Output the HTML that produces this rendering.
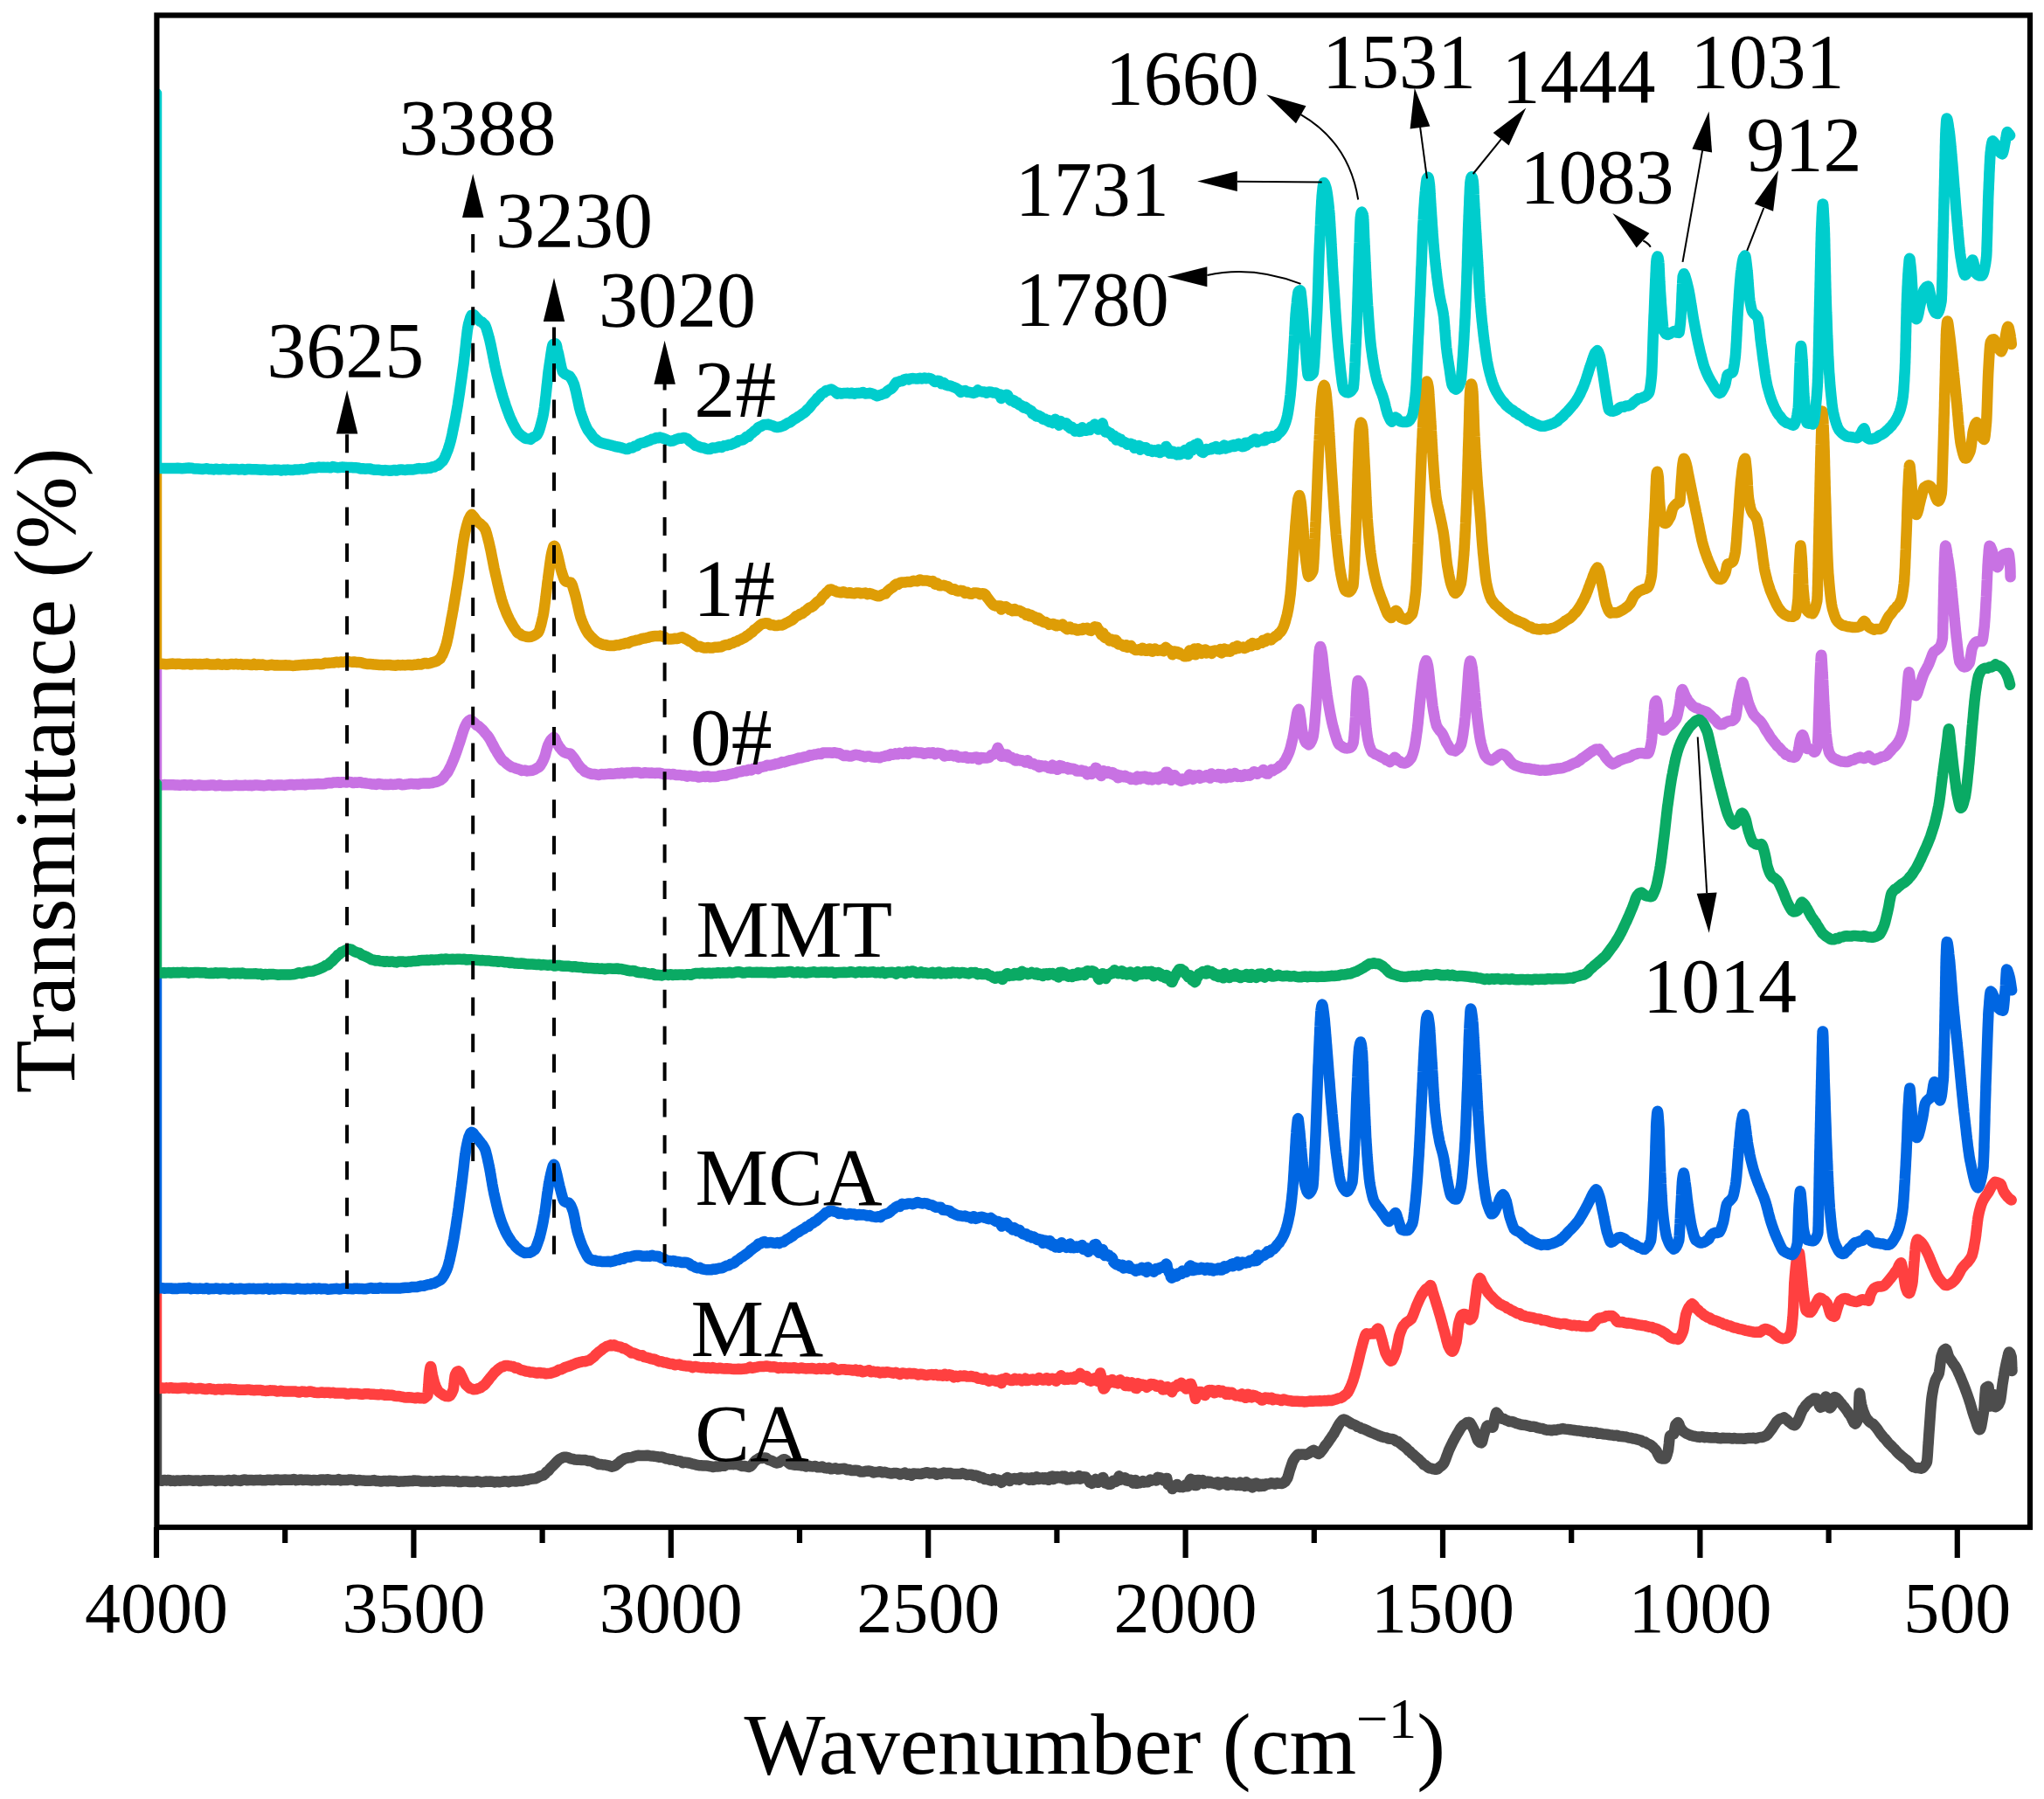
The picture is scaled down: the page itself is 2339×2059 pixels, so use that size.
<!DOCTYPE html><html><head><meta charset="utf-8"><title>FTIR spectra</title>
<style>html,body{margin:0;padding:0;background:#fff}svg{display:block}text{font-family:"Liberation Serif","Times New Roman",serif;fill:#000}</style></head><body>
<svg width="2339" height="2059" viewBox="0 0 2339 2059">
<rect width="2339" height="2059" fill="#fff"/>
<defs><clipPath id="plotclip"><rect x="179.4" y="17.5" width="2143.6" height="1730.5"/></clipPath></defs>
<g fill="none" stroke-linejoin="round" stroke-linecap="round" clip-path="url(#plotclip)">
<path d="M179.0,1589L179.0,1694.2L182.1,1694.2L185.2,1694.8L187.8,1693.9L190.4,1694.5L192.9,1693.9L195.5,1694.9L198.1,1694.6L200.6,1695.0L203.2,1694.4L205.8,1694.7L208.3,1694.5L210.9,1694.3L213.5,1694.6L216.0,1694.1L218.6,1694.4L221.2,1694.7L223.8,1694.5L226.3,1694.4L228.9,1695.1L231.5,1694.5L234.0,1694.3L236.6,1694.5L239.2,1694.3L241.7,1694.3L244.3,1694.3L246.9,1695.0L249.4,1694.4L252.0,1694.4L254.6,1694.6L257.1,1694.9L259.7,1694.3L262.3,1694.1L264.8,1695.0L267.4,1693.8L270.0,1694.2L272.5,1694.5L275.1,1694.9L277.6,1693.9L280.2,1693.4L282.7,1694.3L285.3,1694.0L287.8,1694.0L290.4,1694.2L292.9,1694.1L295.5,1694.1L298.0,1693.8L300.6,1694.3L303.2,1694.3L305.7,1693.8L308.3,1693.7L310.8,1694.0L313.4,1693.9L315.9,1693.4L318.5,1693.6L321.0,1694.0L323.6,1693.7L326.1,1693.6L328.7,1693.8L331.2,1693.7L333.8,1693.7L336.3,1693.1L338.9,1694.2L341.4,1693.8L344.0,1693.4L346.5,1694.0L349.1,1693.8L351.7,1693.7L354.2,1694.0L356.8,1694.4L359.3,1693.9L361.9,1694.2L364.4,1694.3L367.0,1693.4L369.5,1693.5L372.1,1693.9L374.6,1693.2L377.2,1693.6L379.7,1694.1L382.3,1694.0L384.8,1693.9L387.4,1693.1L389.9,1694.4L392.5,1693.9L395.0,1694.0L397.6,1694.0L400.1,1693.4L402.7,1693.6L405.3,1693.7L407.8,1694.8L410.4,1694.0L412.9,1694.3L415.5,1694.4L418.0,1694.7L420.6,1694.8L423.1,1694.8L425.7,1694.5L428.2,1694.1L430.8,1695.0L433.3,1695.1L435.9,1695.5L438.4,1695.1L441.0,1695.0L443.5,1695.3L446.1,1694.7L448.6,1694.9L451.2,1694.9L453.8,1695.3L456.3,1695.8L458.9,1695.4L461.4,1695.5L464.0,1695.2L466.5,1695.3L469.1,1695.0L471.6,1695.1L474.2,1694.4L476.7,1694.8L479.3,1694.8L481.8,1695.4L484.4,1695.4L486.9,1695.5L489.5,1695.6L492.0,1695.1L494.6,1695.5L497.1,1695.8L499.7,1695.2L502.3,1695.5L504.8,1695.1L507.4,1694.7L509.9,1695.2L512.5,1695.0L515.0,1695.3L517.6,1695.2L520.1,1695.5L522.7,1694.8L525.2,1696.1L527.8,1695.9L530.3,1695.5L532.9,1695.4L535.4,1695.7L538.0,1696.0L540.5,1695.9L543.1,1696.0L545.6,1695.3L548.2,1695.6L550.7,1696.4L553.3,1696.1L555.9,1695.6L558.4,1695.8L561.0,1695.6L563.6,1695.7L566.3,1696.4L569.0,1695.9L571.6,1696.2L574.3,1695.9L577.0,1695.3L579.6,1695.5L582.3,1696.2L585.0,1695.2L587.6,1695.0L590.3,1695.5L592.8,1695.0L595.3,1694.8L597.9,1695.0L600.4,1693.7L602.9,1694.0L605.4,1693.2L607.9,1692.7L610.3,1692.4L612.6,1692.3L615.0,1691.2L617.3,1689.8L619.7,1689.0L621.6,1688.5L623.6,1686.9L625.5,1684.6L627.5,1683.4L629.5,1680.8L631.4,1678.8L633.2,1677.2L634.9,1675.3L636.7,1673.5L638.5,1671.6L640.2,1670.1L642.7,1668.9L645.1,1667.8L647.6,1667.8L650.1,1668.1L652.7,1669.3L655.3,1669.8L657.8,1670.6L660.3,1670.7L662.7,1670.8L665.2,1670.9L667.6,1671.0L670.1,1671.1L672.5,1671.9L675.0,1672.1L677.4,1672.5L679.8,1673.9L682.3,1674.7L684.7,1675.9L687.2,1676.0L689.8,1676.4L692.3,1676.5L694.9,1677.1L697.5,1677.7L700.0,1678.7L702.1,1678.2L704.2,1677.4L706.3,1675.7L708.4,1674.1L710.5,1672.0L712.6,1670.9L714.7,1669.5L717.2,1668.7L719.8,1668.3L722.4,1668.3L725.0,1667.2L727.5,1666.3L730.1,1665.8L732.7,1666.0L735.2,1666.0L737.9,1666.0L740.7,1665.7L743.4,1666.2L746.1,1666.4L748.8,1666.8L751.6,1667.1L754.3,1667.8L757.0,1667.5L759.5,1668.3L761.9,1669.4L764.3,1669.4L766.8,1670.5L769.2,1670.2L771.7,1671.1L774.1,1672.0L776.6,1671.9L779.0,1672.6L781.5,1674.3L783.9,1673.6L786.4,1674.0L789.0,1674.5L791.7,1675.3L794.4,1675.8L797.0,1676.7L799.7,1677.2L802.4,1677.2L805.0,1677.6L807.7,1677.6L810.4,1677.8L813.0,1678.3L815.7,1679.0L818.3,1678.6L820.9,1678.6L823.5,1678.3L826.2,1677.4L828.8,1677.8L831.4,1676.3L834.0,1675.9L836.6,1675.7L839.2,1676.2L841.7,1675.8L844.2,1676.0L846.7,1677.1L849.3,1678.0L851.8,1678.0L854.3,1678.4L856.8,1679.1L858.9,1678.2L860.9,1676.1L863.0,1673.2L865.0,1671.3L867.1,1670.0L869.5,1668.4L872.0,1669.1L874.4,1668.4L876.9,1668.7L879.3,1670.7L881.8,1671.4L884.2,1672.5L886.7,1673.8L889.1,1674.5L891.3,1674.0L893.5,1672.3L895.7,1670.7L897.9,1670.2L899.9,1671.5L901.8,1673.9L903.8,1675.7L906.4,1676.1L909.1,1676.7L911.8,1676.7L914.5,1676.9L917.1,1677.5L919.8,1677.6L922.5,1678.4L925.1,1677.7L927.8,1678.3L930.5,1678.4L933.1,1678.0L935.7,1679.3L938.2,1679.2L940.8,1678.4L943.3,1680.0L945.9,1680.4L948.4,1679.8L951.0,1681.3L953.6,1680.8L956.1,1680.3L958.7,1681.5L961.2,1681.2L963.8,1680.9L966.3,1680.7L968.9,1682.3L971.4,1682.0L974.0,1682.9L976.5,1683.0L979.1,1682.7L981.6,1682.9L984.2,1684.4L986.7,1684.6L989.3,1684.2L991.8,1683.7L994.4,1683.5L996.9,1684.1L999.5,1685.5L1002.1,1684.9L1004.6,1684.6L1007.2,1684.2L1009.7,1685.3L1012.3,1684.8L1014.8,1685.5L1017.4,1686.1L1019.9,1686.5L1022.5,1686.1L1025.0,1685.9L1027.6,1686.4L1030.1,1687.6L1032.7,1686.7L1035.2,1685.6L1037.8,1687.7L1040.3,1686.9L1042.9,1688.6L1045.4,1686.5L1048.0,1686.8L1050.6,1686.7L1053.2,1687.1L1055.9,1686.4L1058.6,1685.7L1061.2,1685.2L1063.9,1686.4L1066.6,1686.0L1069.2,1685.8L1071.9,1687.8L1074.6,1686.7L1077.2,1686.9L1079.9,1685.6L1082.6,1686.3L1085.2,1685.9L1087.9,1686.1L1090.6,1687.0L1093.2,1687.0L1095.9,1687.0L1098.6,1687.1L1101.3,1686.1L1103.9,1686.9L1106.6,1688.1L1109.3,1687.8L1111.8,1687.7L1114.3,1689.1L1116.8,1688.6L1119.3,1689.4L1121.8,1691.3L1124.4,1690.9L1126.9,1693.1L1129.4,1693.0L1131.9,1693.8L1134.4,1694.7L1136.9,1692.3L1139.5,1694.4L1142.0,1693.6L1144.5,1694.4L1145.9,1696.9L1147.2,1695.8L1148.6,1694.6L1150.0,1693.3L1151.4,1691.9L1152.8,1691.1L1154.2,1694.3L1155.5,1694.8L1156.9,1693.0L1158.3,1692.6L1159.7,1692.5L1161.1,1692.1L1162.4,1693.2L1163.8,1693.0L1165.2,1692.1L1166.6,1693.8L1168.0,1691.1L1169.4,1692.0L1170.8,1691.9L1172.2,1691.7L1173.6,1691.8L1175.0,1691.6L1176.4,1693.2L1177.8,1693.8L1179.1,1691.6L1180.5,1691.3L1181.9,1693.8L1183.3,1693.6L1184.7,1691.0L1186.1,1690.3L1187.5,1692.8L1188.9,1692.9L1190.3,1691.4L1191.7,1692.4L1193.1,1691.2L1194.5,1693.1L1195.9,1691.3L1197.3,1692.7L1198.7,1693.1L1200.1,1693.8L1201.5,1690.4L1202.9,1689.9L1204.3,1689.5L1205.7,1693.0L1207.1,1690.1L1208.5,1691.7L1209.9,1689.9L1211.3,1690.9L1212.7,1691.4L1214.1,1690.7L1215.5,1689.4L1216.9,1692.2L1218.3,1689.6L1219.7,1692.2L1221.1,1693.4L1222.5,1691.9L1223.9,1693.3L1225.3,1690.7L1226.7,1690.5L1228.0,1692.5L1229.3,1692.4L1230.7,1692.1L1232.0,1692.1L1233.3,1692.3L1234.7,1689.0L1236.0,1692.7L1237.3,1691.3L1238.7,1691.4L1240.0,1690.3L1241.4,1691.2L1242.5,1690.6L1243.7,1692.6L1244.8,1693.1L1246.0,1694.7L1247.1,1696.7L1248.3,1695.6L1249.6,1697.9L1251.0,1694.8L1252.3,1694.3L1253.7,1693.0L1255.0,1694.0L1256.4,1696.8L1257.7,1696.1L1259.1,1694.1L1260.2,1692.9L1261.4,1691.4L1262.5,1691.1L1263.7,1695.8L1264.8,1697.4L1266.0,1697.0L1267.1,1696.9L1268.5,1698.8L1269.8,1696.7L1271.2,1698.7L1272.5,1696.0L1273.9,1694.8L1275.2,1694.9L1276.6,1696.0L1277.9,1695.2L1279.2,1692.3L1280.6,1689.3L1281.9,1693.8L1283.3,1692.6L1284.6,1692.2L1286.0,1692.6L1287.3,1691.2L1288.7,1694.4L1290.0,1693.5L1291.4,1695.0L1292.7,1693.7L1294.0,1693.8L1295.4,1695.0L1296.7,1697.4L1298.1,1696.4L1299.4,1694.0L1300.8,1697.8L1302.1,1697.3L1303.5,1696.5L1304.8,1697.1L1306.2,1696.5L1307.7,1695.1L1309.1,1696.6L1310.5,1696.1L1311.9,1695.7L1313.4,1696.2L1314.8,1695.0L1316.2,1693.6L1317.6,1694.6L1319.1,1693.9L1320.5,1694.1L1321.9,1693.8L1323.3,1694.4L1324.8,1690.8L1326.2,1692.8L1327.6,1691.3L1329.0,1691.9L1330.3,1693.7L1331.5,1694.4L1332.8,1693.7L1334.0,1692.1L1335.3,1692.1L1336.6,1699.1L1337.8,1699.9L1339.1,1699.6L1340.3,1700.8L1341.6,1704.1L1342.8,1701.3L1344.2,1702.1L1345.6,1701.9L1347.0,1699.0L1348.3,1701.1L1349.7,1701.9L1351.1,1702.0L1352.5,1701.5L1353.9,1702.1L1355.2,1701.4L1356.6,1699.6L1358.0,1699.8L1359.1,1701.3L1360.2,1699.2L1361.4,1694.6L1362.5,1692.8L1363.6,1696.2L1364.7,1695.6L1366.1,1694.0L1367.6,1700.1L1369.0,1700.0L1370.5,1693.9L1371.9,1694.0L1373.3,1694.8L1374.8,1696.4L1376.2,1694.1L1377.6,1698.1L1379.1,1695.6L1380.5,1696.1L1381.9,1695.6L1383.4,1697.2L1384.8,1695.7L1386.2,1697.3L1387.7,1697.4L1389.1,1697.6L1390.5,1698.1L1391.9,1696.8L1393.3,1696.3L1394.7,1699.5L1396.2,1698.3L1397.6,1697.2L1399.0,1697.4L1400.4,1698.2L1401.8,1697.8L1403.2,1696.0L1404.7,1699.8L1406.1,1699.5L1407.5,1697.2L1408.9,1698.0L1410.3,1699.3L1411.7,1697.2L1413.1,1699.0L1414.6,1699.9L1416.0,1698.4L1417.5,1699.4L1418.9,1696.6L1420.3,1700.0L1421.8,1699.7L1423.2,1699.9L1424.6,1700.9L1426.1,1696.2L1427.5,1700.4L1428.9,1699.6L1430.4,1698.9L1431.8,1698.4L1433.2,1702.4L1434.7,1698.3L1436.1,1700.0L1437.5,1697.5L1439.0,1700.4L1440.4,1701.0L1441.9,1698.7L1443.3,1700.9L1444.7,1698.8L1446.2,1700.7L1447.6,1700.1L1449.0,1698.3L1450.5,1698.7L1451.9,1698.6L1453.3,1698.2L1454.8,1697.2L1456.2,1697.6L1458.9,1698.5L1461.6,1697.3L1464.3,1697.8L1467.0,1698.0L1468.8,1697.1L1470.6,1695.9L1472.3,1693.2L1473.2,1691.9L1474.0,1689.6L1474.8,1686.8L1475.6,1683.9L1476.4,1681.4L1477.4,1678.4L1478.4,1675.3L1479.4,1672.6L1480.4,1670.8L1482.1,1668.1L1483.8,1666.2L1485.5,1664.5L1487.1,1664.7L1489.4,1664.5L1491.6,1664.4L1493.9,1665.0L1496.2,1664.2L1498.6,1662.8L1500.9,1661.1L1503.3,1659.8L1505.1,1660.9L1506.9,1662.9L1508.7,1664.0L1510.3,1663.1L1511.9,1661.2L1513.5,1659.4L1515.1,1657.0L1516.7,1654.3L1518.3,1652.6L1519.9,1650.4L1521.5,1647.9L1523.0,1645.8L1524.6,1643.3L1526.2,1641.2L1527.5,1638.8L1528.9,1636.3L1530.2,1633.8L1531.5,1631.5L1532.9,1629.2L1534.2,1627.5L1536.1,1625.3L1537.9,1624.5L1540.0,1625.3L1542.2,1626.7L1544.3,1627.9L1546.6,1629.5L1548.9,1630.3L1551.2,1631.2L1553.5,1633.0L1555.8,1633.5L1558.1,1635.0L1560.4,1635.4L1562.8,1636.5L1565.1,1637.5L1567.5,1638.9L1569.9,1639.7L1572.2,1640.6L1574.6,1641.7L1576.9,1642.6L1579.3,1643.7L1581.6,1644.5L1584.0,1645.1L1586.3,1645.4L1588.7,1646.5L1591.0,1646.8L1593.4,1646.9L1595.7,1647.9L1598.1,1649.7L1600.0,1650.0L1601.9,1651.8L1603.9,1653.3L1605.8,1654.8L1607.7,1656.1L1609.6,1657.7L1611.6,1660.1L1613.5,1661.3L1615.4,1663.5L1617.3,1664.7L1619.2,1666.7L1621.2,1668.5L1623.1,1669.8L1625.0,1671.9L1627.2,1673.9L1629.3,1676.3L1631.5,1677.3L1633.6,1679.0L1635.8,1680.3L1638.1,1680.7L1640.5,1681.4L1642.9,1681.8L1645.0,1681.4L1647.1,1679.4L1649.2,1677.9L1651.3,1675.9L1652.2,1674.6L1653.2,1672.6L1654.2,1670.2L1655.1,1667.5L1656.1,1664.8L1657.1,1662.2L1658.0,1659.8L1659.2,1657.3L1660.3,1654.9L1661.5,1652.5L1662.6,1650.1L1663.8,1647.9L1664.9,1645.7L1666.1,1643.7L1667.4,1641.4L1668.8,1639.2L1670.1,1636.9L1671.5,1634.5L1672.8,1632.9L1674.2,1631.3L1676.4,1630.1L1678.6,1628.2L1680.9,1627.8L1682.2,1628.3L1683.6,1630.5L1684.9,1632.9L1686.3,1635.6L1687.2,1637.6L1688.1,1640.2L1689.0,1642.9L1689.9,1645.4L1690.7,1647.6L1691.6,1649.2L1693.4,1650.8L1695.1,1651.4L1696.0,1650.5L1696.8,1647.5L1697.6,1643.9L1698.4,1641.0L1699.4,1638.0L1700.4,1634.9L1701.4,1632.3L1702.4,1631.6L1705.1,1633.0L1707.8,1633.8L1708.4,1633.4L1709.0,1631.1L1709.6,1628.1L1710.2,1624.9L1710.8,1622.2L1711.5,1618.8L1712.3,1616.6L1713.7,1618.2L1715.1,1620.2L1716.5,1622.0L1718.7,1623.7L1721.0,1624.0L1723.2,1625.4L1725.5,1626.2L1727.7,1627.1L1730.0,1627.0L1732.4,1627.8L1734.8,1628.9L1737.2,1629.5L1739.6,1630.3L1742.1,1630.8L1744.5,1630.9L1746.9,1631.4L1749.3,1632.1L1751.7,1632.8L1754.2,1632.7L1756.9,1633.2L1759.6,1634.2L1762.2,1634.7L1764.9,1634.9L1767.6,1636.1L1770.3,1636.8L1773.0,1636.8L1775.7,1637.2L1778.2,1636.5L1780.7,1636.7L1783.3,1636.0L1785.8,1635.6L1788.3,1635.1L1791.0,1635.6L1793.7,1635.9L1796.4,1636.2L1799.0,1636.6L1801.7,1637.0L1804.4,1637.4L1807.1,1637.6L1809.8,1638.0L1812.5,1638.6L1815.2,1638.4L1817.8,1639.4L1820.5,1639.0L1823.2,1639.7L1825.9,1639.5L1828.6,1640.8L1831.3,1640.6L1834.0,1641.2L1836.6,1641.4L1839.3,1641.8L1842.0,1642.2L1844.7,1642.5L1847.4,1643.1L1850.1,1642.8L1852.8,1643.7L1855.4,1644.0L1858.1,1644.3L1860.8,1644.5L1863.5,1645.5L1866.2,1645.7L1868.9,1646.5L1871.2,1646.7L1873.5,1647.4L1875.8,1648.1L1878.1,1648.6L1880.4,1650.4L1882.7,1650.6L1885.0,1652.2L1886.9,1653.0L1888.8,1653.9L1890.6,1655.2L1892.5,1657.3L1894.4,1659.2L1895.8,1661.2L1897.1,1664.2L1898.5,1666.7L1899.9,1668.8L1902.4,1669.6L1905.0,1669.6L1905.9,1668.9L1906.9,1666.9L1907.9,1663.9L1908.9,1660.4L1909.2,1658.5L1909.5,1655.7L1909.9,1652.4L1910.2,1649.1L1910.5,1646.1L1910.9,1643.9L1911.2,1643.2L1913.2,1642.1L1915.3,1641.2L1915.8,1639.9L1916.3,1636.5L1916.9,1632.9L1917.4,1630.7L1920.1,1628.0L1921.2,1629.6L1922.2,1632.5L1923.3,1634.7L1925.3,1637.5L1927.3,1639.0L1929.4,1640.5L1931.4,1641.4L1934.1,1642.6L1936.7,1643.3L1939.4,1643.9L1942.1,1644.5L1944.8,1644.9L1947.5,1644.2L1950.2,1645.2L1952.9,1644.9L1955.5,1645.2L1958.2,1645.5L1960.9,1645.4L1963.6,1645.2L1966.3,1646.0L1969.0,1646.2L1971.7,1645.8L1974.3,1645.9L1977.0,1646.0L1979.7,1646.1L1982.4,1646.5L1985.1,1646.0L1987.8,1646.6L1990.5,1646.6L1993.1,1646.5L1995.8,1646.7L1998.5,1646.3L2001.2,1646.1L2003.9,1646.1L2006.6,1645.8L2009.3,1646.5L2011.9,1645.5L2014.3,1645.0L2016.6,1645.0L2019.0,1644.0L2021.3,1643.0L2023.0,1641.4L2024.7,1639.2L2026.4,1637.0L2028.1,1634.7L2029.7,1632.2L2031.4,1629.6L2033.1,1627.1L2034.8,1625.5L2037.0,1623.9L2039.3,1623.5L2041.5,1622.4L2043.3,1623.7L2045.1,1625.1L2046.9,1627.2L2049.1,1628.7L2051.3,1630.6L2053.6,1631.3L2054.9,1630.4L2056.3,1628.0L2057.6,1625.5L2058.7,1623.3L2059.8,1620.6L2060.8,1617.9L2061.9,1615.4L2063.0,1613.2L2064.6,1611.4L2066.2,1608.7L2067.8,1607.0L2069.4,1605.5L2071.0,1603.9L2073.5,1602.4L2076.0,1600.5L2078.6,1600.4L2079.7,1601.6L2080.8,1605.3L2082.0,1609.0L2083.1,1610.8L2086.6,1609.4L2087.3,1607.4L2088.0,1603.7L2088.6,1600.2L2089.3,1598.5L2090.2,1599.9L2091.1,1603.1L2092.0,1606.9L2093.0,1610.1L2093.9,1611.5L2095.8,1609.8L2097.6,1606.6L2098.2,1604.0L2098.8,1600.4L2099.4,1599.0L2101.7,1600.1L2103.9,1602.5L2105.6,1604.8L2107.3,1606.5L2108.9,1608.8L2110.6,1610.6L2112.3,1613.0L2114.0,1615.3L2115.6,1617.9L2117.3,1619.9L2118.8,1622.8L2120.2,1625.9L2121.6,1628.5L2123.1,1629.5L2124.0,1628.8L2124.9,1627.2L2125.8,1624.3L2126.7,1620.1L2126.8,1618.9L2126.9,1616.6L2127.1,1613.6L2127.2,1610.2L2127.3,1606.5L2127.4,1602.9L2127.5,1599.7L2127.7,1597.0L2127.8,1595.2L2127.9,1594.6L2128.3,1595.7L2128.6,1598.3L2129.0,1601.5L2129.4,1604.0L2130.0,1607.2L2130.7,1610.1L2131.4,1612.6L2132.1,1614.7L2133.2,1617.5L2134.2,1620.0L2135.3,1622.2L2136.4,1624.0L2137.5,1625.3L2139.5,1627.5L2141.5,1628.9L2143.5,1629.8L2145.5,1632.1L2147.1,1634.0L2148.7,1636.1L2150.4,1638.7L2152.0,1641.0L2153.6,1642.8L2155.4,1645.2L2157.2,1646.9L2159.0,1649.2L2160.7,1651.3L2162.5,1653.1L2164.3,1654.8L2166.1,1656.8L2167.9,1658.4L2169.7,1660.5L2171.5,1662.5L2173.3,1664.3L2175.1,1665.7L2177.1,1667.4L2179.1,1669.1L2181.1,1670.5L2183.1,1672.2L2184.8,1674.3L2186.5,1676.4L2188.2,1678.1L2189.8,1679.1L2192.6,1679.9L2195.5,1680.1L2198.3,1680.7L2199.9,1680.3L2201.5,1678.9L2203.2,1676.6L2204.8,1673.8L2205.0,1673.0L2205.2,1671.6L2205.4,1669.7L2205.6,1667.3L2205.8,1664.5L2206.0,1661.5L2206.2,1658.2L2206.4,1654.9L2206.7,1651.4L2206.9,1648.0L2207.1,1644.8L2207.3,1641.7L2207.5,1638.9L2207.7,1636.3L2207.9,1633.5L2208.1,1630.7L2208.3,1627.8L2208.5,1625.0L2208.7,1622.1L2208.9,1619.2L2209.1,1616.4L2209.3,1613.6L2209.5,1611.0L2209.7,1608.5L2209.9,1606.1L2210.1,1603.9L2210.3,1601.9L2210.5,1600.1L2210.7,1598.6L2211.3,1594.8L2211.9,1591.5L2212.4,1588.5L2213.0,1585.8L2213.6,1583.5L2214.2,1581.5L2214.7,1579.8L2216.1,1577.0L2217.4,1574.9L2218.8,1571.7L2219.1,1570.0L2219.5,1567.3L2219.9,1564.2L2220.3,1560.9L2220.7,1557.7L2221.1,1554.9L2221.4,1552.9L2222.5,1549.3L2223.5,1546.6L2224.5,1545.0L2226.5,1543.8L2227.4,1544.7L2228.3,1547.3L2229.2,1550.5L2230.1,1552.9L2231.5,1555.2L2232.8,1557.1L2234.2,1559.1L2235.5,1561.3L2236.8,1562.7L2238.2,1565.0L2239.3,1567.1L2240.4,1569.4L2241.5,1571.9L2242.7,1574.5L2243.8,1577.1L2244.9,1579.8L2245.8,1582.0L2246.7,1584.2L2247.6,1586.5L2248.5,1588.8L2249.4,1591.2L2250.3,1593.7L2251.2,1596.1L2252.1,1598.7L2253.0,1601.3L2253.7,1603.5L2254.5,1605.9L2255.2,1608.4L2255.9,1610.9L2256.7,1613.5L2257.4,1616.0L2258.2,1618.4L2258.9,1620.7L2259.7,1622.8L2260.6,1625.5L2261.6,1628.5L2262.5,1631.4L2263.5,1633.9L2264.5,1635.7L2265.4,1636.2L2266.0,1635.9L2266.6,1634.3L2267.2,1632.2L2267.7,1629.4L2268.3,1626.2L2268.9,1622.5L2269.5,1618.7L2270.1,1614.7L2270.3,1612.6L2270.6,1609.9L2270.8,1606.6L2271.0,1603.1L2271.3,1599.5L2271.5,1596.1L2271.8,1593.0L2272.0,1590.4L2272.2,1588.6L2272.5,1588.3L2275.2,1586.8L2275.5,1587.3L2275.8,1589.4L2276.1,1592.4L2276.4,1596.0L2276.7,1599.8L2277.0,1603.4L2277.3,1606.5L2277.6,1608.6L2277.8,1609.5L2278.5,1607.9L2279.1,1604.6L2279.8,1600.6L2280.4,1597.3L2281.1,1595.9L2281.4,1597.0L2281.8,1599.7L2282.1,1603.3L2282.5,1606.8L2282.9,1609.6L2283.2,1610.3L2285.0,1609.4L2286.8,1607.7L2288.6,1604.0L2289.0,1602.6L2289.4,1600.5L2289.8,1597.9L2290.2,1594.9L2290.6,1591.6L2291.0,1588.4L2291.4,1585.2L2291.8,1582.5L2292.3,1579.6L2292.7,1576.8L2293.2,1574.0L2293.6,1571.3L2294.1,1568.8L2294.5,1566.4L2295.1,1563.4L2295.7,1560.6L2296.3,1557.9L2296.9,1555.4L2297.5,1552.9L2298.2,1549.5L2299.0,1547.4L2300.3,1548.8L2301.7,1552.9L2301.8,1554.1L2301.9,1556.4L2302.1,1559.4L2302.2,1562.7L2302.3,1566.1L2302.5,1569.0" stroke="#4D4D4D" stroke-width="12.5"/>
<path d="M179.0,1474L179.0,1588.8L182.1,1589.0L185.2,1588.5L187.8,1588.8L190.4,1588.3L192.9,1588.7L195.5,1588.3L198.1,1588.7L200.6,1588.7L203.2,1589.0L205.8,1588.7L208.3,1588.6L210.9,1588.6L213.5,1588.5L216.0,1589.5L218.6,1588.5L221.2,1589.1L223.8,1589.4L226.3,1589.2L228.9,1588.9L231.5,1589.5L234.0,1589.9L236.6,1589.9L239.2,1589.2L241.7,1589.7L244.3,1590.0L246.9,1590.6L249.4,1589.9L252.0,1590.0L254.6,1590.5L257.1,1589.7L259.7,1590.1L262.3,1589.7L264.8,1590.2L267.4,1590.2L270.0,1590.3L272.6,1590.8L275.2,1590.8L277.8,1590.8L280.4,1590.7L283.0,1590.6L285.5,1590.5L288.1,1591.1L290.7,1591.2L293.3,1591.0L295.9,1590.9L298.5,1591.0L301.1,1591.6L303.7,1591.9L306.3,1591.8L308.9,1591.3L311.4,1591.6L314.0,1591.5L316.6,1592.4L319.2,1592.2L321.8,1591.8L324.4,1592.4L327.0,1592.4L329.6,1592.5L332.2,1592.6L334.8,1592.4L337.3,1592.4L339.9,1593.0L342.5,1593.5L345.1,1592.6L347.7,1592.7L350.3,1593.3L352.9,1592.8L355.5,1592.5L358.0,1593.2L360.6,1593.8L363.1,1593.9L365.7,1593.9L368.2,1593.5L370.8,1593.9L373.3,1593.7L375.9,1593.8L378.5,1594.2L381.0,1593.8L383.6,1594.5L386.1,1594.5L388.7,1594.6L391.2,1594.6L393.8,1594.4L396.3,1595.4L398.9,1595.5L401.4,1594.8L404.0,1594.9L406.5,1594.9L409.1,1595.1L411.6,1595.5L414.2,1595.8L416.9,1595.3L419.5,1595.3L422.2,1595.3L424.9,1595.8L427.5,1595.8L430.2,1596.1L432.9,1596.3L435.5,1595.8L438.2,1596.2L440.9,1596.8L443.5,1596.6L446.2,1596.8L448.9,1596.7L451.5,1597.8L454.2,1598.0L456.9,1598.0L459.6,1598.7L462.2,1599.2L464.9,1599.5L467.6,1599.2L470.2,1599.5L472.9,1599.9L475.5,1600.3L478.0,1599.5L480.6,1600.3L483.2,1599.9L485.2,1600.4L487.2,1598.9L489.3,1597.0L489.5,1596.0L489.7,1594.1L489.9,1591.5L490.1,1588.4L490.4,1584.9L490.6,1581.5L490.8,1578.3L491.0,1575.5L491.2,1573.3L491.6,1570.1L492.0,1567.1L492.5,1564.8L492.9,1563.9L493.3,1565.0L493.8,1567.7L494.3,1570.8L494.8,1573.3L495.5,1576.3L496.2,1579.2L496.9,1581.9L497.7,1584.3L498.4,1586.4L499.1,1588.0L500.6,1590.8L502.0,1592.8L503.5,1594.1L505.0,1594.9L507.8,1597.0L510.6,1598.1L513.4,1598.2L515.1,1597.3L516.8,1594.8L518.5,1591.0L518.9,1589.4L519.2,1586.9L519.6,1583.7L519.9,1580.4L520.3,1577.3L520.6,1574.8L521.0,1573.3L522.7,1570.0L524.5,1569.3L526.0,1570.5L527.4,1573.2L528.9,1576.3L530.0,1578.6L531.1,1581.1L532.2,1583.5L533.3,1585.0L535.5,1586.9L537.7,1589.0L539.9,1589.5L542.1,1590.3L544.7,1590.1L547.2,1589.2L549.8,1588.4L552.4,1586.3L554.1,1585.4L555.8,1583.5L557.5,1581.3L559.2,1579.2L560.9,1576.9L562.7,1574.9L564.4,1572.7L566.2,1570.6L567.9,1569.2L569.7,1567.5L571.5,1566.1L573.7,1564.7L575.9,1564.2L578.1,1562.9L580.3,1562.9L582.6,1563.3L585.0,1563.7L587.3,1564.0L589.7,1565.8L592.0,1565.5L594.5,1567.2L597.0,1568.2L599.6,1568.7L602.1,1569.5L604.6,1569.7L607.1,1570.5L609.6,1570.4L612.1,1571.1L614.7,1571.5L617.2,1571.0L619.7,1571.5L622.2,1571.5L624.7,1572.3L627.2,1571.9L629.8,1571.8L632.3,1571.0L634.8,1570.3L637.3,1569.2L639.8,1567.7L642.3,1567.3L644.9,1565.9L647.3,1564.7L649.7,1564.0L652.2,1563.2L654.6,1562.2L657.1,1561.3L659.5,1560.3L662.0,1559.5L664.4,1558.9L666.9,1558.2L669.3,1558.3L671.8,1557.5L674.2,1556.9L676.2,1555.4L678.1,1554.1L680.1,1552.4L682.0,1550.2L684.0,1548.5L685.9,1546.9L688.1,1545.4L690.3,1543.4L692.6,1542.0L694.8,1540.7L696.7,1540.2L698.6,1539.4L700.0,1540.3L702.5,1539.2L705.0,1540.7L707.5,1541.2L710.1,1541.6L712.6,1543.0L715.1,1543.5L717.6,1545.1L720.1,1546.5L722.6,1548.4L725.1,1548.5L727.7,1549.5L730.1,1550.7L732.5,1551.5L735.0,1551.2L737.4,1553.2L739.9,1553.6L742.3,1554.2L744.8,1555.1L747.2,1555.5L749.7,1556.0L752.1,1557.2L754.6,1558.3L757.0,1558.2L759.5,1559.2L762.0,1559.5L764.6,1560.4L767.1,1561.0L769.6,1561.0L772.1,1562.3L774.6,1561.9L777.2,1561.6L779.8,1562.6L782.3,1563.0L784.9,1563.4L787.5,1563.5L790.0,1563.8L792.6,1565.1L795.2,1563.9L797.7,1564.4L800.3,1564.9L802.9,1565.2L805.4,1565.0L808.0,1565.7L810.6,1565.3L813.1,1566.1L815.7,1565.1L818.4,1566.0L821.1,1566.2L823.7,1565.8L826.4,1566.2L829.1,1566.5L831.7,1566.2L834.4,1566.4L837.1,1566.7L839.7,1566.9L842.4,1567.1L845.1,1566.7L847.7,1567.0L850.4,1566.8L853.1,1566.6L855.7,1566.0L858.4,1564.6L861.1,1565.8L863.8,1565.1L866.4,1564.6L869.1,1564.0L871.8,1564.1L874.4,1563.9L877.1,1563.5L879.8,1563.9L882.4,1564.6L885.1,1564.2L887.8,1564.7L890.4,1565.9L893.1,1565.1L895.8,1565.7L898.4,1565.1L901.1,1565.7L903.8,1565.5L906.4,1565.7L909.0,1565.2L911.5,1566.0L914.1,1566.2L916.7,1565.5L919.3,1566.0L921.9,1566.4L924.5,1566.2L927.1,1566.3L929.7,1566.0L932.3,1566.6L934.9,1567.0L937.5,1566.0L940.0,1566.8L942.6,1566.1L945.2,1566.7L947.8,1567.1L950.4,1566.1L953.0,1565.4L955.6,1567.0L958.2,1567.9L960.8,1567.7L963.4,1567.2L965.9,1567.3L968.5,1567.7L971.1,1567.8L973.7,1568.0L976.3,1568.5L978.9,1567.6L981.5,1569.3L984.1,1568.0L986.7,1570.2L989.3,1569.8L991.8,1569.1L994.4,1568.3L996.9,1570.3L999.5,1569.6L1002.1,1570.4L1004.6,1570.0L1007.2,1571.4L1009.7,1570.4L1012.3,1571.1L1014.8,1570.2L1017.4,1570.7L1019.9,1571.1L1022.5,1571.7L1025.0,1570.8L1027.6,1571.9L1030.1,1573.0L1032.7,1571.4L1035.2,1571.8L1037.8,1572.6L1040.3,1571.8L1042.9,1572.2L1045.4,1572.0L1048.0,1572.4L1050.6,1573.5L1053.1,1572.7L1055.7,1573.0L1058.2,1573.6L1060.8,1574.0L1063.3,1573.4L1065.9,1573.1L1068.4,1573.8L1071.0,1573.1L1073.5,1574.2L1076.1,1573.8L1078.6,1574.8L1081.2,1572.9L1083.7,1574.7L1086.3,1573.3L1088.8,1573.8L1091.4,1576.3L1093.9,1574.8L1096.5,1575.9L1099.0,1574.5L1101.6,1575.1L1104.2,1574.4L1106.7,1575.5L1109.3,1575.5L1111.8,1575.0L1114.3,1576.0L1116.8,1576.1L1119.3,1577.7L1121.8,1577.7L1124.4,1578.7L1126.9,1577.6L1129.4,1579.6L1131.9,1580.7L1134.4,1579.4L1136.9,1579.7L1139.5,1580.7L1142.0,1580.9L1144.5,1579.2L1145.9,1583.2L1147.2,1578.6L1148.6,1578.7L1150.0,1579.4L1151.4,1577.2L1152.8,1578.5L1154.2,1579.2L1155.5,1579.2L1156.9,1580.0L1158.3,1580.1L1159.7,1578.8L1161.1,1577.9L1162.4,1579.4L1163.8,1579.4L1165.2,1579.1L1166.6,1578.2L1168.0,1578.8L1169.4,1580.3L1170.8,1579.4L1172.2,1578.7L1173.6,1577.6L1175.0,1580.1L1176.4,1580.1L1177.8,1579.3L1179.1,1578.9L1180.5,1578.7L1181.9,1578.6L1183.3,1579.5L1184.7,1579.4L1186.1,1579.9L1187.5,1578.6L1188.9,1576.9L1190.3,1578.4L1191.7,1578.2L1193.1,1579.4L1194.5,1579.5L1195.9,1579.2L1197.3,1577.3L1198.7,1577.5L1200.1,1579.9L1201.5,1578.8L1202.9,1578.2L1204.3,1577.7L1205.7,1578.5L1207.1,1578.6L1208.5,1580.7L1209.9,1577.5L1211.3,1578.6L1212.7,1576.5L1214.1,1574.3L1215.5,1577.7L1216.9,1578.0L1218.3,1578.9L1219.7,1577.7L1221.1,1576.7L1222.5,1578.8L1223.9,1577.9L1225.3,1576.7L1226.7,1577.8L1228.0,1578.6L1229.3,1578.6L1230.7,1575.2L1232.0,1576.7L1233.3,1575.9L1234.7,1575.2L1236.0,1571.8L1237.3,1574.5L1238.7,1574.3L1240.0,1576.6L1241.4,1575.0L1242.3,1575.8L1243.3,1575.0L1244.3,1577.0L1245.3,1578.2L1246.3,1580.1L1247.3,1579.0L1248.3,1580.7L1249.6,1579.3L1251.0,1579.9L1252.3,1577.3L1253.7,1577.9L1255.0,1576.5L1256.4,1581.1L1257.3,1575.1L1258.2,1576.1L1259.1,1571.4L1259.4,1572.7L1259.7,1573.5L1260.0,1574.8L1260.3,1576.3L1260.6,1578.2L1260.9,1580.1L1261.2,1582.1L1261.5,1584.1L1261.9,1585.9L1262.2,1587.5L1262.5,1588.8L1262.8,1589.6L1263.1,1586.3L1263.8,1589.4L1264.4,1588.4L1265.1,1586.9L1265.8,1585.2L1266.5,1583.4L1267.1,1581.9L1267.8,1580.2L1268.5,1583.2L1269.8,1582.5L1271.2,1581.2L1272.5,1579.0L1273.9,1581.3L1275.2,1582.4L1276.6,1582.3L1277.9,1580.8L1279.2,1583.4L1280.6,1581.7L1282.0,1579.3L1283.5,1582.6L1284.9,1583.3L1286.3,1584.4L1287.8,1586.1L1289.2,1581.7L1290.6,1583.1L1292.1,1586.3L1293.5,1584.1L1294.9,1582.3L1296.4,1583.2L1297.8,1585.8L1299.2,1588.6L1300.7,1589.0L1302.1,1583.3L1303.5,1585.0L1305.0,1585.9L1306.4,1584.4L1307.8,1585.5L1309.2,1585.0L1310.7,1586.1L1312.1,1587.7L1313.5,1586.9L1314.9,1586.1L1316.4,1584.1L1317.8,1584.1L1319.2,1584.3L1320.6,1584.5L1322.1,1585.1L1323.5,1586.8L1324.9,1586.7L1326.3,1586.1L1327.7,1585.5L1329.0,1587.1L1330.4,1590.4L1331.7,1587.6L1333.1,1590.3L1334.4,1587.7L1335.8,1587.3L1337.1,1590.1L1338.4,1589.2L1339.8,1589.2L1341.1,1593.2L1342.5,1589.8L1343.8,1587.3L1345.2,1588.0L1346.5,1586.6L1347.9,1584.6L1349.2,1585.5L1350.6,1585.4L1351.9,1582.8L1353.2,1586.6L1354.6,1586.2L1355.9,1586.7L1357.3,1589.6L1358.6,1587.5L1360.0,1586.4L1361.3,1583.9L1362.7,1583.8L1364.0,1586.7L1364.7,1589.4L1365.3,1590.9L1366.0,1592.8L1366.7,1594.7L1367.4,1598.2L1368.0,1601.0L1369.4,1596.6L1370.7,1596.4L1372.1,1593.2L1373.4,1592.9L1374.8,1593.2L1376.1,1595.5L1377.5,1593.9L1378.8,1597.0L1380.1,1594.2L1381.5,1594.3L1382.8,1591.3L1384.2,1590.9L1385.5,1591.7L1386.9,1591.1L1388.2,1591.5L1389.6,1594.1L1390.9,1593.8L1392.3,1592.7L1393.6,1591.5L1394.9,1591.3L1396.3,1593.4L1397.6,1593.1L1399.0,1592.0L1400.3,1593.2L1401.7,1593.2L1403.0,1595.8L1404.4,1593.4L1405.7,1593.4L1407.1,1595.9L1408.4,1594.4L1409.7,1593.7L1411.2,1596.0L1412.6,1596.3L1414.0,1597.4L1415.4,1597.3L1416.8,1597.0L1418.2,1596.6L1419.7,1598.3L1421.1,1595.3L1422.5,1597.2L1423.9,1599.0L1425.3,1599.8L1426.7,1599.1L1428.2,1595.7L1429.6,1598.9L1431.0,1597.3L1432.4,1599.4L1433.8,1596.7L1435.2,1598.5L1436.7,1597.6L1438.1,1598.6L1439.5,1598.9L1440.9,1600.3L1442.3,1600.1L1443.7,1602.4L1445.2,1602.4L1446.6,1600.6L1448.0,1599.6L1449.4,1600.5L1450.8,1599.8L1452.2,1601.3L1453.7,1600.9L1455.1,1599.8L1456.5,1602.3L1457.9,1601.1L1459.3,1601.3L1460.7,1601.4L1462.1,1601.8L1463.6,1601.9L1466.2,1603.0L1468.8,1601.5L1471.4,1602.4L1474.0,1603.0L1476.6,1603.3L1479.2,1603.7L1481.8,1603.8L1484.4,1603.7L1487.0,1603.9L1489.6,1603.9L1492.2,1604.4L1494.8,1604.3L1497.3,1603.9L1499.9,1603.5L1502.5,1603.7L1505.1,1603.6L1507.7,1603.6L1510.2,1603.3L1512.8,1603.4L1515.4,1603.1L1518.1,1603.2L1520.8,1602.8L1523.5,1603.0L1526.2,1602.2L1528.9,1601.5L1531.5,1600.4L1533.9,1600.1L1536.3,1598.9L1538.6,1597.0L1541.0,1595.3L1542.1,1594.0L1543.2,1592.1L1544.3,1589.9L1545.4,1587.4L1546.6,1584.7L1547.7,1581.8L1548.4,1580.0L1549.0,1577.9L1549.7,1575.6L1550.4,1573.2L1551.1,1570.7L1551.7,1568.1L1552.4,1565.5L1553.1,1563.0L1553.7,1560.7L1554.3,1558.2L1554.9,1555.7L1555.5,1553.2L1556.1,1550.6L1556.7,1548.1L1557.3,1545.8L1557.9,1543.5L1558.5,1541.4L1559.3,1538.3L1560.2,1535.0L1561.1,1531.9L1562.0,1529.2L1562.9,1527.3L1563.8,1526.3L1566.5,1526.9L1569.2,1526.3L1571.9,1526.6L1573.6,1525.0L1575.3,1522.0L1576.9,1520.4L1577.9,1521.5L1578.8,1524.2L1579.7,1527.5L1580.6,1530.7L1581.3,1532.9L1582.0,1535.4L1582.6,1538.1L1583.3,1540.8L1584.0,1543.4L1584.7,1545.8L1585.3,1547.9L1586.0,1549.5L1587.4,1552.4L1588.9,1555.0L1590.3,1556.9L1591.7,1557.7L1592.9,1557.0L1594.0,1555.3L1595.2,1552.9L1596.3,1550.0L1597.5,1546.8L1598.0,1544.8L1598.6,1542.2L1599.2,1539.2L1599.8,1536.0L1600.4,1532.9L1600.9,1530.2L1601.5,1528.0L1602.6,1524.8L1603.7,1522.0L1604.7,1519.5L1605.8,1517.5L1606.9,1516.4L1608.9,1513.9L1610.9,1512.7L1612.9,1511.2L1615.0,1509.6L1615.9,1507.6L1616.9,1505.6L1617.8,1503.2L1618.8,1500.5L1619.8,1497.9L1620.7,1495.3L1621.7,1493.0L1622.8,1490.5L1623.9,1488.0L1625.0,1485.6L1626.2,1483.3L1627.3,1481.1L1628.4,1480.0L1630.1,1477.3L1631.7,1475.3L1633.4,1474.3L1635.0,1473.0L1636.9,1470.9L1637.9,1472.5L1638.9,1476.0L1639.8,1479.6L1640.6,1481.9L1641.3,1484.2L1642.1,1486.5L1642.8,1488.9L1643.5,1491.3L1644.3,1493.7L1645.0,1496.1L1645.8,1498.6L1646.5,1501.1L1647.2,1503.4L1647.9,1505.8L1648.6,1508.1L1649.2,1510.6L1649.9,1513.0L1650.6,1515.5L1651.2,1518.0L1651.9,1520.4L1652.6,1522.9L1653.3,1525.3L1654.0,1528.2L1654.8,1531.2L1655.5,1534.3L1656.3,1537.1L1657.0,1539.6L1657.8,1541.4L1659.1,1544.0L1660.4,1545.8L1661.7,1546.8L1662.6,1546.5L1663.6,1544.7L1664.5,1542.3L1665.4,1539.4L1666.4,1536.1L1666.7,1534.3L1667.1,1531.7L1667.5,1528.7L1667.8,1525.4L1668.2,1522.1L1668.6,1519.1L1668.9,1516.4L1669.3,1514.5L1670.2,1511.2L1671.1,1508.4L1671.9,1506.2L1672.8,1505.0L1674.8,1503.9L1676.8,1504.2L1678.5,1505.4L1680.1,1508.9L1681.7,1510.4L1683.6,1509.6L1685.5,1506.5L1685.8,1505.3L1686.2,1503.4L1686.6,1500.9L1687.0,1498.0L1687.4,1494.8L1687.8,1491.5L1688.2,1488.1L1688.6,1485.0L1689.0,1482.3L1689.4,1479.3L1689.8,1476.1L1690.2,1472.9L1690.7,1470.0L1691.1,1467.7L1691.5,1466.1L1693.4,1462.8L1694.4,1464.0L1695.4,1466.5L1696.3,1468.8L1697.7,1471.2L1699.0,1473.5L1700.4,1475.6L1701.7,1477.5L1703.0,1479.7L1704.8,1481.8L1706.6,1483.6L1708.4,1485.5L1710.2,1487.5L1712.0,1488.9L1713.8,1490.5L1716.1,1492.5L1718.3,1493.4L1720.5,1494.7L1722.8,1495.5L1725.0,1497.4L1727.3,1498.2L1729.6,1499.7L1732.0,1500.8L1734.3,1502.1L1736.7,1503.3L1739.0,1503.2L1741.4,1505.5L1743.7,1505.7L1746.1,1506.9L1748.8,1507.3L1751.5,1507.7L1754.2,1508.2L1756.9,1509.2L1759.6,1509.4L1762.2,1509.7L1764.9,1511.1L1767.6,1511.1L1770.3,1511.7L1773.0,1512.7L1775.7,1513.4L1778.4,1513.8L1781.1,1514.5L1783.5,1514.8L1785.9,1515.5L1788.3,1515.0L1791.0,1515.0L1793.7,1515.8L1796.4,1516.3L1799.0,1517.2L1801.7,1516.7L1804.4,1517.4L1806.9,1517.1L1809.3,1518.1L1811.8,1517.8L1814.3,1518.2L1816.7,1518.2L1819.2,1518.1L1821.1,1517.6L1822.9,1515.0L1824.8,1513.2L1826.7,1511.0L1828.6,1509.3L1830.9,1508.4L1833.3,1508.2L1835.6,1507.7L1838.0,1506.3L1840.2,1506.1L1842.5,1506.0L1844.7,1506.0L1846.4,1507.3L1848.1,1508.9L1849.7,1511.7L1851.4,1513.0L1853.9,1513.2L1856.4,1513.0L1858.9,1513.9L1861.4,1514.4L1863.9,1514.3L1866.4,1514.7L1868.9,1515.1L1871.6,1515.7L1874.2,1516.3L1876.9,1516.6L1879.6,1517.0L1882.3,1517.3L1885.0,1518.2L1887.7,1518.8L1890.4,1518.9L1892.6,1520.3L1894.8,1520.5L1897.1,1521.4L1899.3,1522.5L1901.6,1523.5L1903.8,1525.0L1906.1,1526.1L1908.5,1528.3L1910.8,1530.3L1913.2,1531.6L1915.6,1532.3L1917.9,1532.3L1920.3,1532.9L1921.7,1532.2L1923.1,1530.0L1924.6,1527.0L1926.0,1523.4L1926.5,1521.6L1926.9,1519.0L1927.4,1515.9L1927.8,1512.5L1928.3,1509.3L1928.8,1506.6L1929.2,1504.6L1930.3,1501.4L1931.4,1498.8L1932.4,1496.7L1933.5,1495.3L1934.9,1493.3L1936.4,1492.2L1938.2,1493.7L1940.1,1496.7L1941.9,1498.2L1943.8,1499.8L1945.7,1502.0L1947.6,1503.0L1949.5,1505.0L1951.8,1506.3L1954.1,1507.8L1956.4,1508.4L1958.7,1510.1L1961.0,1510.9L1963.3,1511.6L1965.6,1512.4L1968.0,1513.5L1970.3,1514.2L1972.7,1515.7L1975.1,1516.0L1977.5,1517.2L1979.9,1517.5L1982.3,1518.7L1984.7,1519.5L1987.1,1519.9L1989.7,1520.8L1992.4,1521.3L1995.1,1522.0L1997.8,1522.9L2000.5,1523.3L2003.2,1523.9L2005.9,1524.5L2008.5,1524.7L2011.2,1524.6L2013.6,1524.8L2015.9,1523.4L2018.3,1521.5L2020.6,1520.9L2022.9,1521.7L2025.1,1522.7L2027.3,1523.7L2029.4,1525.3L2031.4,1527.2L2033.4,1528.8L2035.4,1530.4L2037.8,1531.3L2040.1,1532.2L2042.5,1531.8L2044.7,1531.3L2046.8,1529.6L2049.0,1526.0L2049.3,1525.1L2049.7,1523.5L2050.0,1521.4L2050.4,1518.7L2050.7,1515.7L2051.0,1512.2L2051.4,1508.5L2051.7,1504.6L2051.8,1503.0L2051.9,1501.0L2052.0,1498.8L2052.2,1496.3L2052.3,1493.6L2052.4,1490.7L2052.5,1487.7L2052.6,1484.7L2052.8,1481.6L2052.9,1478.6L2053.0,1475.7L2053.1,1473.0L2053.2,1470.4L2053.3,1468.1L2053.5,1466.0L2053.6,1464.3L2053.9,1460.5L2054.2,1457.0L2054.5,1453.7L2054.8,1450.7L2055.1,1448.0L2055.4,1445.5L2055.7,1443.4L2056.0,1441.6L2056.3,1440.1L2057.0,1436.9L2057.8,1434.4L2058.6,1433.7L2058.9,1434.0L2059.3,1435.7L2059.6,1438.2L2059.9,1441.2L2060.3,1444.5L2060.6,1447.8L2060.9,1450.9L2061.2,1453.3L2061.5,1455.9L2061.7,1458.7L2062.0,1461.6L2062.3,1464.5L2062.5,1467.4L2062.8,1470.2L2063.1,1472.9L2063.3,1475.4L2063.6,1477.7L2064.0,1480.9L2064.4,1484.3L2064.8,1487.6L2065.2,1490.8L2065.5,1493.8L2065.9,1496.4L2066.3,1498.5L2066.7,1499.9L2067.1,1500.2L2069.4,1501.8L2071.7,1502.1L2073.0,1500.8L2074.3,1498.9L2075.7,1496.2L2077.0,1493.8L2078.4,1491.4L2079.7,1488.8L2081.1,1486.3L2082.4,1485.5L2084.4,1486.0L2086.4,1487.7L2088.5,1488.8L2090.5,1491.3L2091.4,1493.2L2092.3,1496.4L2093.2,1499.8L2094.1,1502.8L2095.0,1504.6L2096.9,1506.2L2098.9,1506.9L2099.9,1506.1L2100.8,1503.2L2101.8,1499.7L2102.8,1496.5L2103.8,1493.4L2104.9,1490.4L2106.0,1488.6L2108.6,1486.7L2111.3,1486.1L2113.6,1486.5L2115.8,1488.0L2118.0,1488.6L2120.3,1489.2L2122.5,1489.8L2124.8,1489.9L2127.0,1489.2L2129.2,1488.0L2131.5,1487.2L2133.7,1487.9L2135.9,1488.0L2138.2,1488.6L2139.1,1486.7L2140.0,1483.2L2140.9,1480.4L2142.7,1477.1L2144.4,1474.8L2146.2,1473.6L2148.9,1472.6L2151.6,1472.6L2154.3,1472.1L2156.3,1471.1L2158.3,1469.1L2160.3,1466.8L2162.4,1464.3L2164.0,1462.4L2165.6,1460.2L2167.2,1458.3L2168.8,1455.6L2170.4,1453.8L2171.7,1451.3L2172.9,1448.6L2174.2,1446.3L2175.4,1445.2L2176.0,1446.6L2176.6,1449.4L2177.2,1452.9L2177.8,1456.2L2178.2,1458.9L2178.7,1461.9L2179.2,1465.1L2179.7,1468.2L2180.2,1471.0L2180.7,1473.4L2181.2,1475.0L2182.7,1478.8L2184.3,1480.3L2185.3,1479.9L2186.2,1477.3L2187.2,1473.9L2188.2,1469.7L2188.4,1468.3L2188.7,1466.3L2188.9,1463.9L2189.1,1461.1L2189.4,1458.1L2189.6,1455.0L2189.8,1451.7L2190.1,1448.6L2190.3,1445.6L2190.6,1442.8L2190.8,1439.9L2191.1,1436.7L2191.3,1433.5L2191.6,1430.5L2191.8,1427.8L2192.1,1425.5L2192.3,1424.0L2193.3,1420.2L2194.2,1418.4L2196.7,1420.2L2199.2,1422.5L2200.6,1424.5L2201.9,1426.6L2203.3,1429.2L2204.6,1432.0L2206.0,1434.8L2206.9,1436.8L2207.9,1439.1L2208.8,1441.5L2209.8,1443.9L2210.8,1446.3L2211.7,1448.7L2212.7,1450.9L2213.8,1453.4L2214.9,1455.9L2216.0,1458.4L2217.2,1460.7L2218.3,1462.5L2219.4,1464.0L2221.5,1466.5L2223.6,1468.7L2225.7,1470.9L2227.8,1471.1L2229.8,1470.3L2231.7,1469.5L2233.7,1468.1L2235.6,1466.5L2237.6,1464.4L2238.9,1462.6L2240.2,1460.6L2241.6,1458.0L2242.9,1455.5L2244.3,1452.9L2245.6,1451.0L2247.2,1449.1L2248.7,1447.4L2250.2,1445.9L2251.8,1444.5L2253.3,1442.3L2254.8,1440.4L2256.4,1437.4L2256.9,1435.9L2257.5,1433.8L2258.1,1431.3L2258.7,1428.4L2259.2,1425.3L2259.8,1422.0L2260.4,1418.6L2260.7,1416.4L2261.1,1413.8L2261.4,1410.9L2261.8,1407.9L2262.1,1404.8L2262.5,1401.7L2262.8,1398.8L2263.2,1396.1L2263.5,1393.7L2263.9,1391.8L2264.6,1388.2L2265.4,1385.0L2266.2,1382.2L2266.9,1379.7L2267.7,1377.5L2268.4,1375.7L2269.8,1373.0L2271.1,1370.9L2272.5,1368.7L2273.8,1367.0L2275.2,1365.0L2276.5,1362.5L2277.8,1360.0L2279.2,1357.6L2280.5,1355.5L2282.9,1352.7L2286.0,1353.6L2289.0,1354.8L2290.0,1356.1L2290.9,1358.6L2291.9,1361.4L2292.8,1363.6L2294.4,1366.1L2296.0,1368.2L2297.6,1370.1L2299.7,1372.2L2301.7,1373.5" stroke="#FF4040" stroke-width="12.5"/>
<path d="M179.0,1114L179.0,1474.6L182.1,1474.4L185.2,1474.1L187.8,1474.7L190.4,1474.5L192.9,1474.5L195.5,1474.5L198.1,1475.0L200.6,1474.8L203.2,1474.9L205.8,1474.4L208.3,1474.4L210.9,1474.2L213.5,1474.5L216.0,1473.8L218.6,1475.2L221.2,1474.7L223.8,1474.7L226.3,1475.0L228.9,1474.6L231.5,1474.9L234.0,1475.1L236.6,1474.3L239.2,1475.4L241.7,1474.9L244.3,1475.1L246.9,1474.6L249.4,1474.7L252.0,1475.5L254.6,1474.8L257.1,1474.9L259.7,1475.2L262.3,1475.5L264.8,1474.2L267.4,1475.5L270.0,1475.1L272.5,1475.3L275.1,1474.7L277.7,1475.1L280.2,1475.5L282.8,1475.0L285.4,1474.8L287.9,1474.9L290.5,1474.8L293.1,1475.3L295.6,1475.1L298.2,1474.9L300.8,1475.3L303.3,1474.7L305.9,1474.6L308.5,1475.8L311.0,1474.8L313.6,1475.5L316.1,1475.0L318.7,1474.9L321.3,1475.2L323.8,1474.7L326.4,1474.7L329.0,1474.9L331.5,1474.9L334.1,1475.2L336.7,1475.6L339.2,1474.6L341.8,1474.7L344.4,1475.3L346.9,1475.2L349.5,1475.4L352.1,1474.8L354.6,1475.2L357.2,1475.0L359.7,1474.5L362.3,1475.2L364.9,1474.5L367.5,1475.2L370.0,1474.9L372.6,1475.0L375.2,1475.7L377.7,1475.5L380.3,1475.2L382.9,1475.1L385.4,1474.8L388.0,1475.4L390.6,1475.2L393.1,1474.7L395.7,1474.5L398.3,1475.0L400.9,1475.0L403.5,1475.3L406.1,1474.7L408.7,1474.7L411.3,1475.1L413.9,1475.0L416.5,1475.2L419.1,1475.2L421.8,1474.6L424.4,1474.0L427.0,1474.8L429.6,1474.5L432.2,1474.8L434.8,1473.8L437.4,1474.6L440.0,1474.6L442.6,1474.3L445.2,1474.6L447.9,1474.4L450.6,1474.4L453.2,1474.6L455.9,1474.5L458.6,1474.4L461.3,1474.0L463.9,1473.7L466.6,1473.7L469.3,1473.5L471.9,1472.9L474.6,1473.1L477.1,1473.0L479.6,1472.3L482.1,1471.7L484.7,1471.8L487.2,1470.9L489.7,1470.2L492.2,1470.0L494.6,1468.9L496.9,1468.7L499.3,1467.4L501.6,1466.3L504.0,1465.0L505.4,1463.6L506.9,1461.5L508.4,1459.1L509.8,1456.2L511.3,1453.0L511.9,1451.3L512.6,1449.3L513.2,1447.0L513.9,1444.4L514.6,1441.7L515.2,1438.8L515.9,1435.7L516.5,1432.6L517.2,1429.5L517.6,1427.4L518.0,1425.3L518.4,1423.0L518.8,1420.7L519.3,1418.3L519.7,1415.8L520.1,1413.3L520.5,1410.7L520.9,1408.0L521.4,1405.3L521.8,1402.6L522.2,1399.9L522.6,1397.1L523.0,1394.3L523.4,1392.0L523.7,1389.6L524.1,1387.1L524.4,1384.7L524.8,1382.1L525.1,1379.6L525.4,1377.0L525.8,1374.4L526.1,1371.7L526.5,1369.1L526.8,1366.4L527.2,1363.7L527.5,1361.0L527.9,1358.3L528.2,1355.6L528.6,1352.9L528.9,1350.3L529.2,1347.8L529.5,1345.1L529.8,1342.4L530.2,1339.7L530.5,1336.9L530.8,1334.1L531.1,1331.4L531.4,1328.6L531.7,1326.0L532.0,1323.5L532.4,1321.1L532.7,1318.9L533.0,1316.8L533.3,1315.0L533.9,1311.9L534.5,1309.0L535.1,1306.3L535.7,1303.9L536.2,1301.9L536.8,1300.4L538.3,1296.9L539.8,1295.8L541.5,1296.7L543.1,1299.1L544.6,1300.8L546.0,1302.4L547.5,1304.4L549.0,1306.3L550.5,1308.3L551.9,1309.9L553.4,1312.3L554.9,1315.0L555.5,1316.7L556.1,1318.8L556.7,1321.2L557.4,1323.9L558.0,1326.8L558.6,1329.7L559.3,1332.6L559.7,1334.8L560.2,1337.1L560.6,1339.6L561.1,1342.1L561.5,1344.7L562.0,1347.4L562.4,1350.1L562.9,1352.7L563.3,1355.4L563.8,1357.9L564.2,1360.4L564.7,1362.7L565.1,1364.9L565.7,1367.8L566.4,1370.6L567.0,1373.3L567.6,1376.0L568.2,1378.6L568.8,1381.2L569.4,1383.6L570.0,1386.0L570.6,1388.2L571.2,1390.4L571.9,1392.4L572.5,1394.3L573.4,1397.1L574.4,1399.8L575.4,1402.4L576.4,1404.8L577.4,1407.1L578.3,1409.2L579.3,1411.2L580.3,1413.1L581.3,1414.8L582.7,1417.0L584.2,1419.5L585.7,1421.8L587.1,1423.3L588.6,1424.7L590.1,1426.9L591.9,1428.5L593.8,1430.2L595.6,1431.4L597.4,1432.6L600.5,1434.0L603.5,1433.7L606.0,1433.8L608.6,1432.6L611.1,1430.8L612.1,1430.0L613.1,1428.3L614.0,1426.1L615.0,1423.5L616.0,1420.7L617.0,1417.8L617.6,1415.9L618.1,1413.8L618.7,1411.5L619.3,1409.0L619.9,1406.4L620.5,1403.6L621.1,1400.7L621.7,1397.7L622.2,1394.6L622.8,1391.4L623.2,1389.3L623.5,1387.0L623.9,1384.5L624.3,1382.0L624.6,1379.3L625.0,1376.5L625.3,1373.7L625.7,1371.0L626.0,1368.2L626.4,1365.5L626.8,1362.9L627.1,1360.5L627.5,1358.2L627.8,1356.1L628.4,1353.2L628.9,1350.3L629.5,1347.6L630.0,1345.0L630.6,1342.7L631.1,1340.5L631.6,1338.5L632.7,1334.7L633.8,1332.8L634.6,1333.9L635.4,1336.8L636.2,1340.0L636.8,1342.1L637.3,1344.5L637.9,1347.0L638.5,1349.7L639.1,1352.3L639.7,1354.9L640.3,1357.5L640.9,1359.8L641.5,1362.0L642.3,1365.2L643.2,1368.6L644.1,1371.7L645.0,1374.0L645.9,1375.0L648.3,1376.3L650.8,1376.4L652.0,1378.0L653.2,1379.8L654.4,1382.5L655.5,1385.5L656.1,1387.3L656.6,1389.6L657.2,1392.2L657.8,1395.1L658.3,1398.2L658.9,1401.2L659.4,1404.1L660.0,1406.7L660.5,1409.0L661.4,1412.1L662.4,1415.2L663.3,1418.0L664.2,1420.6L665.1,1423.1L666.0,1425.4L667.0,1427.6L667.9,1429.5L669.3,1432.5L670.8,1435.4L672.3,1438.1L673.7,1440.0L675.2,1441.0L678.1,1442.4L681.1,1442.6L683.5,1443.5L686.0,1443.5L688.5,1443.9L690.9,1444.1L693.4,1443.9L695.8,1443.7L698.3,1444.2L700.8,1443.6L703.3,1443.1L705.8,1441.9L708.4,1442.0L710.9,1440.5L713.4,1440.8L715.9,1439.1L718.4,1438.8L720.9,1438.7L723.5,1437.9L726.0,1437.3L728.5,1437.1L731.0,1437.1L733.5,1437.3L736.0,1437.8L738.6,1437.7L741.1,1437.6L743.6,1437.9L746.1,1436.8L748.6,1437.6L751.1,1437.7L753.6,1438.0L756.0,1439.5L758.5,1440.3L760.9,1441.3L763.4,1443.1L765.8,1443.0L768.3,1443.4L770.8,1443.0L773.4,1444.2L775.9,1443.9L778.4,1444.6L780.9,1445.1L783.4,1444.7L785.9,1444.9L788.3,1445.9L790.8,1448.2L793.2,1449.0L795.7,1450.6L798.1,1451.3L800.8,1450.8L803.5,1452.4L806.2,1452.9L808.9,1453.2L811.5,1453.2L814.0,1453.3L816.5,1452.5L819.0,1452.8L821.4,1451.8L823.9,1451.4L826.4,1451.3L828.8,1450.0L831.3,1448.7L833.8,1448.4L836.1,1446.8L838.4,1446.2L840.6,1445.3L842.9,1442.9L845.2,1441.6L847.5,1439.6L849.8,1438.3L852.1,1436.7L854.3,1435.1L856.6,1433.3L858.9,1431.0L861.2,1429.4L863.5,1427.6L865.8,1426.2L868.0,1423.6L870.3,1423.4L872.6,1421.8L874.9,1421.1L877.3,1422.5L879.8,1422.2L882.2,1421.9L884.7,1422.6L887.1,1422.9L889.6,1422.1L891.8,1423.1L894.0,1421.7L896.2,1421.6L898.4,1420.0L900.6,1418.4L902.8,1417.4L905.0,1415.9L907.2,1414.6L909.4,1412.4L911.6,1411.1L913.8,1410.1L916.0,1408.5L918.3,1407.1L920.6,1406.0L922.8,1403.9L925.1,1403.8L927.4,1401.2L929.7,1400.1L932.0,1398.4L934.3,1397.3L936.5,1395.2L938.6,1393.5L940.7,1392.0L942.8,1390.2L944.9,1388.1L947.0,1387.5L949.1,1385.9L951.2,1385.9L953.4,1386.2L955.6,1386.9L957.8,1387.3L960.0,1388.9L962.5,1388.3L965.0,1388.9L967.6,1389.9L970.1,1389.9L972.6,1388.9L975.1,1389.6L977.6,1389.4L980.1,1390.8L982.7,1390.0L985.2,1390.5L987.7,1390.3L990.2,1390.6L992.7,1391.6L995.2,1391.0L997.7,1392.3L1000.1,1392.7L1002.6,1393.1L1005.0,1392.3L1007.5,1393.2L1009.9,1390.6L1012.4,1389.8L1014.8,1389.0L1017.3,1388.1L1019.3,1386.4L1021.4,1384.3L1023.4,1383.1L1025.5,1381.3L1027.5,1380.3L1029.9,1380.9L1032.2,1377.8L1034.6,1378.5L1036.9,1378.3L1039.3,1377.5L1041.9,1377.4L1044.6,1378.2L1047.2,1377.2L1049.9,1376.0L1052.5,1376.9L1055.2,1377.5L1057.9,1377.1L1060.6,1377.5L1063.3,1378.7L1066.0,1379.1L1068.6,1380.5L1071.3,1381.8L1074.0,1381.7L1076.5,1381.8L1079.1,1384.8L1081.6,1385.1L1084.1,1385.3L1086.6,1385.9L1089.1,1388.0L1091.6,1389.2L1094.2,1390.4L1096.7,1391.2L1099.2,1391.4L1101.7,1392.1L1104.2,1391.6L1106.7,1392.6L1109.3,1392.9L1111.7,1394.3L1114.2,1392.2L1116.6,1394.9L1119.0,1394.1L1121.5,1392.9L1123.9,1392.8L1126.4,1393.7L1128.8,1394.3L1131.3,1395.2L1133.7,1393.8L1136.2,1395.8L1138.6,1397.3L1139.9,1398.0L1141.2,1398.1L1142.4,1398.1L1143.7,1398.9L1145.0,1400.6L1146.3,1403.6L1147.5,1399.8L1148.8,1400.8L1150.1,1401.8L1151.4,1399.8L1152.7,1401.0L1153.9,1403.1L1155.2,1404.6L1156.5,1404.2L1157.8,1405.3L1159.0,1407.6L1160.3,1405.1L1161.6,1406.0L1162.9,1407.2L1164.1,1409.0L1165.4,1408.6L1166.7,1407.8L1168.0,1410.4L1169.2,1411.2L1170.5,1412.3L1171.8,1411.8L1173.1,1413.2L1174.3,1412.3L1175.6,1414.1L1176.9,1415.0L1178.2,1414.2L1179.5,1414.6L1180.7,1416.6L1182.0,1415.3L1183.3,1415.7L1184.6,1417.1L1185.8,1418.1L1187.1,1418.9L1188.4,1418.1L1189.7,1419.6L1190.9,1418.7L1192.2,1418.9L1193.5,1422.8L1194.8,1420.2L1196.0,1419.9L1197.3,1422.1L1198.7,1421.6L1200.0,1423.5L1201.3,1420.0L1202.7,1422.3L1204.0,1425.6L1205.3,1425.0L1206.7,1423.9L1208.0,1427.5L1209.3,1427.2L1210.7,1425.6L1212.0,1427.8L1213.4,1427.2L1214.8,1422.3L1216.1,1423.5L1217.5,1424.5L1218.9,1426.1L1220.3,1427.8L1221.7,1427.1L1223.0,1425.5L1224.4,1423.6L1225.8,1428.1L1227.2,1426.8L1228.6,1428.3L1230.0,1427.1L1231.3,1426.6L1232.7,1427.7L1234.1,1426.5L1235.5,1426.9L1236.9,1426.5L1238.3,1425.1L1239.8,1429.8L1241.2,1430.1L1242.6,1428.2L1244.0,1428.7L1245.5,1432.7L1246.9,1430.4L1248.3,1429.2L1249.3,1428.0L1250.3,1429.5L1251.2,1427.7L1252.2,1424.5L1253.2,1425.8L1254.1,1424.0L1255.0,1425.7L1255.9,1432.2L1256.9,1432.7L1257.8,1433.9L1258.7,1431.2L1259.6,1433.8L1260.5,1433.0L1261.8,1429.9L1263.0,1433.8L1264.2,1437.1L1265.4,1436.7L1266.6,1435.4L1267.9,1437.0L1269.1,1436.8L1270.3,1438.7L1271.2,1438.8L1272.2,1438.9L1273.1,1440.4L1274.0,1443.9L1274.9,1445.2L1275.8,1445.7L1276.7,1446.6L1277.7,1447.4L1279.1,1447.0L1280.4,1447.9L1281.8,1449.2L1283.2,1449.3L1284.6,1447.7L1286.0,1451.5L1287.4,1450.0L1288.8,1451.1L1290.2,1451.0L1291.6,1448.5L1293.0,1451.6L1294.4,1451.4L1295.8,1452.3L1297.2,1453.0L1298.6,1453.7L1299.9,1454.7L1301.3,1452.7L1302.7,1454.1L1304.0,1452.4L1305.4,1452.1L1306.7,1450.7L1308.1,1453.0L1309.5,1454.3L1310.8,1451.7L1312.2,1455.9L1313.5,1450.4L1314.9,1453.2L1316.2,1453.5L1317.6,1454.2L1319.0,1454.7L1320.3,1455.8L1321.7,1453.4L1322.9,1452.0L1324.1,1452.1L1325.4,1452.6L1326.6,1451.2L1327.8,1451.0L1329.0,1450.4L1330.2,1450.0L1331.5,1450.7L1332.7,1449.9L1333.6,1448.0L1334.5,1446.5L1335.4,1447.7L1336.2,1453.3L1337.1,1454.3L1338.0,1456.7L1338.9,1456.3L1339.8,1461.3L1340.7,1462.7L1341.6,1461.2L1342.5,1461.8L1343.8,1460.5L1345.1,1459.8L1346.5,1460.7L1347.8,1457.5L1349.1,1457.3L1350.4,1457.9L1351.8,1457.9L1353.1,1454.5L1354.4,1455.8L1355.8,1456.1L1357.1,1456.1L1358.4,1455.2L1359.8,1452.7L1361.1,1449.5L1362.4,1448.4L1363.8,1453.3L1365.1,1454.1L1366.4,1450.4L1367.8,1453.5L1369.1,1453.2L1370.5,1451.5L1371.9,1453.1L1373.3,1451.8L1374.7,1450.9L1376.1,1452.3L1377.5,1451.3L1378.9,1453.8L1380.3,1452.1L1381.7,1451.1L1383.1,1451.8L1384.5,1453.7L1385.9,1451.4L1387.3,1453.4L1388.7,1454.5L1390.1,1452.5L1391.4,1452.7L1392.8,1453.3L1394.2,1451.5L1395.6,1453.4L1396.9,1451.4L1398.3,1453.6L1399.7,1450.6L1401.1,1449.3L1402.4,1451.7L1403.8,1450.6L1405.2,1449.7L1406.6,1448.3L1407.9,1448.3L1409.3,1446.8L1410.7,1449.3L1412.1,1446.0L1413.5,1447.8L1414.8,1447.0L1416.2,1444.3L1417.6,1448.4L1419.0,1447.6L1420.3,1445.7L1421.7,1444.4L1423.1,1445.7L1424.5,1445.0L1425.8,1445.6L1427.2,1444.7L1428.6,1444.9L1430.0,1442.9L1431.3,1442.4L1432.7,1442.8L1434.1,1443.2L1435.4,1440.8L1436.7,1440.8L1438.1,1442.9L1439.4,1436.4L1440.7,1440.8L1442.1,1437.6L1443.4,1437.8L1444.7,1437.3L1446.1,1436.8L1447.4,1436.3L1448.5,1434.5L1449.6,1434.5L1450.7,1432.4L1451.8,1432.6L1453.0,1433.2L1454.1,1431.7L1455.2,1430.1L1456.3,1430.0L1457.4,1429.7L1458.5,1428.4L1459.6,1427.5L1461.0,1425.4L1462.4,1423.8L1463.8,1422.6L1465.2,1420.1L1466.6,1418.2L1468.0,1415.6L1469.4,1412.7L1470.1,1411.1L1470.8,1409.3L1471.4,1407.3L1472.1,1405.1L1472.8,1402.7L1473.5,1400.0L1474.2,1397.1L1474.8,1394.0L1475.5,1390.7L1475.9,1388.9L1476.2,1386.9L1476.5,1384.7L1476.9,1382.4L1477.2,1379.8L1477.5,1377.2L1477.9,1374.3L1478.2,1371.3L1478.5,1368.1L1478.9,1364.8L1479.2,1361.3L1479.4,1359.3L1479.5,1357.2L1479.7,1354.9L1479.9,1352.4L1480.1,1349.8L1480.2,1347.1L1480.4,1344.4L1480.6,1341.5L1480.8,1338.7L1480.9,1335.8L1481.1,1332.9L1481.3,1330.1L1481.5,1327.3L1481.6,1324.6L1481.8,1321.9L1482.0,1319.1L1482.2,1316.2L1482.3,1313.3L1482.5,1310.4L1482.7,1307.4L1482.8,1304.6L1483.0,1301.9L1483.2,1299.3L1483.4,1296.9L1483.5,1294.7L1483.7,1292.8L1484.0,1289.4L1484.4,1285.9L1484.7,1283.0L1485.0,1280.9L1485.3,1280.1L1485.7,1280.9L1486.0,1283.1L1486.4,1286.2L1486.7,1289.6L1487.1,1292.8L1487.3,1295.0L1487.6,1297.4L1487.8,1299.9L1488.0,1302.6L1488.3,1305.3L1488.5,1308.1L1488.8,1311.0L1489.0,1313.8L1489.3,1316.6L1489.5,1319.4L1489.7,1322.1L1490.0,1324.6L1490.3,1327.5L1490.5,1330.6L1490.8,1333.8L1491.1,1337.0L1491.4,1340.1L1491.6,1343.2L1491.9,1346.1L1492.2,1348.8L1492.5,1351.3L1492.7,1353.4L1493.0,1355.1L1493.3,1356.4L1494.4,1360.2L1495.4,1363.3L1496.5,1365.2L1497.6,1366.4L1499.1,1365.2L1500.6,1362.9L1502.2,1358.9L1502.3,1358.2L1502.5,1357.1L1502.6,1355.7L1502.8,1354.0L1502.9,1351.9L1503.1,1349.7L1503.2,1347.1L1503.4,1344.4L1503.5,1341.5L1503.7,1338.4L1503.8,1335.3L1504.0,1332.0L1504.1,1328.7L1504.3,1325.4L1504.4,1322.0L1504.6,1318.7L1504.7,1315.5L1504.9,1312.4L1505.0,1310.3L1505.1,1308.1L1505.2,1305.8L1505.3,1303.5L1505.4,1301.1L1505.5,1298.7L1505.6,1296.2L1505.7,1293.7L1505.8,1291.1L1505.9,1288.5L1506.0,1285.9L1506.1,1283.2L1506.2,1280.5L1506.3,1277.9L1506.4,1275.2L1506.5,1272.5L1506.6,1269.7L1506.7,1267.1L1506.8,1264.4L1506.9,1261.7L1507.0,1259.0L1507.1,1256.4L1507.2,1253.8L1507.3,1251.2L1507.4,1248.7L1507.5,1246.1L1507.6,1243.5L1507.7,1240.8L1507.8,1238.2L1507.9,1235.5L1508.0,1232.8L1508.1,1230.1L1508.2,1227.5L1508.3,1224.8L1508.4,1222.1L1508.5,1219.5L1508.7,1216.8L1508.8,1214.2L1508.9,1211.6L1509.0,1209.1L1509.1,1206.5L1509.2,1204.0L1509.3,1201.6L1509.4,1199.2L1509.5,1196.8L1509.6,1194.5L1509.7,1192.3L1509.8,1190.1L1509.9,1187.0L1510.1,1183.9L1510.2,1180.7L1510.3,1177.4L1510.5,1174.3L1510.6,1171.2L1510.8,1168.3L1510.9,1165.5L1511.1,1162.9L1511.2,1160.6L1511.3,1158.7L1511.5,1157.1L1511.6,1155.8L1512.3,1151.6L1513.0,1149.6L1513.5,1150.8L1514.0,1153.4L1514.5,1157.0L1515.0,1160.7L1515.2,1162.5L1515.4,1164.4L1515.7,1166.5L1515.9,1168.8L1516.1,1171.3L1516.3,1173.9L1516.6,1176.6L1516.8,1179.3L1517.0,1182.2L1517.2,1185.1L1517.5,1188.0L1517.7,1190.9L1517.9,1193.9L1518.2,1196.7L1518.4,1199.6L1518.6,1202.3L1518.8,1204.8L1519.0,1207.3L1519.2,1209.8L1519.4,1212.3L1519.6,1214.9L1519.8,1217.5L1520.0,1220.1L1520.2,1222.8L1520.4,1225.4L1520.6,1228.1L1520.8,1230.7L1521.0,1233.4L1521.3,1236.0L1521.5,1238.6L1521.7,1241.3L1521.9,1243.9L1522.1,1246.4L1522.3,1249.0L1522.5,1251.5L1522.7,1254.0L1522.9,1256.4L1523.1,1258.8L1523.3,1261.2L1523.5,1263.5L1523.8,1266.3L1524.0,1269.2L1524.3,1272.0L1524.5,1274.8L1524.8,1277.7L1525.0,1280.5L1525.3,1283.3L1525.5,1286.1L1525.8,1288.8L1526.0,1291.5L1526.3,1294.2L1526.6,1296.9L1526.8,1299.5L1527.1,1302.1L1527.3,1304.6L1527.6,1307.1L1527.8,1309.5L1528.1,1311.9L1528.3,1314.2L1528.6,1316.4L1528.8,1318.6L1529.1,1320.7L1529.4,1322.7L1529.6,1324.6L1530.1,1327.9L1530.5,1331.3L1530.9,1334.6L1531.4,1337.8L1531.8,1340.9L1532.3,1343.8L1532.7,1346.4L1533.2,1348.8L1533.6,1350.9L1534.1,1352.7L1534.5,1354.0L1535.8,1357.1L1537.1,1359.7L1538.5,1361.6L1539.8,1363.3L1541.1,1363.9L1542.6,1363.3L1544.1,1361.1L1545.7,1358.2L1547.2,1354.0L1547.4,1353.2L1547.6,1352.0L1547.7,1350.5L1547.9,1348.7L1548.1,1346.5L1548.3,1344.1L1548.5,1341.5L1548.7,1338.7L1548.9,1335.6L1549.0,1332.5L1549.2,1329.2L1549.4,1325.9L1549.6,1322.5L1549.8,1319.1L1550.0,1315.7L1550.1,1312.4L1550.2,1310.4L1550.3,1308.3L1550.4,1306.1L1550.6,1303.8L1550.7,1301.4L1550.8,1298.9L1550.9,1296.3L1551.0,1293.7L1551.1,1290.9L1551.2,1288.2L1551.3,1285.3L1551.4,1282.5L1551.5,1279.6L1551.6,1276.7L1551.7,1273.8L1551.8,1270.8L1551.9,1267.9L1552.0,1265.0L1552.1,1262.2L1552.2,1259.3L1552.3,1256.5L1552.4,1253.8L1552.5,1251.1L1552.7,1248.5L1552.8,1246.0L1552.9,1243.6L1553.0,1241.2L1553.1,1239.0L1553.2,1235.9L1553.4,1232.8L1553.5,1229.6L1553.7,1226.4L1553.8,1223.2L1553.9,1220.0L1554.1,1217.0L1554.2,1214.0L1554.4,1211.3L1554.5,1208.7L1554.7,1206.3L1554.8,1204.2L1555.0,1202.4L1555.1,1201.0L1555.2,1199.9L1555.8,1196.5L1556.4,1194.0L1557.0,1192.4L1557.4,1193.8L1557.9,1195.8L1558.3,1198.8L1558.7,1202.3L1558.9,1203.4L1559.0,1204.9L1559.1,1206.6L1559.2,1208.7L1559.3,1210.9L1559.4,1213.4L1559.5,1216.0L1559.7,1218.8L1559.8,1221.7L1559.9,1224.7L1560.0,1227.7L1560.1,1230.8L1560.2,1234.0L1560.3,1237.0L1560.5,1240.1L1560.6,1243.1L1560.7,1245.9L1560.8,1248.7L1560.9,1251.2L1561.0,1253.9L1561.2,1256.6L1561.3,1259.4L1561.4,1262.1L1561.5,1264.9L1561.7,1267.7L1561.8,1270.5L1561.9,1273.3L1562.0,1276.1L1562.1,1278.8L1562.3,1281.6L1562.4,1284.3L1562.5,1287.0L1562.6,1289.6L1562.8,1292.2L1562.9,1294.8L1563.0,1297.3L1563.1,1299.7L1563.2,1302.0L1563.4,1304.3L1563.5,1306.5L1563.6,1308.5L1563.7,1310.5L1563.9,1312.4L1564.1,1315.8L1564.3,1319.1L1564.5,1322.3L1564.8,1325.5L1565.0,1328.5L1565.2,1331.5L1565.5,1334.3L1565.7,1337.1L1565.9,1339.7L1566.2,1342.2L1566.4,1344.6L1566.6,1346.8L1566.8,1348.8L1567.1,1350.7L1567.3,1352.4L1567.5,1354.0L1568.1,1357.7L1568.8,1361.1L1569.4,1364.2L1570.0,1366.9L1570.6,1369.4L1571.2,1371.5L1571.8,1373.3L1572.4,1374.8L1573.9,1377.5L1575.5,1379.7L1577.0,1381.7L1578.5,1383.2L1580.1,1385.5L1581.6,1387.7L1583.1,1389.8L1584.7,1392.0L1586.3,1394.7L1587.9,1396.8L1589.5,1398.0L1590.9,1396.3L1592.3,1394.3L1593.7,1391.9L1595.3,1389.6L1596.9,1388.0L1597.8,1389.3L1598.7,1391.9L1599.6,1395.1L1600.6,1398.0L1601.5,1400.9L1602.4,1404.0L1603.3,1406.6L1604.3,1407.5L1606.9,1408.2L1609.6,1408.3L1611.2,1408.1L1612.9,1406.4L1614.5,1403.7L1616.2,1400.5L1616.5,1399.4L1616.9,1397.7L1617.3,1395.6L1617.6,1393.2L1618.0,1390.3L1618.4,1387.2L1618.7,1384.0L1619.1,1380.5L1619.5,1377.0L1619.9,1373.5L1620.0,1371.7L1620.2,1369.7L1620.4,1367.6L1620.6,1365.4L1620.8,1363.2L1621.0,1360.9L1621.2,1358.4L1621.4,1356.0L1621.6,1353.4L1621.8,1350.8L1622.0,1348.1L1622.2,1345.3L1622.4,1342.5L1622.6,1339.6L1622.7,1336.7L1622.9,1333.7L1623.1,1330.7L1623.3,1327.7L1623.5,1324.6L1623.7,1322.5L1623.8,1320.3L1623.9,1318.0L1624.0,1315.6L1624.2,1313.2L1624.3,1310.8L1624.4,1308.3L1624.6,1305.7L1624.7,1303.1L1624.8,1300.5L1625.0,1297.8L1625.1,1295.1L1625.2,1292.3L1625.4,1289.6L1625.5,1286.8L1625.6,1284.0L1625.7,1281.2L1625.9,1278.4L1626.0,1275.6L1626.1,1272.8L1626.3,1270.1L1626.4,1267.3L1626.5,1264.5L1626.7,1261.8L1626.8,1259.1L1626.9,1256.5L1627.1,1253.8L1627.2,1251.2L1627.3,1248.6L1627.5,1246.0L1627.6,1243.3L1627.7,1240.6L1627.9,1237.9L1628.0,1235.2L1628.1,1232.5L1628.2,1229.8L1628.4,1227.1L1628.5,1224.4L1628.6,1221.7L1628.8,1219.0L1628.9,1216.4L1629.0,1213.7L1629.2,1211.1L1629.3,1208.6L1629.4,1206.1L1629.6,1203.6L1629.7,1201.2L1629.8,1198.8L1630.0,1196.6L1630.1,1194.3L1630.2,1192.2L1630.4,1190.1L1630.6,1186.8L1630.8,1183.5L1631.0,1180.1L1631.2,1176.9L1631.4,1173.8L1631.6,1171.0L1631.8,1168.7L1632.0,1166.9L1632.2,1165.6L1632.9,1163.0L1633.6,1162.0L1634.2,1163.2L1634.8,1166.4L1635.4,1170.5L1635.6,1171.8L1635.8,1173.5L1636.0,1175.4L1636.2,1177.5L1636.3,1179.9L1636.5,1182.4L1636.7,1185.1L1636.9,1187.9L1637.0,1190.9L1637.2,1193.9L1637.4,1196.9L1637.6,1200.0L1637.8,1203.0L1637.9,1206.0L1638.1,1209.0L1638.3,1211.8L1638.5,1214.5L1638.6,1217.1L1638.8,1219.7L1639.0,1222.4L1639.1,1225.1L1639.3,1227.9L1639.5,1230.8L1639.6,1233.6L1639.8,1236.5L1640.0,1239.4L1640.1,1242.2L1640.3,1245.0L1640.5,1247.8L1640.6,1250.5L1640.8,1253.2L1641.0,1255.8L1641.1,1258.3L1641.3,1260.7L1641.5,1263.0L1641.6,1265.2L1641.8,1267.2L1642.0,1269.1L1642.1,1270.8L1642.5,1274.4L1642.9,1277.8L1643.3,1280.9L1643.6,1284.0L1644.0,1286.8L1644.4,1289.5L1644.8,1292.1L1645.1,1294.5L1645.5,1296.8L1645.9,1299.0L1646.3,1301.1L1646.7,1303.1L1647.0,1305.0L1647.6,1307.9L1648.3,1310.5L1648.9,1312.8L1649.5,1315.0L1650.1,1317.1L1650.7,1319.4L1651.3,1321.8L1651.9,1324.6L1652.4,1326.9L1652.8,1329.5L1653.2,1332.2L1653.7,1335.1L1654.1,1338.1L1654.6,1341.0L1655.0,1343.9L1655.4,1346.7L1655.9,1349.2L1656.3,1351.5L1656.9,1354.5L1657.5,1357.6L1658.1,1360.5L1658.7,1363.2L1659.3,1365.6L1659.9,1367.4L1660.5,1368.9L1662.3,1370.8L1664.1,1372.2L1665.9,1372.6L1666.9,1372.6L1668.0,1370.8L1669.0,1368.2L1670.1,1365.0L1671.2,1361.3L1671.4,1360.3L1671.7,1359.0L1672.0,1357.5L1672.2,1355.8L1672.5,1354.0L1672.7,1351.9L1673.0,1349.7L1673.3,1347.3L1673.5,1344.7L1673.8,1342.0L1674.0,1339.2L1674.3,1336.2L1674.6,1333.1L1674.8,1329.9L1675.1,1326.6L1675.3,1323.2L1675.6,1319.7L1675.9,1316.1L1676.1,1312.4L1676.2,1310.7L1676.3,1308.9L1676.5,1307.0L1676.6,1305.0L1676.7,1302.9L1676.8,1300.7L1676.9,1298.4L1677.0,1296.1L1677.1,1293.6L1677.2,1291.1L1677.4,1288.5L1677.5,1285.9L1677.6,1283.2L1677.7,1280.4L1677.8,1277.6L1677.9,1274.8L1678.0,1271.9L1678.2,1269.0L1678.3,1266.0L1678.4,1263.0L1678.5,1260.0L1678.6,1257.0L1678.7,1254.0L1678.8,1251.0L1679.0,1248.0L1679.1,1245.0L1679.2,1242.0L1679.3,1239.0L1679.4,1236.7L1679.5,1234.3L1679.6,1231.7L1679.6,1229.1L1679.7,1226.4L1679.8,1223.7L1679.9,1220.9L1680.0,1218.1L1680.1,1215.2L1680.2,1212.3L1680.2,1209.5L1680.3,1206.6L1680.4,1203.8L1680.5,1201.0L1680.6,1198.2L1680.7,1195.5L1680.8,1192.9L1680.8,1190.4L1680.9,1188.0L1681.0,1185.7L1681.1,1183.5L1681.2,1181.5L1681.3,1179.6L1681.4,1177.8L1681.5,1174.3L1681.7,1170.8L1681.9,1167.3L1682.1,1163.9L1682.3,1160.9L1682.4,1158.3L1682.6,1156.4L1682.8,1155.1L1683.0,1154.6L1683.5,1155.6L1684.0,1158.1L1684.5,1161.7L1685.0,1165.6L1685.2,1167.0L1685.3,1168.7L1685.5,1170.5L1685.7,1172.6L1685.8,1174.9L1686.0,1177.3L1686.1,1179.8L1686.3,1182.5L1686.5,1185.2L1686.6,1188.1L1686.8,1191.0L1687.0,1194.0L1687.1,1197.0L1687.3,1200.0L1687.5,1203.0L1687.6,1206.0L1687.8,1208.9L1688.0,1211.8L1688.1,1214.5L1688.3,1217.0L1688.4,1219.6L1688.6,1222.1L1688.7,1224.7L1688.9,1227.4L1689.0,1230.1L1689.2,1232.8L1689.3,1235.5L1689.5,1238.3L1689.6,1241.1L1689.8,1243.8L1689.9,1246.6L1690.1,1249.4L1690.2,1252.2L1690.4,1254.9L1690.5,1257.7L1690.6,1260.4L1690.8,1263.1L1690.9,1265.8L1691.1,1268.5L1691.2,1271.1L1691.4,1273.7L1691.5,1276.2L1691.7,1278.6L1691.8,1281.1L1692.0,1283.4L1692.1,1285.7L1692.3,1287.9L1692.5,1290.9L1692.7,1293.9L1692.9,1296.9L1693.1,1299.9L1693.3,1302.8L1693.5,1305.7L1693.7,1308.6L1693.9,1311.5L1694.1,1314.3L1694.3,1317.1L1694.5,1319.8L1694.7,1322.5L1694.9,1325.2L1695.1,1327.7L1695.3,1330.2L1695.5,1332.7L1695.7,1335.0L1696.0,1337.3L1696.2,1339.5L1696.4,1341.6L1696.6,1343.6L1696.8,1345.6L1697.0,1347.4L1697.2,1349.1L1697.6,1352.6L1698.1,1356.1L1698.5,1359.4L1699.0,1362.5L1699.4,1365.5L1699.8,1368.2L1700.3,1370.8L1700.7,1373.1L1701.2,1375.2L1701.6,1377.0L1702.1,1378.4L1703.2,1381.7L1704.3,1384.7L1705.4,1387.2L1706.6,1389.3L1707.7,1389.2L1709.0,1388.5L1710.4,1386.5L1711.7,1383.8L1713.1,1380.9L1714.0,1378.6L1714.9,1375.8L1715.8,1373.1L1716.7,1371.1L1718.3,1368.6L1719.9,1367.1L1721.1,1368.3L1722.2,1370.7L1723.3,1373.5L1723.9,1375.2L1724.4,1377.5L1725.0,1380.1L1725.6,1383.0L1726.1,1385.8L1726.7,1388.6L1727.2,1391.1L1727.8,1393.1L1728.8,1396.3L1729.8,1399.4L1730.8,1402.2L1731.8,1404.6L1732.8,1406.7L1733.9,1407.8L1736.1,1409.0L1738.3,1409.8L1740.3,1411.4L1742.2,1413.0L1744.2,1414.9L1746.1,1416.3L1748.1,1418.2L1750.0,1418.6L1752.4,1420.1L1754.7,1421.3L1757.0,1422.4L1759.4,1423.5L1761.7,1424.3L1764.0,1424.9L1766.4,1424.4L1768.7,1424.5L1771.0,1424.8L1773.4,1424.0L1775.7,1423.5L1778.1,1422.6L1780.4,1421.7L1782.7,1420.5L1784.7,1419.8L1786.6,1417.7L1788.6,1416.4L1790.5,1414.3L1792.5,1412.3L1794.4,1410.1L1796.1,1408.4L1797.8,1406.9L1799.5,1405.0L1801.1,1403.4L1802.8,1401.4L1804.5,1399.3L1806.2,1397.3L1807.5,1395.1L1808.7,1393.1L1810.0,1391.0L1811.3,1388.8L1812.6,1386.5L1813.9,1384.2L1815.1,1381.8L1816.4,1379.4L1817.6,1377.0L1818.9,1374.4L1820.1,1371.8L1821.3,1369.2L1822.5,1366.8L1823.8,1364.9L1825.1,1362.7L1826.5,1361.2L1827.5,1362.3L1828.6,1364.7L1829.7,1367.7L1830.3,1369.5L1830.9,1371.7L1831.5,1374.1L1832.1,1376.9L1832.7,1379.7L1833.2,1382.6L1833.8,1385.5L1834.4,1388.2L1835.0,1390.8L1835.5,1393.6L1836.1,1396.5L1836.6,1399.4L1837.2,1402.2L1837.7,1405.0L1838.3,1407.5L1838.8,1409.8L1839.4,1411.7L1840.5,1415.2L1841.6,1418.5L1842.7,1421.1L1843.8,1421.9L1845.6,1421.1L1847.3,1419.8L1849.1,1418.3L1851.6,1416.6L1854.1,1416.0L1856.5,1416.8L1858.9,1417.8L1861.4,1420.0L1863.7,1421.4L1866.1,1422.5L1868.4,1424.5L1870.8,1424.6L1873.1,1426.1L1875.4,1427.8L1877.6,1428.1L1879.9,1429.7L1882.1,1429.9L1883.8,1428.3L1885.5,1426.9L1887.1,1424.3L1888.8,1420.5L1889.0,1419.7L1889.2,1418.6L1889.4,1417.1L1889.6,1415.3L1889.8,1413.2L1890.0,1410.8L1890.2,1408.2L1890.4,1405.3L1890.6,1402.3L1890.8,1399.2L1891.0,1395.9L1891.2,1392.6L1891.4,1389.2L1891.5,1385.8L1891.7,1382.4L1891.8,1380.5L1891.9,1378.6L1892.0,1376.6L1892.2,1374.4L1892.3,1372.2L1892.4,1369.9L1892.5,1367.5L1892.6,1365.0L1892.7,1362.5L1892.8,1359.9L1892.9,1357.3L1893.0,1354.6L1893.1,1351.8L1893.2,1349.1L1893.3,1346.3L1893.4,1343.5L1893.5,1340.6L1893.6,1337.8L1893.7,1335.0L1893.8,1332.1L1893.9,1329.3L1894.0,1326.5L1894.1,1323.7L1894.2,1321.3L1894.3,1318.6L1894.4,1315.8L1894.4,1312.8L1894.5,1309.9L1894.6,1306.8L1894.7,1303.8L1894.8,1300.8L1894.9,1297.9L1895.0,1295.1L1895.1,1292.4L1895.1,1290.0L1895.2,1287.7L1895.3,1285.7L1895.4,1284.1L1895.5,1282.7L1895.8,1278.6L1896.1,1275.0L1896.5,1272.5L1896.8,1271.8L1897.0,1272.1L1897.2,1273.5L1897.5,1275.6L1897.7,1278.4L1897.9,1281.6L1898.2,1285.0L1898.4,1288.6L1898.5,1290.1L1898.6,1291.9L1898.7,1294.0L1898.7,1296.4L1898.8,1298.9L1898.9,1301.7L1899.0,1304.5L1899.1,1307.5L1899.2,1310.6L1899.3,1313.7L1899.4,1316.8L1899.4,1319.9L1899.5,1322.9L1899.6,1325.9L1899.7,1328.7L1899.8,1331.5L1899.9,1334.0L1900.0,1336.3L1900.1,1338.4L1900.2,1341.8L1900.4,1345.2L1900.5,1348.4L1900.7,1351.7L1900.8,1354.8L1901.0,1357.9L1901.1,1360.9L1901.3,1363.8L1901.5,1366.6L1901.6,1369.3L1901.8,1371.9L1901.9,1374.4L1902.1,1376.8L1902.2,1379.0L1902.4,1381.2L1902.5,1383.1L1902.7,1385.0L1902.8,1386.7L1903.0,1388.2L1903.4,1392.1L1903.8,1395.9L1904.3,1399.3L1904.7,1402.5L1905.1,1405.5L1905.6,1408.2L1906.0,1410.7L1906.4,1412.8L1906.8,1414.7L1907.3,1416.3L1907.7,1417.5L1909.2,1421.3L1910.7,1424.5L1912.2,1426.9L1913.7,1428.4L1915.2,1429.7L1916.7,1428.8L1918.1,1427.2L1919.6,1424.4L1921.0,1420.5L1921.2,1419.7L1921.4,1418.5L1921.5,1416.8L1921.7,1414.8L1921.8,1412.4L1922.0,1409.8L1922.1,1406.9L1922.3,1403.9L1922.5,1400.8L1922.6,1397.6L1922.8,1394.3L1922.9,1391.2L1923.1,1388.1L1923.2,1385.1L1923.4,1382.4L1923.5,1379.6L1923.7,1376.7L1923.9,1373.6L1924.0,1370.5L1924.2,1367.3L1924.3,1364.1L1924.5,1361.1L1924.6,1358.3L1924.8,1355.7L1924.9,1353.4L1925.1,1351.5L1925.2,1350.1L1925.7,1346.6L1926.2,1343.9L1926.7,1342.4L1927.1,1343.8L1927.6,1346.5L1928.0,1349.8L1928.4,1353.1L1928.8,1355.3L1929.1,1357.8L1929.4,1360.5L1929.8,1363.3L1930.1,1366.1L1930.4,1369.0L1930.7,1371.8L1931.1,1374.5L1931.4,1377.0L1931.7,1379.4L1932.2,1382.5L1932.6,1385.5L1933.0,1388.5L1933.5,1391.4L1933.9,1394.2L1934.4,1396.9L1934.8,1399.4L1935.2,1401.8L1935.7,1403.9L1936.1,1405.8L1937.0,1409.3L1937.9,1412.5L1938.7,1415.4L1939.6,1417.6L1940.5,1419.4L1942.5,1420.6L1944.6,1422.1L1946.6,1422.6L1949.1,1422.0L1951.6,1420.8L1954.2,1419.1L1955.6,1417.8L1957.1,1414.9L1958.6,1413.0L1960.0,1412.0L1962.5,1410.8L1964.9,1411.1L1967.4,1410.3L1968.4,1408.9L1969.5,1406.6L1970.6,1403.4L1971.7,1399.9L1972.2,1398.1L1972.7,1395.6L1973.2,1392.8L1973.7,1389.8L1974.2,1386.8L1974.7,1383.9L1975.2,1381.3L1975.7,1379.3L1976.1,1378.0L1977.8,1375.6L1979.4,1374.3L1981.0,1372.7L1982.6,1370.7L1983.1,1369.3L1983.7,1367.5L1984.2,1365.3L1984.8,1362.7L1985.3,1359.8L1985.9,1356.5L1986.4,1353.1L1986.6,1351.4L1986.8,1349.5L1987.1,1347.4L1987.3,1345.1L1987.5,1342.6L1987.7,1339.9L1988.0,1337.2L1988.2,1334.3L1988.4,1331.4L1988.6,1328.4L1988.9,1325.4L1989.1,1322.5L1989.3,1319.6L1989.5,1316.8L1989.8,1314.1L1990.0,1311.5L1990.2,1309.1L1990.5,1306.1L1990.8,1303.1L1991.1,1300.1L1991.3,1297.1L1991.6,1294.1L1991.9,1291.4L1992.2,1288.8L1992.5,1286.4L1992.7,1284.4L1993.0,1282.7L1993.7,1279.3L1994.3,1276.5L1995.0,1275.3L1995.4,1276.5L1995.9,1279.1L1996.4,1282.4L1996.9,1285.7L1997.3,1288.0L1997.6,1290.6L1998.0,1293.3L1998.4,1296.1L1998.7,1299.0L1999.1,1301.9L1999.5,1304.7L1999.8,1307.3L2000.2,1309.8L2000.6,1312.0L2001.2,1315.2L2001.8,1318.3L2002.3,1321.3L2002.9,1324.1L2003.5,1326.8L2004.1,1329.3L2004.7,1331.8L2005.3,1334.1L2005.9,1336.3L2006.4,1338.4L2007.4,1341.5L2008.3,1344.3L2009.2,1346.9L2010.1,1349.4L2011.0,1351.8L2011.9,1354.2L2012.9,1356.5L2013.8,1358.9L2014.7,1361.4L2015.7,1363.7L2016.7,1366.0L2017.7,1368.4L2018.7,1370.9L2019.6,1373.6L2020.3,1375.6L2021.0,1377.9L2021.6,1380.3L2022.3,1382.8L2023.0,1385.4L2023.6,1388.0L2024.3,1390.6L2025.0,1393.1L2025.6,1395.5L2026.3,1397.8L2027.0,1399.9L2027.9,1402.7L2028.8,1405.3L2029.7,1407.8L2030.6,1410.3L2031.5,1412.6L2032.5,1414.9L2033.4,1417.0L2034.3,1419.0L2035.5,1421.7L2036.7,1424.4L2037.9,1426.9L2039.2,1429.3L2040.4,1431.2L2041.6,1432.0L2043.9,1433.5L2046.1,1434.4L2048.4,1435.4L2050.6,1436.2L2051.9,1435.5L2053.1,1433.6L2054.3,1431.6L2055.5,1428.1L2056.7,1423.4L2056.8,1422.6L2056.9,1421.3L2057.0,1419.4L2057.1,1417.2L2057.3,1414.6L2057.4,1411.7L2057.5,1408.5L2057.6,1405.3L2057.7,1401.9L2057.8,1398.6L2057.9,1395.3L2058.0,1392.2L2058.1,1389.2L2058.2,1386.6L2058.3,1384.3L2058.4,1382.4L2058.6,1378.6L2058.9,1374.8L2059.1,1371.3L2059.3,1368.1L2059.6,1365.6L2059.8,1363.9L2060.0,1363.2L2060.3,1364.2L2060.7,1366.4L2061.0,1369.6L2061.3,1373.1L2061.6,1376.5L2061.8,1378.8L2062.1,1381.5L2062.3,1384.5L2062.5,1387.7L2062.7,1391.0L2062.9,1394.3L2063.1,1397.5L2063.3,1400.5L2063.5,1403.2L2063.7,1405.6L2064.0,1407.4L2064.2,1408.7L2065.1,1412.7L2066.1,1415.8L2067.0,1417.7L2068.0,1418.9L2071.0,1419.8L2074.1,1420.2L2075.6,1420.2L2077.1,1418.5L2078.7,1415.9L2080.2,1411.7L2080.2,1411.3L2080.3,1410.7L2080.4,1409.9L2080.4,1408.8L2080.5,1407.5L2080.5,1405.9L2080.6,1404.2L2080.7,1402.2L2080.7,1400.1L2080.8,1397.8L2080.8,1395.4L2080.9,1392.8L2081.0,1390.1L2081.0,1387.2L2081.1,1384.3L2081.1,1381.2L2081.2,1378.1L2081.3,1374.9L2081.3,1371.6L2081.4,1368.3L2081.4,1365.0L2081.5,1361.6L2081.6,1358.2L2081.6,1354.8L2081.7,1351.5L2081.7,1348.1L2081.8,1344.8L2081.9,1341.6L2081.9,1338.4L2082.0,1335.3L2082.0,1332.2L2082.1,1329.3L2082.2,1326.5L2082.2,1323.7L2082.3,1321.2L2082.3,1318.6L2082.4,1316.0L2082.5,1313.4L2082.5,1310.8L2082.6,1308.2L2082.6,1305.5L2082.7,1302.8L2082.7,1300.1L2082.8,1297.5L2082.9,1294.8L2082.9,1292.1L2083.0,1289.4L2083.0,1286.7L2083.1,1284.0L2083.2,1281.3L2083.2,1278.6L2083.3,1275.9L2083.3,1273.2L2083.4,1270.6L2083.4,1267.9L2083.5,1265.3L2083.6,1262.7L2083.6,1260.1L2083.7,1257.5L2083.7,1255.0L2083.8,1252.5L2083.8,1250.0L2083.9,1247.5L2084.0,1245.1L2084.0,1242.7L2084.1,1240.4L2084.1,1238.1L2084.2,1235.8L2084.3,1232.8L2084.3,1229.5L2084.4,1226.2L2084.5,1222.7L2084.6,1219.2L2084.7,1215.7L2084.7,1212.1L2084.8,1208.6L2084.9,1205.2L2085.0,1201.8L2085.0,1198.6L2085.1,1195.5L2085.2,1192.6L2085.3,1190.0L2085.3,1187.5L2085.4,1185.4L2085.5,1183.6L2085.6,1182.1L2085.6,1181.1L2085.7,1180.4L2085.8,1180.5L2085.9,1180.4L2086.0,1181.1L2086.1,1182.3L2086.2,1183.8L2086.3,1185.7L2086.4,1188.0L2086.4,1190.5L2086.5,1193.3L2086.6,1196.3L2086.7,1199.4L2086.8,1202.8L2086.9,1206.2L2087.0,1209.7L2087.1,1213.2L2087.2,1216.7L2087.3,1220.2L2087.4,1223.6L2087.5,1226.9L2087.6,1230.1L2087.6,1233.1L2087.7,1235.8L2087.8,1238.5L2087.9,1241.1L2088.0,1243.8L2088.1,1246.5L2088.2,1249.2L2088.3,1251.9L2088.4,1254.7L2088.5,1257.4L2088.6,1260.2L2088.7,1262.9L2088.7,1265.7L2088.8,1268.5L2088.9,1271.2L2089.0,1274.0L2089.1,1276.7L2089.2,1279.5L2089.3,1282.2L2089.4,1284.9L2089.5,1287.6L2089.6,1290.3L2089.7,1292.9L2089.7,1295.5L2089.8,1298.1L2089.9,1300.6L2090.0,1303.2L2090.1,1305.6L2090.2,1308.1L2090.3,1310.5L2090.4,1312.8L2090.5,1315.1L2090.6,1317.4L2090.7,1319.5L2090.8,1321.7L2090.8,1323.7L2091.0,1326.9L2091.1,1330.0L2091.3,1333.1L2091.4,1336.2L2091.5,1339.3L2091.7,1342.4L2091.8,1345.4L2092.0,1348.4L2092.1,1351.3L2092.2,1354.2L2092.4,1357.0L2092.5,1359.8L2092.7,1362.5L2092.8,1365.1L2093.0,1367.7L2093.1,1370.2L2093.2,1372.6L2093.4,1374.9L2093.5,1377.1L2093.7,1379.2L2093.8,1381.3L2093.9,1383.2L2094.1,1385.0L2094.2,1386.7L2094.4,1388.2L2094.7,1391.8L2095.0,1395.2L2095.4,1398.5L2095.7,1401.6L2096.0,1404.6L2096.4,1407.4L2096.7,1410.0L2097.1,1412.4L2097.4,1414.5L2097.7,1416.4L2098.1,1418.0L2098.4,1419.4L2098.8,1420.5L2100.2,1424.1L2101.6,1427.2L2103.0,1429.9L2104.4,1432.2L2105.8,1433.7L2107.2,1434.5L2108.7,1435.0L2110.6,1434.7L2112.5,1432.5L2114.4,1430.9L2116.4,1428.3L2118.3,1426.8L2120.5,1424.1L2122.7,1422.1L2125.6,1421.7L2128.5,1420.3L2131.5,1419.6L2133.2,1418.0L2135.0,1415.2L2136.7,1413.8L2138.4,1415.8L2140.1,1418.8L2141.7,1420.7L2144.3,1422.3L2146.8,1422.5L2149.4,1422.9L2152.0,1423.5L2154.9,1423.6L2157.8,1424.7L2160.8,1424.8L2162.5,1424.2L2164.3,1422.8L2166.0,1420.7L2167.8,1417.8L2169.6,1414.6L2170.2,1413.3L2170.9,1411.9L2171.6,1410.3L2172.2,1408.5L2172.9,1406.5L2173.6,1404.2L2174.2,1401.6L2174.9,1398.8L2175.6,1395.6L2176.2,1392.1L2176.9,1388.2L2177.1,1387.1L2177.2,1385.7L2177.4,1384.2L2177.6,1382.5L2177.8,1380.7L2177.9,1378.7L2178.1,1376.5L2178.3,1374.3L2178.5,1371.9L2178.6,1369.4L2178.8,1366.8L2179.0,1364.1L2179.2,1361.3L2179.3,1358.4L2179.5,1355.4L2179.7,1352.4L2179.9,1349.3L2180.0,1346.2L2180.2,1343.1L2180.4,1339.9L2180.6,1336.7L2180.8,1333.4L2180.9,1330.2L2181.1,1327.0L2181.3,1323.7L2181.4,1321.6L2181.5,1319.4L2181.6,1317.0L2181.7,1314.5L2181.8,1311.9L2181.9,1309.2L2182.1,1306.4L2182.2,1303.6L2182.3,1300.7L2182.4,1297.8L2182.5,1294.9L2182.6,1292.0L2182.7,1289.2L2182.8,1286.3L2182.9,1283.6L2183.1,1280.8L2183.2,1278.2L2183.3,1275.7L2183.4,1273.3L2183.5,1271.0L2183.6,1268.9L2183.7,1266.9L2183.8,1265.1L2184.1,1261.5L2184.3,1257.8L2184.5,1254.2L2184.7,1251.0L2185.0,1248.4L2185.2,1246.7L2185.4,1245.4L2185.7,1246.8L2185.9,1248.7L2186.1,1251.5L2186.4,1254.9L2186.6,1258.5L2186.8,1262.0L2187.1,1265.1L2187.3,1267.9L2187.5,1270.9L2187.7,1274.2L2187.9,1277.5L2188.1,1280.8L2188.3,1284.0L2188.5,1286.9L2188.8,1289.5L2189.0,1291.7L2189.2,1293.4L2189.4,1294.4L2190.8,1298.4L2192.2,1301.1L2193.6,1302.1L2194.4,1301.0L2195.1,1299.9L2195.8,1297.9L2196.5,1295.3L2197.3,1292.3L2198.0,1289.1L2198.7,1285.8L2199.4,1282.7L2199.9,1280.4L2200.4,1277.6L2200.9,1274.6L2201.4,1271.4L2201.8,1268.4L2202.3,1265.7L2202.8,1263.6L2203.3,1262.2L2204.9,1259.9L2206.6,1258.4L2208.3,1257.0L2210.0,1254.9L2210.6,1252.9L2211.2,1249.7L2211.8,1246.0L2212.3,1242.5L2212.9,1239.8L2213.5,1238.2L2214.1,1239.6L2214.7,1241.9L2215.3,1244.9L2215.9,1248.2L2216.4,1251.2L2217.0,1253.4L2218.0,1256.1L2219.0,1258.1L2220.0,1259.6L2220.4,1259.0L2220.8,1258.0L2221.2,1256.5L2221.7,1254.4L2222.1,1251.7L2222.5,1248.5L2222.9,1244.7L2223.3,1240.5L2223.8,1235.8L2223.8,1235.0L2223.9,1234.0L2224.0,1232.9L2224.0,1231.5L2224.1,1230.0L2224.1,1228.3L2224.2,1226.4L2224.3,1224.4L2224.3,1222.3L2224.4,1220.0L2224.4,1217.7L2224.5,1215.2L2224.6,1212.6L2224.6,1209.9L2224.7,1207.1L2224.7,1204.2L2224.8,1201.3L2224.9,1198.3L2224.9,1195.2L2225.0,1192.1L2225.0,1189.0L2225.1,1185.8L2225.2,1182.6L2225.2,1179.3L2225.3,1176.1L2225.3,1172.9L2225.4,1169.6L2225.5,1166.4L2225.5,1163.2L2225.6,1160.1L2225.6,1157.0L2225.7,1153.9L2225.8,1150.9L2225.8,1147.9L2225.9,1145.5L2225.9,1142.8L2226.0,1140.0L2226.0,1137.1L2226.1,1134.1L2226.1,1131.1L2226.2,1128.0L2226.2,1124.8L2226.3,1121.7L2226.3,1118.6L2226.4,1115.6L2226.4,1112.6L2226.5,1109.8L2226.5,1107.1L2226.6,1104.6L2226.6,1102.2L2226.7,1100.1L2226.7,1098.2L2226.8,1096.5L2226.8,1095.2L2227.0,1091.3L2227.1,1087.7L2227.3,1084.4L2227.4,1081.6L2227.6,1079.5L2227.8,1078.1L2227.9,1078.2L2228.3,1078.2L2228.7,1079.8L2229.1,1082.2L2229.5,1085.1L2229.9,1088.4L2230.2,1091.9L2230.6,1095.2L2230.8,1097.1L2231.1,1099.1L2231.3,1101.4L2231.5,1103.8L2231.7,1106.3L2231.9,1108.9L2232.2,1111.6L2232.4,1114.3L2232.6,1117.2L2232.8,1120.1L2233.0,1123.0L2233.3,1125.9L2233.5,1128.8L2233.7,1131.7L2233.9,1134.6L2234.1,1137.4L2234.4,1140.2L2234.6,1142.9L2234.8,1145.4L2235.0,1147.9L2235.3,1150.7L2235.5,1153.4L2235.8,1156.1L2236.0,1158.8L2236.3,1161.4L2236.6,1164.0L2236.8,1166.6L2237.1,1169.1L2237.3,1171.7L2237.6,1174.2L2237.8,1176.7L2238.1,1179.2L2238.3,1181.6L2238.6,1184.1L2238.8,1186.6L2239.1,1189.0L2239.4,1191.5L2239.6,1194.0L2239.9,1196.5L2240.1,1199.0L2240.4,1201.5L2240.6,1204.0L2240.9,1206.5L2241.1,1209.2L2241.4,1211.8L2241.7,1214.5L2241.9,1217.2L2242.2,1219.9L2242.5,1222.6L2242.7,1225.3L2243.0,1228.0L2243.2,1230.7L2243.5,1233.5L2243.8,1236.2L2244.0,1238.9L2244.3,1241.6L2244.5,1244.4L2244.8,1247.0L2245.1,1249.7L2245.3,1252.4L2245.6,1255.0L2245.9,1257.7L2246.1,1260.3L2246.4,1262.8L2246.6,1265.4L2246.9,1267.9L2247.2,1270.3L2247.4,1272.8L2247.7,1275.1L2248.0,1277.5L2248.2,1279.8L2248.6,1282.8L2248.9,1285.7L2249.2,1288.7L2249.6,1291.7L2249.9,1294.7L2250.2,1297.7L2250.6,1300.6L2250.9,1303.5L2251.3,1306.4L2251.6,1309.2L2251.9,1311.9L2252.3,1314.5L2252.6,1317.0L2253.0,1319.4L2253.3,1321.8L2253.6,1323.9L2254.0,1326.0L2254.3,1327.9L2254.7,1329.6L2255.4,1333.1L2256.1,1336.5L2256.8,1340.0L2257.5,1343.3L2258.2,1346.5L2258.9,1349.4L2259.6,1352.1L2260.3,1354.4L2261.0,1356.3L2261.7,1357.7L2262.4,1358.6L2263.1,1359.4L2263.9,1358.8L2264.6,1357.6L2265.4,1355.9L2266.1,1353.6L2266.9,1350.7L2267.7,1347.2L2268.4,1343.1L2269.2,1338.4L2269.3,1337.7L2269.4,1336.8L2269.5,1335.7L2269.6,1334.4L2269.6,1333.0L2269.7,1331.3L2269.8,1329.5L2269.9,1327.6L2270.0,1325.5L2270.1,1323.2L2270.2,1320.8L2270.3,1318.3L2270.4,1315.7L2270.5,1313.0L2270.5,1310.2L2270.6,1307.3L2270.7,1304.3L2270.8,1301.3L2270.9,1298.2L2271.0,1295.0L2271.1,1291.8L2271.2,1288.5L2271.3,1285.2L2271.4,1281.9L2271.4,1278.6L2271.5,1275.3L2271.6,1272.0L2271.7,1268.7L2271.8,1265.5L2271.9,1262.2L2272.0,1259.0L2272.1,1255.9L2272.2,1252.8L2272.3,1249.7L2272.4,1246.8L2272.4,1243.9L2272.5,1241.1L2272.6,1238.4L2272.7,1235.8L2272.8,1233.1L2272.9,1230.2L2273.0,1227.3L2273.1,1224.4L2273.2,1221.4L2273.3,1218.4L2273.4,1215.3L2273.5,1212.3L2273.6,1209.2L2273.7,1206.1L2273.8,1203.1L2273.9,1200.0L2274.0,1197.0L2274.1,1194.0L2274.2,1191.0L2274.3,1188.1L2274.4,1185.2L2274.5,1182.4L2274.6,1179.7L2274.7,1177.1L2274.8,1174.5L2274.9,1172.1L2275.0,1169.7L2275.1,1167.4L2275.2,1165.3L2275.3,1163.3L2275.3,1161.4L2275.4,1159.7L2275.5,1158.1L2275.6,1156.7L2275.9,1153.1L2276.2,1149.6L2276.4,1146.3L2276.7,1143.1L2276.9,1140.4L2277.2,1138.1L2277.5,1136.3L2277.7,1135.1L2278.0,1134.6L2279.5,1135.8L2280.9,1138.8L2282.4,1142.1L2283.3,1144.3L2284.1,1147.1L2285.0,1149.9L2285.9,1152.3L2286.8,1153.7L2289.4,1156.0L2292.1,1156.7L2292.3,1156.2L2292.6,1154.9L2292.9,1152.8L2293.2,1150.1L2293.5,1147.0L2293.8,1143.7L2294.0,1140.2L2294.3,1136.6L2294.6,1133.3L2294.8,1130.8L2295.0,1127.8L2295.1,1124.4L2295.3,1121.0L2295.5,1117.6L2295.7,1114.5L2295.9,1112.1L2296.0,1110.4L2296.2,1109.5L2297.1,1110.2L2298.0,1112.6L2298.9,1115.4L2299.7,1118.6L2300.1,1120.4L2300.5,1122.6L2300.9,1125.2L2301.3,1127.9L2301.7,1130.7L2302.1,1133.3" stroke="#0066E2" stroke-width="12.5"/>
<path d="M179.0,760L179.0,897.9L182.1,898.4L185.2,898.4L187.8,898.1L190.4,898.3L192.9,898.3L195.5,898.3L198.1,898.3L200.6,898.5L203.2,898.6L205.8,898.8L208.3,898.4L210.9,898.2L213.5,898.7L216.0,898.4L218.6,898.3L221.2,899.1L223.8,898.9L226.3,898.6L228.9,898.6L231.5,898.9L234.0,898.9L236.6,899.0L239.2,898.8L241.7,898.4L244.3,898.4L246.9,899.3L249.4,899.1L252.0,898.4L254.6,899.2L257.1,899.2L259.7,899.3L262.3,899.1L264.8,899.2L267.4,898.9L270.1,898.6L272.7,899.0L275.4,899.1L278.0,899.0L280.7,898.6L283.3,898.9L286.0,898.8L288.6,899.2L291.3,898.6L293.9,898.6L296.6,898.7L299.2,898.9L301.9,899.2L304.5,898.9L307.2,898.3L309.8,898.4L312.5,899.1L315.1,898.7L317.8,898.5L320.4,898.6L323.1,898.6L325.7,898.9L328.4,898.4L331.0,898.1L333.7,897.9L336.2,898.5L338.8,898.1L341.3,898.1L343.9,898.1L346.4,897.6L349.0,898.3L351.5,897.7L354.0,897.6L356.6,897.5L359.1,897.5L361.7,897.2L364.2,897.1L366.8,897.2L369.3,897.3L371.9,897.0L374.3,896.2L376.7,896.1L379.2,896.3L381.6,895.6L384.1,895.4L386.5,895.2L389.0,895.8L391.6,895.2L394.1,895.2L396.6,895.6L399.1,894.8L401.6,895.2L404.1,896.1L406.8,895.4L409.4,895.7L412.1,895.2L414.7,896.1L417.4,896.2L420.0,896.6L422.6,896.9L425.3,897.4L427.9,897.5L430.6,897.9L433.2,897.0L435.9,897.4L438.6,897.9L441.2,897.8L443.9,898.1L446.6,897.5L449.2,897.9L451.9,897.8L454.6,897.3L457.3,897.1L459.9,898.2L462.6,898.0L465.3,897.6L467.9,897.3L470.6,896.9L473.3,897.2L475.9,897.2L478.6,897.5L481.3,896.7L483.9,896.6L486.6,896.4L489.3,896.5L491.9,896.4L494.6,896.1L497.2,895.2L499.8,894.8L502.5,893.6L504.2,892.8L506.0,891.4L507.8,889.7L509.5,887.0L511.3,885.0L512.5,883.5L513.7,881.0L515.0,878.6L516.2,876.0L517.4,873.2L518.6,870.4L519.5,868.1L520.5,865.7L521.4,863.2L522.3,860.6L523.2,857.9L524.1,855.2L525.0,852.5L526.0,849.8L526.8,847.3L527.6,844.6L528.5,841.8L529.3,839.1L530.2,836.5L531.0,834.2L531.8,832.2L533.3,829.1L534.7,826.7L536.1,825.2L538.1,823.8L540.6,825.5L543.1,827.6L545.3,829.9L547.5,831.1L549.7,833.0L551.9,834.9L553.8,837.1L555.6,839.4L557.4,841.4L559.3,843.9L560.5,845.8L561.7,848.0L562.9,850.4L564.2,852.7L565.4,855.0L566.6,857.3L568.1,859.6L569.5,862.2L571.0,864.5L572.5,866.8L573.9,868.8L575.4,870.5L577.5,871.9L579.5,873.9L581.6,875.4L583.6,876.8L585.7,878.0L588.0,878.5L590.4,879.5L592.7,880.1L595.1,880.9L597.4,881.9L600.4,881.6L603.4,882.4L606.5,882.1L609.1,881.7L611.7,880.9L614.3,879.3L617.0,877.8L618.1,876.5L619.3,874.5L620.5,872.6L621.7,870.1L622.8,867.4L623.6,865.4L624.3,862.8L625.0,860.0L625.8,857.2L626.5,854.7L627.2,852.7L628.7,849.7L630.2,847.1L631.6,845.5L633.8,843.9L634.9,844.7L636.0,847.5L637.0,849.8L638.5,852.4L640.0,855.0L641.5,856.7L642.9,858.6L645.1,860.6L647.3,861.7L650.0,862.4L652.6,862.6L654.3,864.6L655.9,866.5L657.6,868.8L659.1,871.0L660.5,873.4L662.0,875.6L663.5,877.4L664.9,879.2L667.1,880.8L669.3,883.1L671.5,884.0L673.7,884.8L676.1,885.7L678.4,886.0L680.8,886.0L683.1,886.6L685.5,887.0L688.0,886.0L690.6,886.3L693.2,886.0L695.7,885.8L698.3,885.5L701.0,885.7L703.6,885.5L706.3,885.1L709.0,885.3L711.6,884.6L714.3,885.3L717.0,884.5L719.6,884.4L722.3,884.6L725.0,883.9L727.7,883.9L730.3,884.0L733.0,884.9L735.7,884.7L738.3,884.3L741.0,884.6L743.7,884.8L746.3,884.6L749.0,884.9L751.7,884.8L754.3,884.8L757.0,885.2L759.7,886.1L762.3,886.0L765.0,885.9L767.7,886.4L770.4,886.0L773.0,886.9L775.7,886.9L778.4,887.0L781.0,887.6L783.7,887.6L786.4,888.7L789.0,887.7L791.6,888.2L794.3,888.6L796.9,888.6L799.5,889.5L802.2,889.1L804.8,888.5L807.4,889.0L810.1,888.3L812.7,889.3L815.3,888.9L818.0,889.1L820.6,888.8L823.3,887.8L825.9,887.7L828.5,887.2L831.2,887.4L833.8,886.4L836.4,885.8L838.9,885.3L841.5,885.1L844.1,883.7L846.6,883.4L849.2,882.8L851.8,882.0L854.3,882.2L857.0,880.7L859.6,881.4L862.2,879.7L864.8,879.3L867.4,880.1L870.0,878.0L872.6,877.7L875.2,877.2L877.8,875.8L880.3,876.0L882.7,875.6L885.2,875.2L887.6,874.3L890.1,874.0L892.5,873.3L894.9,872.1L897.4,872.4L899.8,871.6L902.3,870.8L904.7,870.1L907.2,869.7L909.6,869.1L912.1,868.3L914.5,867.4L917.0,867.5L919.4,866.6L921.9,866.1L924.3,865.8L926.7,864.3L929.2,864.4L931.6,863.6L934.1,863.4L936.5,862.6L939.2,863.1L941.8,861.5L944.5,861.6L947.1,861.6L949.7,861.5L952.4,861.7L955.1,861.3L957.8,862.0L960.5,862.3L963.2,863.7L965.9,865.1L968.6,864.4L971.2,865.4L973.9,865.4L976.6,864.6L979.2,863.8L981.9,864.1L984.6,864.8L987.2,865.4L989.9,866.3L992.6,865.4L995.2,865.6L998.2,866.6L1001.1,866.8L1004.0,866.7L1006.6,867.3L1009.2,866.1L1011.8,865.8L1014.3,864.7L1016.9,865.0L1019.5,863.0L1022.0,863.8L1024.6,862.4L1027.0,863.3L1029.5,861.8L1031.9,862.8L1034.4,862.8L1036.8,861.0L1039.3,862.9L1041.8,860.8L1044.3,861.2L1046.8,860.7L1049.3,861.3L1051.9,861.6L1054.4,861.5L1056.9,862.7L1059.5,862.3L1062.2,861.5L1064.8,862.0L1067.5,861.3L1070.1,863.1L1072.7,861.8L1075.4,862.1L1078.0,862.6L1080.7,865.5L1083.3,864.8L1086.0,864.7L1088.6,863.9L1091.3,865.4L1094.0,864.5L1096.6,866.7L1099.3,866.4L1102.0,866.7L1104.7,866.0L1107.3,867.8L1110.0,867.2L1112.7,867.8L1115.1,866.7L1117.6,866.6L1120.0,869.3L1122.4,867.1L1124.9,867.2L1127.3,867.5L1129.7,867.4L1132.0,866.9L1134.4,864.2L1136.7,863.7L1139.1,861.8L1140.4,859.1L1141.8,855.8L1143.2,858.8L1144.6,861.5L1146.0,865.8L1147.2,863.8L1148.5,863.2L1149.8,865.4L1151.1,864.0L1152.4,863.5L1153.7,866.4L1155.0,866.2L1156.3,867.2L1157.6,866.8L1158.9,868.7L1160.2,868.4L1161.5,870.4L1162.8,868.6L1164.1,870.6L1165.4,869.9L1166.7,869.8L1168.0,870.6L1169.3,870.2L1170.6,870.6L1172.0,871.5L1173.3,872.5L1174.6,871.8L1176.0,870.2L1177.3,872.7L1178.6,873.5L1180.0,874.0L1181.3,874.0L1182.6,874.1L1184.0,875.3L1185.3,875.6L1186.6,876.3L1188.0,875.8L1189.3,878.1L1190.7,877.1L1192.0,876.4L1193.3,876.9L1194.7,877.1L1196.0,876.6L1197.3,877.7L1198.7,877.6L1200.1,878.9L1201.5,879.0L1202.9,879.6L1204.3,875.6L1205.7,879.4L1207.1,878.4L1208.5,876.9L1209.9,880.8L1211.3,880.2L1212.7,876.1L1214.1,877.5L1215.5,876.9L1216.9,878.9L1218.3,878.3L1219.7,879.1L1221.1,878.5L1222.5,880.5L1223.9,879.2L1225.3,880.3L1226.7,879.7L1228.0,879.7L1229.4,880.4L1230.7,880.8L1232.1,882.6L1233.4,882.6L1234.8,882.6L1236.1,882.0L1237.5,881.6L1238.8,883.0L1240.2,883.0L1241.5,882.5L1242.9,883.5L1244.2,886.4L1245.6,885.1L1246.9,885.3L1248.3,883.0L1249.4,885.9L1250.5,882.9L1251.5,882.9L1252.6,883.1L1253.7,878.7L1254.8,879.2L1255.5,880.4L1256.3,883.9L1257.1,883.0L1257.8,884.6L1258.6,886.3L1259.4,885.7L1260.1,888.0L1261.4,884.0L1262.7,882.3L1263.9,885.0L1265.2,883.5L1266.4,885.0L1267.7,883.1L1269.0,884.3L1270.3,884.8L1271.5,885.6L1272.8,884.2L1274.1,884.7L1275.4,887.4L1276.7,887.8L1278.0,886.6L1279.3,890.2L1280.6,889.9L1282.0,887.5L1283.4,888.5L1284.8,888.9L1286.2,889.3L1287.6,887.7L1288.9,889.8L1290.3,889.6L1291.7,889.4L1293.1,890.9L1294.5,892.1L1295.9,890.7L1297.3,891.4L1298.7,890.9L1300.1,892.4L1301.5,888.6L1302.9,890.8L1304.3,891.6L1305.7,889.0L1307.1,889.1L1308.6,890.6L1310.0,888.5L1311.4,888.8L1312.9,891.7L1314.3,892.2L1315.7,889.5L1317.2,892.0L1318.6,892.4L1320.1,890.5L1321.5,890.3L1322.9,889.8L1324.4,891.3L1325.8,892.2L1327.2,889.5L1328.7,888.2L1330.1,890.4L1331.5,887.1L1333.0,890.7L1334.4,883.8L1335.8,883.8L1337.3,885.5L1338.7,889.9L1340.1,892.8L1341.6,891.1L1343.0,888.6L1344.0,887.2L1345.0,888.3L1346.0,890.5L1347.0,891.0L1348.0,890.9L1349.0,892.6L1350.4,892.2L1351.7,893.9L1353.1,891.5L1354.4,893.1L1355.8,892.7L1357.1,892.3L1358.5,892.0L1359.8,889.0L1361.2,886.4L1362.5,889.9L1363.9,889.6L1365.2,891.9L1366.6,887.5L1367.9,890.2L1369.3,889.4L1370.7,889.6L1372.1,887.0L1373.5,890.7L1374.9,888.4L1376.3,889.7L1377.7,889.4L1379.1,888.6L1380.5,887.3L1381.9,889.5L1383.3,888.3L1384.7,890.6L1386.1,885.4L1387.4,888.2L1388.8,888.8L1390.2,888.5L1391.6,888.1L1393.1,889.2L1394.5,886.1L1395.9,886.3L1397.4,890.4L1398.8,886.5L1400.2,890.0L1401.7,887.6L1403.1,890.2L1404.5,889.0L1406.0,888.8L1407.4,885.7L1408.8,889.5L1410.3,888.0L1411.7,887.1L1413.1,885.0L1414.6,888.1L1416.0,888.8L1417.5,887.0L1418.9,888.4L1420.3,889.0L1421.8,887.5L1423.2,888.4L1424.6,886.3L1426.1,886.9L1427.5,887.6L1428.9,886.3L1430.4,887.7L1431.8,886.3L1433.2,885.5L1434.7,883.2L1436.0,883.4L1437.4,885.1L1438.8,885.7L1440.2,883.9L1441.5,883.9L1442.9,883.9L1444.3,882.5L1445.6,880.9L1447.0,882.9L1448.4,885.0L1449.7,885.6L1451.1,885.6L1452.4,883.4L1453.8,882.6L1455.1,880.7L1456.5,882.3L1457.8,880.8L1459.2,880.5L1460.5,879.9L1462.7,878.6L1464.8,876.5L1467.0,875.8L1469.1,872.5L1470.2,871.0L1471.3,869.3L1472.3,867.2L1473.4,864.9L1474.5,862.4L1475.6,859.6L1476.2,857.7L1476.8,855.7L1477.4,853.3L1478.0,850.8L1478.6,848.1L1479.3,845.3L1479.9,842.3L1480.3,840.2L1480.7,837.9L1481.1,835.4L1481.5,832.8L1481.9,830.2L1482.3,827.6L1482.7,825.2L1483.1,823.0L1483.6,820.1L1484.1,817.3L1484.7,814.8L1485.2,813.3L1486.4,811.8L1486.8,813.0L1487.3,815.7L1487.8,818.7L1488.1,820.8L1488.5,823.3L1488.8,826.0L1489.1,828.8L1489.5,831.5L1489.8,834.1L1490.1,836.3L1490.5,838.0L1491.3,841.3L1492.1,844.3L1492.8,846.7L1493.6,848.6L1494.4,850.1L1497.6,852.3L1499.1,851.4L1500.7,848.4L1502.2,844.5L1502.5,843.4L1502.8,841.9L1503.1,840.0L1503.4,837.8L1503.7,835.2L1504.0,832.4L1504.3,829.3L1504.6,826.1L1504.8,822.7L1505.1,819.2L1505.4,815.7L1505.7,812.2L1505.9,810.3L1506.0,808.2L1506.2,806.0L1506.3,803.7L1506.5,801.3L1506.6,798.8L1506.8,796.2L1506.9,793.5L1507.1,790.8L1507.2,788.1L1507.4,785.3L1507.5,782.5L1507.7,779.8L1507.8,777.1L1508.0,774.4L1508.1,771.7L1508.3,769.2L1508.5,766.4L1508.6,763.4L1508.8,760.2L1508.9,757.1L1509.1,754.1L1509.2,751.3L1509.4,748.9L1509.6,746.9L1509.7,745.5L1510.3,741.7L1510.9,740.0L1511.7,741.9L1512.4,745.5L1512.7,747.2L1513.1,749.4L1513.4,751.9L1513.7,754.7L1514.0,757.7L1514.3,760.7L1514.6,763.7L1514.9,766.5L1515.2,769.2L1515.6,771.8L1515.9,774.5L1516.2,777.2L1516.6,779.8L1516.9,782.4L1517.2,785.1L1517.5,787.6L1517.9,790.1L1518.2,792.6L1518.5,794.9L1518.9,797.2L1519.2,799.4L1519.5,801.4L1520.0,804.4L1520.5,807.4L1521.0,810.2L1521.5,813.0L1522.0,815.7L1522.5,818.3L1523.0,820.8L1523.5,823.3L1524.0,825.6L1524.5,827.8L1525.0,829.9L1525.5,831.9L1526.0,833.7L1526.9,837.1L1527.8,840.4L1528.8,843.5L1529.7,846.4L1530.6,848.8L1531.5,850.7L1532.4,852.3L1534.8,853.8L1537.2,855.6L1539.5,856.3L1541.9,856.4L1544.2,856.1L1545.6,855.5L1547.0,854.0L1548.3,851.0L1548.6,850.1L1548.8,848.7L1549.0,846.9L1549.3,844.7L1549.5,842.2L1549.7,839.4L1550.0,836.3L1550.2,833.1L1550.4,829.8L1550.7,826.4L1550.9,823.0L1551.1,820.8L1551.2,818.3L1551.3,815.5L1551.5,812.6L1551.6,809.4L1551.7,806.3L1551.9,803.1L1552.0,800.1L1552.1,797.3L1552.3,794.7L1552.4,792.5L1552.5,790.7L1552.8,787.3L1553.1,784.1L1553.4,781.4L1553.7,779.5L1554.0,778.9L1555.3,780.3L1556.6,782.1L1557.5,784.0L1558.4,786.8L1559.4,790.7L1559.6,792.3L1559.9,794.5L1560.2,797.1L1560.4,800.1L1560.7,803.2L1561.0,806.3L1561.2,809.4L1561.5,812.2L1561.8,814.8L1562.0,817.6L1562.3,820.4L1562.5,823.2L1562.8,826.0L1563.0,828.7L1563.3,831.4L1563.5,833.9L1563.8,836.3L1564.1,838.4L1564.3,840.2L1564.8,843.5L1565.3,846.5L1565.9,849.1L1566.4,851.3L1566.9,853.1L1568.0,856.1L1569.0,858.6L1570.1,860.9L1571.2,861.3L1573.3,862.9L1575.5,863.8L1577.7,864.7L1579.8,866.1L1582.0,867.1L1584.1,868.0L1586.3,869.8L1588.4,870.5L1590.6,872.0L1592.4,870.2L1594.2,868.6L1596.0,866.7L1597.7,868.0L1599.5,870.3L1601.3,870.9L1604.3,873.1L1607.3,873.5L1609.7,872.7L1612.1,870.9L1614.4,868.2L1615.3,866.7L1616.1,864.6L1617.0,861.9L1617.9,858.8L1618.7,855.3L1619.1,853.4L1619.5,851.2L1619.9,848.7L1620.3,846.0L1620.7,843.1L1621.1,840.1L1621.6,836.9L1622.0,833.7L1622.2,831.5L1622.5,829.1L1622.8,826.5L1623.0,823.8L1623.3,821.0L1623.6,818.1L1623.8,815.2L1624.1,812.3L1624.4,809.5L1624.6,806.7L1624.9,804.0L1625.2,801.4L1625.5,798.7L1625.8,796.0L1626.1,793.3L1626.4,790.6L1626.7,788.0L1626.9,785.4L1627.2,782.9L1627.5,780.4L1627.8,778.0L1628.1,775.7L1628.4,773.5L1628.8,770.2L1629.3,766.9L1629.7,763.8L1630.1,761.3L1630.6,759.5L1632.1,755.9L1633.0,758.0L1633.9,761.6L1634.2,763.1L1634.5,765.1L1634.8,767.3L1635.1,769.8L1635.4,772.6L1635.7,775.4L1636.0,778.3L1636.3,781.1L1636.6,783.8L1636.9,786.4L1637.2,789.1L1637.5,791.8L1637.8,794.6L1638.1,797.5L1638.5,800.2L1638.8,802.9L1639.1,805.5L1639.4,808.0L1639.8,810.2L1640.1,812.2L1640.6,815.3L1641.2,818.3L1641.7,821.2L1642.2,823.9L1642.8,826.3L1643.3,828.4L1643.8,830.2L1644.4,831.6L1646.0,834.1L1647.6,836.3L1649.2,837.9L1650.8,840.3L1651.9,842.4L1653.0,844.9L1654.1,847.6L1655.1,849.9L1656.8,852.5L1658.4,855.3L1659.5,857.4L1660.7,858.6L1663.0,858.8L1665.4,859.6L1667.4,857.9L1669.4,856.3L1671.4,853.0L1671.9,852.0L1672.3,850.4L1672.8,848.3L1673.3,845.8L1673.8,843.0L1674.3,839.9L1674.7,836.6L1675.2,833.1L1675.7,829.4L1675.9,827.7L1676.1,825.7L1676.3,823.5L1676.6,821.2L1676.8,818.7L1677.0,816.1L1677.2,813.4L1677.4,810.6L1677.6,807.8L1677.8,804.9L1678.1,802.0L1678.3,799.1L1678.5,796.2L1678.7,793.4L1678.9,790.7L1679.1,788.1L1679.3,785.3L1679.5,782.4L1679.7,779.4L1679.9,776.5L1680.1,773.6L1680.3,770.8L1680.5,768.3L1680.7,766.0L1680.9,764.1L1681.1,762.7L1681.6,759.6L1682.1,757.2L1682.6,756.4L1683.2,757.3L1683.8,759.7L1684.4,762.7L1684.6,764.3L1684.9,766.2L1685.2,768.4L1685.5,770.9L1685.7,773.6L1686.0,776.4L1686.3,779.3L1686.5,782.2L1686.8,785.1L1687.1,788.0L1687.4,790.7L1687.6,793.3L1687.9,796.1L1688.2,798.9L1688.4,801.8L1688.7,804.7L1689.0,807.5L1689.2,810.3L1689.5,813.1L1689.8,815.8L1690.1,818.3L1690.3,820.7L1690.6,823.0L1691.0,826.1L1691.4,829.1L1691.8,832.1L1692.2,835.0L1692.5,837.8L1692.9,840.4L1693.3,842.9L1693.7,845.2L1694.1,847.4L1694.5,849.3L1694.9,851.0L1695.8,854.4L1696.7,857.6L1697.6,860.4L1698.5,862.8L1699.4,864.7L1700.3,866.0L1702.4,868.2L1704.6,869.4L1706.7,870.3L1708.9,869.2L1711.0,867.9L1713.2,865.9L1715.9,863.9L1718.6,862.7L1721.3,863.8L1724.0,865.9L1725.8,867.8L1727.7,870.6L1729.6,872.6L1731.5,874.5L1734.1,875.9L1736.7,876.9L1739.2,877.7L1741.8,878.6L1744.4,879.0L1747.0,879.5L1749.7,879.6L1752.3,880.2L1754.9,880.4L1757.6,881.0L1760.2,881.3L1762.8,881.8L1765.5,881.4L1768.1,881.8L1770.7,881.5L1773.4,881.3L1776.0,880.5L1778.7,880.3L1781.3,879.8L1783.9,879.6L1786.6,879.2L1789.0,878.8L1791.5,877.8L1793.9,877.1L1796.4,875.9L1798.9,874.7L1801.3,873.5L1803.8,872.8L1805.9,871.3L1808.1,870.0L1810.2,868.1L1812.4,866.7L1814.5,865.3L1816.7,863.6L1818.6,862.2L1820.5,860.9L1822.3,859.6L1824.2,858.7L1826.4,857.4L1828.5,857.8L1830.3,857.4L1832.1,860.1L1833.9,861.9L1835.5,863.5L1837.1,866.4L1838.8,868.5L1840.4,870.2L1842.2,872.1L1844.0,873.5L1845.8,874.5L1848.3,873.2L1850.8,872.1L1853.3,870.3L1855.9,869.3L1858.5,868.3L1861.0,867.7L1863.6,867.0L1866.2,865.9L1868.9,864.1L1871.6,863.3L1874.3,862.3L1877.0,861.9L1879.8,862.1L1882.7,862.5L1885.6,862.5L1886.3,861.9L1887.1,860.5L1887.9,857.9L1888.7,854.6L1889.4,851.0L1889.7,849.5L1889.9,847.7L1890.2,845.5L1890.4,842.9L1890.6,840.2L1890.9,837.2L1891.1,834.2L1891.3,831.2L1891.6,828.3L1891.8,825.5L1892.0,823.0L1892.3,819.9L1892.6,816.4L1892.9,813.0L1893.1,809.7L1893.4,806.9L1893.7,804.8L1894.0,803.6L1895.3,802.0L1896.0,803.8L1896.7,807.9L1897.0,809.9L1897.2,812.7L1897.5,815.9L1897.7,819.4L1898.0,822.8L1898.2,825.8L1898.5,828.1L1898.8,829.4L1900.1,832.9L1901.5,835.1L1902.8,835.8L1905.0,835.5L1907.1,833.3L1909.3,831.6L1911.0,830.3L1912.7,829.1L1914.4,827.4L1916.1,825.4L1917.9,823.0L1918.5,821.6L1919.2,819.6L1919.8,817.2L1920.4,814.3L1921.1,811.2L1921.7,807.9L1922.1,805.7L1922.4,803.0L1922.8,800.0L1923.1,797.1L1923.4,794.6L1923.8,792.8L1924.5,790.2L1925.2,788.9L1926.3,790.9L1927.4,793.9L1928.7,796.7L1930.1,799.3L1931.4,801.5L1932.8,803.4L1934.6,805.3L1936.5,807.6L1938.4,809.0L1940.3,810.0L1942.9,810.8L1945.5,812.5L1948.0,813.0L1950.6,814.0L1953.2,815.1L1955.4,817.0L1957.5,818.8L1959.7,821.1L1961.8,823.0L1963.6,824.7L1965.4,827.3L1967.1,828.6L1968.9,829.3L1971.6,828.8L1974.3,826.9L1977.1,825.7L1979.8,825.1L1982.4,824.9L1984.1,823.7L1985.7,821.8L1986.1,820.7L1986.6,818.5L1987.1,815.8L1987.5,812.6L1988.0,809.4L1988.4,806.3L1988.9,803.6L1989.4,800.9L1990.0,798.2L1990.5,795.7L1991.0,793.2L1991.5,790.8L1992.1,788.5L1992.7,785.3L1993.4,782.3L1994.1,780.8L1994.8,782.0L1995.5,784.3L1996.2,787.2L1996.9,789.9L1997.6,792.3L1998.3,794.9L1999.0,797.6L1999.7,800.2L2000.4,802.8L2001.1,805.0L2001.8,807.0L2003.0,810.0L2004.2,812.8L2005.4,815.3L2006.6,817.7L2007.9,819.1L2009.7,821.2L2011.5,822.8L2013.4,824.5L2015.2,826.5L2016.7,828.5L2018.3,831.0L2019.8,834.0L2021.3,836.5L2022.8,838.5L2024.3,841.0L2025.7,843.4L2027.2,845.4L2028.7,847.3L2030.4,849.6L2032.1,851.5L2033.8,854.0L2035.5,855.2L2037.2,856.9L2039.4,859.7L2041.5,861.1L2043.6,863.7L2045.8,864.0L2048.2,866.0L2050.7,866.4L2053.1,866.9L2054.5,866.1L2055.9,863.9L2057.4,860.8L2057.8,859.2L2058.3,856.7L2058.8,853.8L2059.2,850.8L2059.7,848.1L2060.2,846.2L2061.4,842.5L2062.6,841.1L2063.4,842.0L2064.3,844.6L2065.1,847.4L2065.8,850.1L2066.5,853.4L2067.3,856.0L2068.0,857.0L2070.2,857.1L2072.4,857.4L2074.2,859.3L2076.1,860.8L2077.3,860.4L2078.5,857.9L2079.7,853.5L2079.9,852.8L2080.0,851.8L2080.1,850.4L2080.2,848.7L2080.3,846.6L2080.4,844.3L2080.5,841.8L2080.6,839.1L2080.7,836.1L2080.8,833.1L2080.9,829.9L2081.0,826.7L2081.1,823.4L2081.2,820.1L2081.3,816.9L2081.4,813.6L2081.5,810.5L2081.6,807.5L2081.7,804.6L2081.8,802.1L2081.9,799.4L2082.0,796.7L2082.1,793.8L2082.2,790.9L2082.2,788.0L2082.3,785.1L2082.4,782.3L2082.5,779.5L2082.6,776.8L2082.7,774.3L2082.8,771.9L2082.9,769.8L2083.0,767.9L2083.1,764.3L2083.3,760.7L2083.5,757.3L2083.6,754.2L2083.8,751.8L2084.0,750.1L2084.2,749.7L2084.4,750.2L2084.5,751.9L2084.7,754.5L2084.9,757.7L2085.1,761.1L2085.3,764.6L2085.5,767.9L2085.6,770.1L2085.8,772.5L2085.9,775.0L2086.0,777.6L2086.2,780.3L2086.3,783.1L2086.4,786.0L2086.6,788.8L2086.7,791.6L2086.8,794.4L2087.0,797.1L2087.1,799.7L2087.2,802.2L2087.4,804.6L2087.5,807.6L2087.7,810.7L2087.9,813.7L2088.1,816.8L2088.2,819.8L2088.4,822.7L2088.6,825.6L2088.8,828.3L2088.9,831.0L2089.1,833.4L2089.3,835.7L2089.5,837.8L2089.6,839.7L2089.8,841.3L2090.3,845.0L2090.7,848.6L2091.2,851.8L2091.6,854.7L2092.1,857.2L2092.6,859.3L2093.0,860.9L2093.5,862.1L2095.3,864.9L2097.1,867.1L2099.0,868.1L2100.8,869.1L2103.1,870.1L2105.4,871.0L2107.7,871.6L2110.0,871.7L2112.3,872.0L2114.5,871.9L2116.8,870.9L2119.1,870.0L2121.3,869.6L2123.8,868.1L2126.2,867.5L2128.7,866.6L2131.1,867.5L2133.6,868.1L2136.0,866.8L2138.4,865.2L2140.5,866.7L2142.5,868.4L2144.6,869.7L2146.6,869.1L2148.6,868.1L2150.7,867.5L2153.1,866.2L2155.6,865.8L2158.0,864.9L2159.8,863.6L2161.7,861.4L2163.5,859.5L2165.4,857.1L2167.1,855.5L2168.8,853.8L2170.5,851.7L2172.2,849.3L2173.9,846.2L2174.6,844.7L2175.3,842.9L2176.0,840.9L2176.7,838.5L2177.4,835.8L2178.1,832.6L2178.8,829.0L2179.1,827.3L2179.3,825.2L2179.6,822.8L2179.9,820.1L2180.2,817.2L2180.4,814.1L2180.7,810.9L2181.0,807.7L2181.2,804.6L2181.5,802.1L2181.7,799.4L2181.9,796.5L2182.1,793.5L2182.3,790.5L2182.5,787.6L2182.7,784.9L2182.9,782.3L2183.1,780.1L2183.4,776.5L2183.8,772.9L2184.1,770.2L2184.4,769.2L2184.9,770.4L2185.3,773.4L2185.8,777.0L2186.2,780.1L2186.7,783.0L2187.1,786.2L2187.6,789.2L2188.0,791.9L2188.5,793.9L2189.0,795.1L2192.5,796.1L2193.4,794.9L2194.2,793.3L2195.1,790.6L2195.9,787.7L2196.8,785.0L2197.6,782.6L2198.4,780.0L2199.2,777.4L2200.0,775.0L2200.8,772.8L2202.0,770.0L2203.3,767.6L2204.5,765.3L2205.7,763.1L2206.9,760.6L2207.9,758.1L2209.0,755.3L2210.0,752.5L2211.0,749.8L2212.0,747.5L2213.0,745.9L2215.1,744.7L2217.1,743.0L2219.2,741.1L2220.1,739.9L2221.0,738.2L2221.9,735.5L2222.8,731.2L2222.9,730.6L2223.0,729.6L2223.0,728.1L2223.1,726.3L2223.2,724.2L2223.2,721.8L2223.3,719.1L2223.3,716.3L2223.4,713.3L2223.5,710.1L2223.5,706.9L2223.6,703.6L2223.7,700.3L2223.7,697.0L2223.8,693.8L2223.9,690.6L2223.9,687.7L2224.0,684.9L2224.1,682.3L2224.1,679.5L2224.2,676.7L2224.3,673.8L2224.3,670.8L2224.4,667.9L2224.5,664.9L2224.5,662.0L2224.6,659.1L2224.7,656.4L2224.8,653.7L2224.8,651.1L2224.9,648.6L2225.0,646.4L2225.0,644.3L2225.1,642.4L2225.2,640.7L2225.4,636.8L2225.5,632.9L2225.7,629.5L2225.9,626.7L2226.1,624.8L2226.3,624.6L2226.7,625.0L2227.2,627.4L2227.7,630.4L2228.1,633.4L2228.5,635.4L2228.8,637.5L2229.2,639.8L2229.6,642.1L2229.9,644.5L2230.3,647.0L2230.6,649.6L2231.0,652.2L2231.3,655.0L2231.7,657.8L2231.9,660.0L2232.2,662.4L2232.4,664.8L2232.7,667.4L2233.0,670.0L2233.2,672.6L2233.5,675.4L2233.8,678.1L2234.0,680.9L2234.3,683.7L2234.5,686.4L2234.8,689.2L2235.1,691.9L2235.3,694.5L2235.6,697.2L2235.9,699.9L2236.1,702.6L2236.4,705.3L2236.6,708.1L2236.9,710.9L2237.2,713.6L2237.4,716.3L2237.7,719.0L2237.9,721.6L2238.2,724.1L2238.5,726.6L2238.7,728.9L2239.0,731.2L2239.4,734.4L2239.7,737.8L2240.1,741.2L2240.5,744.5L2240.9,747.7L2241.2,750.6L2241.6,753.3L2242.0,755.4L2242.3,757.1L2242.7,758.1L2244.5,760.8L2246.3,763.0L2248.0,763.4L2249.8,763.1L2251.6,761.7L2253.4,759.2L2253.9,757.9L2254.4,755.4L2254.9,752.3L2255.5,748.8L2256.0,745.5L2256.5,742.8L2257.1,741.0L2258.7,737.6L2260.3,735.5L2262.0,734.5L2265.0,734.0L2268.1,733.9L2268.5,733.0L2268.9,731.3L2269.3,728.9L2269.7,725.9L2270.1,722.5L2270.5,719.0L2270.7,717.4L2270.9,715.5L2271.0,713.4L2271.2,711.1L2271.4,708.6L2271.6,706.0L2271.7,703.3L2271.9,700.4L2272.1,697.5L2272.3,694.5L2272.4,691.4L2272.6,688.4L2272.8,685.3L2273.0,682.3L2273.1,680.0L2273.2,677.5L2273.4,674.8L2273.5,672.0L2273.6,669.2L2273.7,666.3L2273.9,663.3L2274.0,660.4L2274.1,657.5L2274.3,654.7L2274.4,651.9L2274.5,649.3L2274.6,646.9L2274.8,644.6L2274.9,642.5L2275.0,640.7L2275.3,637.1L2275.6,633.5L2275.8,630.1L2276.1,627.4L2276.4,625.5L2276.6,624.8L2277.7,625.6L2278.8,628.0L2279.8,630.9L2280.3,633.1L2280.8,636.2L2281.3,639.5L2281.8,642.5L2282.3,644.4L2284.1,647.8L2285.9,649.2L2286.9,647.8L2287.8,644.5L2288.7,640.8L2289.6,638.3L2291.4,635.6L2293.3,634.4L2295.7,633.5L2298.2,633.1L2298.6,633.9L2299.0,635.4L2299.3,637.9L2299.7,641.3L2300.1,645.6L2300.2,647.0L2300.3,649.2L2300.4,651.8L2300.5,654.7L2300.5,657.6L2300.6,660.3" stroke="#C872E3" stroke-width="12.5"/>
<path d="M179.0,897L179.0,1113.5L182.1,1113.2L185.2,1113.5L187.8,1113.2L190.4,1113.4L192.9,1113.1L195.5,1113.6L198.1,1113.1L200.6,1113.2L203.2,1113.1L205.8,1113.2L208.3,1112.8L210.9,1113.0L213.5,1113.1L216.0,1113.7L218.6,1113.2L221.2,1113.3L223.8,1112.9L226.3,1112.9L228.9,1113.3L231.5,1113.2L234.0,1113.2L236.6,1113.8L239.2,1113.9L241.7,1113.8L244.3,1114.0L246.9,1113.2L249.4,1113.9L252.0,1113.5L254.6,1113.6L257.1,1113.6L259.7,1113.8L262.3,1114.5L264.8,1113.9L267.4,1113.8L270.0,1114.2L272.5,1113.7L275.1,1114.3L277.6,1113.5L280.2,1114.5L282.7,1114.6L285.3,1114.5L287.8,1114.4L290.4,1114.6L292.9,1114.3L295.5,1114.9L298.0,1114.6L300.6,1115.7L303.2,1114.9L305.7,1115.4L308.3,1115.0L310.8,1115.1L313.4,1115.1L315.9,1115.4L318.5,1115.8L321.0,1115.6L323.6,1115.4L326.1,1115.6L328.9,1115.4L331.6,1115.5L334.3,1115.3L337.0,1115.0L339.8,1114.2L342.5,1113.2L345.1,1113.9L347.6,1113.3L350.2,1112.5L352.8,1111.8L355.3,1111.7L357.9,1111.6L360.5,1110.7L363.1,1109.7L365.5,1108.9L367.9,1107.8L370.4,1106.6L372.8,1105.0L375.3,1104.4L377.7,1101.9L379.5,1100.5L381.2,1099.0L383.0,1096.9L384.8,1095.2L386.5,1093.1L388.7,1091.9L390.9,1089.7L393.1,1089.0L395.3,1087.7L397.4,1086.7L399.5,1086.3L401.9,1086.6L404.2,1088.2L406.6,1089.5L409.0,1090.2L411.3,1090.8L413.7,1092.7L416.0,1093.7L418.4,1094.6L420.7,1095.8L423.1,1097.0L425.4,1098.4L427.8,1098.7L430.1,1099.5L432.7,1099.3L435.3,1100.1L437.9,1100.3L440.5,1100.7L443.1,1100.3L445.8,1100.8L448.4,1100.4L451.0,1101.0L453.6,1101.4L456.3,1100.6L459.0,1100.6L461.7,1100.6L464.3,1101.0L467.0,1100.6L469.7,1100.5L472.4,1100.1L475.1,1099.9L477.8,1099.8L480.5,1099.2L483.2,1099.0L485.9,1099.1L488.5,1098.8L491.2,1099.0L493.9,1098.4L496.5,1098.7L499.2,1098.5L501.9,1098.4L504.6,1097.7L507.2,1098.3L509.9,1097.5L512.6,1097.9L515.2,1097.9L517.9,1097.8L520.6,1097.9L523.2,1097.8L525.9,1097.8L528.6,1097.9L531.2,1097.7L533.9,1098.6L536.6,1098.3L539.2,1098.3L541.9,1098.6L544.6,1098.7L547.2,1098.9L549.8,1099.2L552.4,1099.1L554.9,1099.4L557.5,1099.5L560.1,1099.6L562.7,1100.0L565.3,1100.2L567.9,1100.3L570.5,1100.7L573.1,1100.4L575.7,1100.8L578.3,1101.3L580.8,1101.2L583.4,1102.0L586.0,1101.5L588.6,1102.5L591.2,1102.5L593.7,1102.7L596.3,1102.6L598.8,1102.8L601.4,1103.2L603.9,1103.6L606.5,1103.6L609.0,1103.5L611.6,1103.7L614.1,1104.1L616.7,1103.8L619.2,1104.5L621.8,1104.1L624.3,1104.4L626.9,1104.7L629.5,1104.6L632.0,1104.6L634.6,1105.6L637.1,1105.1L639.7,1104.9L642.2,1105.5L644.8,1105.8L647.3,1105.7L649.9,1105.7L652.5,1106.2L655.1,1106.7L657.8,1106.2L660.4,1106.8L663.0,1107.1L665.6,1107.0L668.2,1107.7L670.8,1107.5L673.4,1108.1L676.0,1108.0L678.6,1108.2L681.2,1108.5L683.9,1108.3L686.5,1108.8L689.1,1108.6L691.7,1109.2L694.3,1108.8L696.3,1108.5L698.3,1108.6L700.9,1108.7L703.4,1108.8L706.0,1108.5L708.5,1109.0L711.1,1109.0L713.6,1109.7L716.2,1110.2L718.7,1110.8L721.3,1111.2L723.8,1111.1L726.4,1111.3L728.9,1112.5L731.5,1113.0L734.0,1113.2L736.6,1113.0L739.1,1113.9L741.7,1114.3L744.2,1114.8L746.8,1114.2L749.4,1115.9L751.9,1115.7L754.5,1116.0L757.0,1116.4L759.6,1115.7L762.2,1115.2L764.8,1115.9L767.4,1115.2L770.0,1116.1L772.5,1115.4L775.1,1115.8L777.7,1115.5L780.3,1115.4L782.9,1115.8L785.5,1115.3L788.1,1115.2L790.7,1115.8L793.3,1114.7L795.9,1114.1L798.4,1113.9L801.0,1114.2L803.6,1113.6L806.2,1114.3L808.8,1114.0L811.4,1113.7L814.0,1114.3L816.6,1113.7L819.2,1113.7L821.8,1113.3L824.4,1113.7L826.9,1113.3L829.5,1113.4L832.1,1113.6L834.7,1112.7L837.3,1113.5L839.9,1113.2L842.5,1112.5L845.1,1112.2L847.7,1112.6L850.3,1113.6L852.9,1113.2L855.6,1112.7L858.2,1112.5L860.8,1113.1L863.4,1113.1L866.0,1112.7L868.7,1113.0L871.3,1112.8L873.9,1112.9L876.5,1112.9L879.1,1113.2L881.8,1113.1L884.4,1113.2L887.0,1113.6L889.6,1112.5L892.2,1112.7L894.9,1112.5L897.5,1112.8L900.1,1112.5L902.7,1112.1L905.4,1112.1L908.0,1113.2L910.6,1113.1L913.2,1112.2L915.8,1113.3L918.5,1112.4L921.1,1113.5L923.7,1113.4L926.3,1113.0L928.9,1112.6L931.6,1112.3L934.2,1113.0L936.8,1113.0L939.4,1112.6L942.0,1112.7L944.7,1112.4L947.3,1113.1L949.9,1112.7L952.5,1112.6L955.1,1113.8L957.8,1113.2L960.4,1113.1L963.0,1113.1L965.6,1112.7L968.3,1113.0L970.9,1112.8L973.5,1112.2L976.1,1112.6L978.7,1113.4L981.4,1112.7L984.0,1112.1L986.6,1113.1L989.2,1112.3L991.8,1112.9L994.4,1112.8L997.0,1112.5L999.6,1112.3L1002.2,1113.3L1004.8,1112.8L1007.4,1113.4L1010.0,1112.4L1012.6,1114.1L1015.2,1113.2L1017.7,1112.9L1020.3,1112.8L1022.9,1113.2L1025.5,1114.6L1028.1,1112.2L1030.7,1113.1L1033.3,1112.8L1035.9,1114.1L1038.5,1111.8L1041.1,1113.0L1043.6,1111.4L1046.2,1112.1L1048.8,1113.7L1051.4,1113.6L1054.0,1112.3L1056.6,1113.6L1059.2,1113.3L1061.8,1113.9L1064.4,1113.8L1067.0,1112.8L1069.5,1114.3L1072.1,1113.3L1074.7,1112.5L1077.3,1114.5L1079.9,1113.5L1082.5,1114.3L1085.1,1113.3L1087.7,1114.0L1090.3,1112.5L1092.9,1113.6L1095.4,1112.9L1098.0,1114.2L1100.6,1113.0L1103.2,1113.3L1105.8,1113.9L1108.4,1114.4L1111.0,1113.1L1113.6,1113.2L1116.2,1113.1L1118.8,1115.1L1121.3,1114.3L1123.9,1115.1L1126.5,1115.0L1129.0,1114.2L1131.5,1116.3L1134.0,1116.9L1136.5,1118.7L1139.0,1119.8L1141.5,1117.9L1142.9,1118.7L1144.3,1117.4L1145.7,1119.7L1147.1,1121.1L1148.5,1118.7L1149.9,1116.3L1151.3,1115.2L1152.7,1114.2L1154.1,1117.1L1155.5,1115.8L1156.8,1115.9L1158.2,1116.5L1159.6,1116.5L1161.0,1113.9L1162.4,1114.9L1163.8,1116.0L1165.2,1113.7L1166.6,1116.3L1168.0,1116.0L1169.4,1111.8L1170.8,1114.4L1172.2,1114.3L1173.6,1113.9L1175.0,1113.7L1176.4,1115.1L1177.8,1114.7L1179.1,1114.3L1180.5,1113.0L1181.9,1113.9L1183.3,1113.7L1184.7,1115.2L1186.1,1113.5L1187.5,1115.7L1188.9,1114.5L1190.3,1115.7L1191.7,1115.4L1193.1,1117.0L1194.5,1114.5L1195.9,1115.3L1197.3,1114.5L1198.7,1116.0L1200.1,1115.8L1201.5,1114.1L1202.9,1114.8L1204.3,1114.1L1205.7,1115.2L1207.1,1116.2L1208.5,1115.9L1209.9,1115.6L1211.3,1118.4L1212.7,1113.1L1214.1,1113.2L1215.5,1112.7L1216.9,1116.2L1218.3,1113.8L1219.7,1116.2L1221.1,1116.1L1222.5,1117.7L1223.9,1115.9L1225.3,1116.2L1226.7,1118.0L1228.1,1114.9L1229.6,1116.4L1231.1,1116.7L1232.5,1116.6L1234.0,1113.2L1235.5,1116.0L1236.9,1114.7L1238.4,1114.2L1239.8,1113.3L1241.2,1116.0L1242.7,1112.4L1244.1,1111.2L1245.5,1111.4L1246.9,1112.2L1248.3,1113.0L1249.5,1111.3L1250.7,1111.6L1252.0,1112.2L1253.2,1113.5L1254.4,1115.2L1255.6,1115.8L1256.9,1119.7L1258.1,1121.0L1259.3,1116.1L1260.5,1116.8L1261.8,1114.2L1263.0,1116.0L1264.2,1117.9L1265.4,1120.0L1266.6,1117.0L1267.9,1115.3L1269.1,1114.7L1270.3,1114.9L1271.5,1114.0L1272.8,1112.6L1274.1,1113.9L1275.5,1110.3L1276.9,1113.2L1278.3,1112.9L1279.7,1114.3L1281.1,1112.8L1282.4,1112.8L1283.8,1111.2L1285.2,1114.7L1286.6,1113.0L1288.0,1113.5L1289.4,1115.5L1290.7,1114.8L1292.1,1115.0L1293.5,1112.6L1294.9,1114.5L1296.3,1114.4L1297.6,1113.7L1299.0,1117.3L1300.4,1115.8L1301.8,1112.1L1303.2,1113.8L1304.6,1115.2L1306.0,1113.9L1307.4,1114.9L1308.8,1113.0L1310.3,1111.9L1311.7,1114.8L1313.1,1114.6L1314.6,1112.2L1316.0,1114.9L1317.4,1111.8L1318.8,1115.7L1320.3,1117.3L1321.7,1113.2L1323.0,1113.9L1324.3,1114.4L1325.6,1112.9L1326.9,1115.6L1328.2,1114.5L1329.5,1117.4L1330.8,1117.1L1332.1,1117.8L1333.4,1119.4L1334.7,1116.1L1336.0,1116.9L1337.3,1119.3L1338.6,1119.8L1340.0,1123.6L1341.3,1124.1L1342.1,1122.4L1343.0,1119.7L1343.9,1118.6L1344.8,1116.8L1345.7,1115.2L1346.6,1113.6L1347.5,1111.9L1348.4,1111.2L1349.3,1109.3L1350.2,1110.6L1351.0,1110.3L1352.0,1109.3L1353.0,1110.8L1354.0,1111.6L1354.9,1111.4L1355.9,1113.4L1356.9,1114.8L1357.9,1115.9L1358.9,1116.7L1359.8,1118.2L1360.8,1118.1L1361.8,1116.2L1362.8,1119.0L1363.7,1121.4L1364.9,1122.5L1366.1,1122.3L1367.2,1124.2L1368.4,1123.0L1369.6,1118.0L1370.7,1118.0L1371.9,1114.8L1373.1,1114.4L1374.2,1113.5L1375.4,1114.1L1376.6,1111.9L1377.7,1113.4L1378.9,1113.3L1380.3,1114.6L1381.7,1110.7L1383.1,1112.9L1384.5,1113.6L1385.9,1111.9L1387.3,1113.7L1388.7,1113.7L1390.1,1116.5L1391.5,1116.4L1392.9,1115.4L1394.3,1118.0L1395.7,1115.7L1397.1,1117.8L1398.5,1115.5L1399.9,1119.3L1401.3,1114.0L1402.7,1117.3L1404.1,1118.1L1405.5,1118.5L1406.9,1118.9L1408.3,1117.3L1409.7,1115.8L1411.1,1115.8L1412.4,1117.5L1413.8,1114.4L1415.2,1117.7L1416.6,1115.9L1418.0,1116.3L1419.4,1119.1L1420.8,1117.3L1422.2,1116.4L1423.6,1116.7L1425.0,1117.7L1426.4,1115.1L1427.8,1116.5L1429.2,1118.8L1430.6,1118.8L1432.0,1114.9L1433.4,1117.1L1434.8,1118.0L1436.2,1117.3L1437.6,1118.9L1439.0,1117.6L1440.4,1114.7L1441.8,1117.2L1443.2,1114.4L1444.6,1116.9L1446.0,1117.7L1447.4,1118.5L1450.0,1115.8L1452.5,1114.3L1455.1,1117.4L1457.7,1117.5L1460.3,1116.9L1462.8,1115.7L1465.4,1116.9L1468.0,1117.3L1470.6,1117.0L1473.1,1116.7L1475.7,1117.4L1478.3,1117.4L1480.9,1117.1L1483.4,1117.9L1486.0,1118.2L1488.6,1118.3L1491.2,1117.7L1493.7,1117.5L1496.3,1118.2L1499.0,1117.6L1501.8,1117.8L1504.5,1117.8L1507.2,1118.0L1509.9,1117.7L1512.6,1117.5L1515.3,1117.7L1518.1,1117.5L1520.8,1117.3L1523.5,1116.8L1526.2,1117.0L1528.9,1116.7L1531.7,1116.5L1534.4,1115.6L1537.1,1115.6L1539.8,1115.3L1542.5,1114.6L1545.2,1114.5L1547.7,1113.4L1550.1,1112.5L1552.6,1111.8L1555.0,1110.3L1557.5,1109.1L1559.9,1107.8L1562.4,1106.1L1564.8,1104.6L1567.3,1102.9L1569.7,1103.0L1572.2,1102.2L1574.6,1102.9L1577.0,1103.0L1579.5,1104.2L1581.9,1105.5L1583.9,1107.3L1585.8,1108.8L1587.8,1111.2L1589.8,1113.0L1591.7,1114.1L1594.2,1115.0L1596.6,1115.7L1599.1,1116.6L1601.5,1117.2L1604.0,1117.8L1606.4,1117.9L1609.0,1118.1L1611.6,1117.5L1614.3,1117.4L1616.9,1117.0L1619.5,1117.2L1622.1,1116.8L1624.7,1117.3L1627.4,1116.1L1630.0,1115.9L1632.6,1115.5L1635.2,1115.9L1637.8,1116.0L1640.5,1115.7L1643.1,1115.1L1645.8,1115.2L1648.5,1116.2L1651.2,1116.0L1654.0,1116.2L1656.7,1115.6L1659.4,1116.6L1662.1,1115.8L1664.8,1116.9L1667.6,1117.2L1670.2,1117.1L1672.8,1117.0L1675.4,1117.2L1678.0,1117.5L1680.7,1117.8L1683.3,1118.2L1685.9,1118.6L1688.5,1118.4L1691.1,1119.3L1693.8,1119.5L1696.4,1120.2L1699.0,1120.9L1701.6,1120.2L1704.2,1120.9L1706.8,1120.2L1709.4,1120.7L1712.0,1120.3L1714.6,1120.1L1717.2,1120.9L1719.8,1120.7L1722.4,1120.6L1725.0,1120.6L1727.6,1121.0L1730.2,1120.3L1732.8,1121.0L1735.4,1121.2L1738.0,1121.2L1740.6,1120.9L1743.2,1121.1L1745.8,1121.2L1748.3,1120.9L1750.7,1121.3L1753.2,1121.5L1755.6,1120.8L1758.1,1120.8L1760.5,1120.9L1763.0,1120.7L1765.4,1120.7L1768.1,1120.9L1770.7,1120.3L1773.4,1120.3L1776.1,1120.6L1778.7,1120.3L1781.4,1120.1L1784.1,1120.2L1786.7,1120.2L1789.4,1120.2L1792.1,1120.0L1794.8,1119.5L1797.3,1119.2L1799.8,1119.7L1802.3,1118.1L1804.8,1117.6L1807.3,1116.9L1809.8,1116.0L1812.4,1115.6L1814.3,1114.4L1816.3,1113.3L1818.2,1111.0L1820.2,1108.9L1822.2,1107.3L1824.1,1105.4L1826.1,1103.8L1828.0,1102.4L1830.0,1100.4L1831.9,1098.9L1833.9,1097.0L1835.8,1095.3L1837.4,1093.9L1839.0,1091.8L1840.5,1089.8L1842.1,1087.6L1843.7,1085.4L1845.2,1083.4L1846.8,1081.3L1848.4,1078.8L1849.9,1076.4L1851.5,1073.9L1852.7,1071.8L1853.9,1069.6L1855.2,1067.2L1856.4,1064.8L1857.6,1062.2L1858.8,1059.6L1860.0,1057.0L1861.3,1054.4L1862.3,1052.1L1863.4,1049.7L1864.4,1047.3L1865.5,1044.8L1866.5,1042.3L1867.6,1039.8L1868.6,1037.2L1869.6,1034.6L1870.6,1031.8L1871.5,1029.0L1872.5,1026.6L1873.5,1024.9L1875.9,1022.3L1878.4,1021.6L1880.4,1022.9L1882.5,1024.7L1884.5,1025.6L1886.9,1025.8L1889.4,1026.3L1890.6,1025.8L1891.8,1023.5L1893.1,1020.7L1894.3,1017.7L1894.8,1016.1L1895.4,1014.3L1895.9,1012.2L1896.5,1009.8L1897.0,1007.3L1897.5,1004.5L1898.1,1001.7L1898.6,998.7L1899.2,995.7L1899.5,993.6L1899.9,991.4L1900.2,989.1L1900.6,986.7L1900.9,984.1L1901.3,981.5L1901.6,978.8L1902.0,976.0L1902.3,973.2L1902.7,970.3L1903.0,967.5L1903.4,964.6L1903.7,961.8L1904.1,959.0L1904.4,956.5L1904.7,954.0L1905.0,951.3L1905.3,948.7L1905.6,946.0L1905.9,943.3L1906.2,940.5L1906.5,937.8L1906.8,935.1L1907.1,932.4L1907.4,929.7L1907.7,927.1L1908.0,924.6L1908.3,922.1L1908.7,919.7L1909.0,917.4L1909.4,914.4L1909.8,911.5L1910.2,908.6L1910.6,905.7L1911.0,902.9L1911.4,900.2L1911.8,897.6L1912.2,895.0L1912.6,892.5L1913.0,890.1L1913.4,887.8L1913.9,885.6L1914.4,882.7L1915.0,879.8L1915.5,877.0L1916.1,874.3L1916.6,871.7L1917.2,869.2L1917.7,866.8L1918.3,864.6L1918.9,862.5L1919.4,860.5L1920.0,858.7L1921.0,855.6L1922.1,852.8L1923.1,850.2L1924.2,847.8L1925.2,845.6L1926.3,843.5L1927.3,841.6L1928.7,839.4L1930.2,836.8L1931.6,834.7L1933.0,832.6L1934.4,831.1L1935.9,829.4L1937.9,827.5L1939.9,825.6L1941.9,824.3L1943.9,823.6L1945.5,824.2L1947.1,825.7L1948.4,827.1L1949.6,828.9L1950.8,831.2L1952.0,833.8L1953.3,836.7L1953.9,838.4L1954.5,840.5L1955.1,842.9L1955.7,845.5L1956.3,848.1L1956.9,850.9L1957.5,853.6L1958.1,856.3L1958.7,858.6L1959.3,861.0L1959.8,863.5L1960.4,865.9L1960.9,868.4L1961.5,870.9L1962.0,873.4L1962.6,875.9L1963.1,878.4L1963.7,880.8L1964.3,883.2L1964.9,885.7L1965.5,888.3L1966.1,890.8L1966.7,893.3L1967.3,895.8L1967.9,898.3L1968.5,900.8L1969.2,903.2L1969.8,905.6L1970.4,907.9L1971.0,910.2L1971.6,912.5L1972.4,915.4L1973.1,918.3L1973.9,921.2L1974.7,924.0L1975.4,926.7L1976.2,929.2L1976.9,931.4L1977.7,933.3L1979.2,936.7L1980.8,939.9L1982.3,941.9L1983.8,943.4L1986.3,942.1L1988.7,939.5L1989.9,937.4L1991.2,934.5L1992.4,931.6L1993.6,930.6L1994.8,931.6L1996.1,934.1L1997.3,937.0L1997.9,938.8L1998.5,941.2L1999.1,944.0L1999.7,946.8L2000.3,949.4L2000.9,951.6L2001.9,954.7L2002.9,957.7L2003.9,960.4L2004.9,962.6L2005.8,964.0L2008.3,965.7L2010.7,966.5L2013.2,966.7L2015.6,966.1L2016.5,967.3L2017.5,969.6L2018.4,972.8L2019.3,976.1L2019.8,978.2L2020.3,980.6L2020.9,983.4L2021.4,986.2L2021.9,988.9L2022.4,991.3L2023.0,993.2L2023.9,995.9L2024.8,998.3L2025.7,1000.3L2026.6,1001.6L2028.5,1004.0L2030.3,1004.9L2032.1,1006.4L2034.0,1008.0L2035.2,1009.7L2036.4,1012.0L2037.6,1014.6L2038.9,1017.4L2040.1,1020.1L2041.1,1022.5L2042.1,1025.1L2043.1,1027.8L2044.2,1030.4L2045.2,1032.8L2046.2,1034.8L2047.7,1037.7L2049.3,1040.5L2050.8,1042.5L2052.3,1043.4L2054.8,1043.2L2057.2,1042.1L2058.4,1040.3L2059.6,1037.0L2060.9,1033.8L2062.1,1032.5L2063.7,1033.8L2065.4,1035.8L2067.0,1038.5L2068.2,1040.4L2069.4,1042.7L2070.7,1045.1L2071.9,1047.4L2073.1,1049.6L2074.6,1051.4L2076.2,1054.0L2077.7,1055.7L2079.2,1058.3L2080.7,1060.6L2082.3,1063.3L2083.8,1065.6L2085.3,1067.9L2087.6,1070.0L2089.9,1071.9L2092.2,1073.2L2094.5,1074.8L2096.8,1075.3L2099.0,1075.2L2101.2,1074.1L2103.4,1074.3L2105.8,1072.7L2108.3,1072.4L2110.7,1071.4L2113.2,1071.2L2115.6,1071.6L2118.1,1071.6L2120.5,1071.0L2123.0,1071.1L2125.4,1071.2L2127.9,1071.4L2130.3,1071.8L2132.8,1071.0L2135.2,1071.6L2137.6,1072.6L2140.1,1072.5L2142.5,1072.8L2145.0,1072.3L2147.4,1071.5L2149.9,1070.2L2151.1,1069.3L2152.3,1067.3L2153.5,1065.0L2154.8,1062.3L2156.0,1059.3L2156.6,1057.5L2157.2,1055.5L2157.8,1053.1L2158.4,1050.6L2159.0,1047.9L2159.7,1045.1L2160.3,1042.4L2160.9,1039.7L2161.4,1037.2L2161.9,1034.4L2162.4,1031.4L2163.0,1028.6L2163.5,1026.0L2164.0,1023.9L2164.5,1022.4L2166.4,1020.0L2168.2,1017.9L2170.0,1017.2L2171.9,1015.4L2173.8,1013.9L2175.8,1012.1L2177.8,1010.9L2179.7,1009.7L2181.7,1008.0L2183.3,1006.6L2184.9,1004.4L2186.6,1002.6L2188.2,1000.6L2189.8,998.0L2191.4,995.6L2192.7,993.7L2193.9,991.5L2195.1,989.2L2196.3,986.7L2197.6,984.2L2198.8,981.5L2200.0,978.8L2201.2,976.1L2202.2,973.9L2203.2,971.7L2204.2,969.5L2205.1,967.3L2206.1,965.0L2207.1,962.5L2208.1,960.0L2209.1,957.4L2210.0,954.6L2211.0,951.6L2211.6,949.7L2212.2,947.7L2212.9,945.7L2213.5,943.5L2214.1,941.3L2214.7,939.0L2215.3,936.6L2215.9,934.0L2216.5,931.3L2217.1,928.5L2217.7,925.5L2218.4,922.3L2218.7,920.3L2219.1,918.2L2219.4,915.8L2219.8,913.4L2220.1,910.8L2220.5,908.1L2220.8,905.3L2221.1,902.5L2221.5,899.6L2221.8,896.7L2222.2,893.9L2222.5,891.0L2222.9,888.3L2223.2,885.6L2223.6,883.0L2223.9,880.4L2224.3,877.7L2224.6,875.1L2225.0,872.5L2225.3,869.8L2225.7,867.2L2226.0,864.5L2226.4,861.9L2226.7,859.3L2227.1,856.7L2227.4,854.1L2227.7,851.5L2228.1,848.9L2228.4,846.1L2228.8,842.9L2229.1,839.7L2229.4,836.9L2229.8,835.0L2230.1,834.3L2230.4,835.0L2230.8,836.9L2231.1,839.6L2231.5,842.8L2231.8,846.0L2232.1,848.9L2232.4,851.4L2232.7,853.9L2233.0,856.5L2233.3,859.3L2233.6,862.0L2233.9,864.8L2234.2,867.6L2234.5,870.3L2234.8,873.0L2235.1,875.7L2235.4,878.3L2235.7,880.7L2236.1,883.7L2236.5,886.7L2236.8,889.7L2237.2,892.7L2237.6,895.6L2238.0,898.4L2238.3,901.2L2238.7,903.7L2239.1,906.1L2239.4,908.2L2239.8,910.1L2240.5,913.5L2241.2,916.8L2241.9,919.9L2242.6,922.4L2243.3,924.3L2244.0,924.7L2245.0,924.0L2245.9,922.2L2246.8,919.5L2247.7,916.2L2248.7,912.5L2249.0,911.0L2249.3,909.2L2249.6,907.0L2250.0,904.7L2250.3,902.1L2250.6,899.3L2251.0,896.3L2251.3,893.3L2251.6,890.2L2251.9,887.0L2252.3,883.8L2252.6,880.7L2252.8,878.5L2253.0,876.3L2253.3,873.9L2253.5,871.4L2253.7,868.9L2253.9,866.3L2254.2,863.7L2254.4,861.0L2254.6,858.3L2254.8,855.6L2255.1,852.8L2255.3,850.1L2255.5,847.3L2255.7,844.6L2256.0,841.9L2256.2,839.2L2256.4,836.6L2256.6,834.0L2256.8,831.5L2257.1,829.0L2257.3,826.2L2257.6,823.3L2257.9,820.4L2258.1,817.5L2258.4,814.6L2258.6,811.8L2258.9,809.0L2259.2,806.2L2259.4,803.6L2259.7,801.1L2260.0,798.6L2260.2,796.4L2260.5,794.3L2260.7,792.4L2261.2,789.2L2261.7,786.1L2262.1,783.2L2262.6,780.5L2263.0,778.0L2263.5,775.9L2263.9,774.1L2264.4,772.8L2266.0,769.3L2267.7,767.0L2269.3,765.6L2271.7,764.8L2274.2,764.8L2276.6,763.6L2278.9,763.4L2281.2,762.2L2283.5,760.5L2285.6,761.9L2287.8,762.2L2289.9,763.5L2292.1,765.6L2293.5,767.2L2294.9,769.2L2296.3,772.0L2297.7,775.2L2298.5,777.7L2299.3,780.7L2300.1,783.8" stroke="#0AAA64" stroke-width="12.5"/>
<path d="M179.0,536L179.0,760.2L182.1,759.8L185.2,759.8L187.8,760.0L190.4,760.2L192.9,760.0L195.5,759.8L198.1,759.6L200.6,759.9L203.2,759.7L205.8,759.8L208.3,760.2L210.9,760.3L213.5,760.1L216.0,759.9L218.6,760.6L221.2,759.9L223.8,760.1L226.3,760.3L228.9,760.1L231.5,760.2L234.0,760.1L236.6,759.6L239.2,760.3L241.7,760.5L244.3,760.5L246.9,760.6L249.4,759.8L252.0,760.6L254.6,760.7L257.1,760.3L259.7,760.8L262.3,760.3L264.8,759.9L267.4,760.3L270.0,759.8L272.6,760.4L275.2,760.1L277.7,760.8L280.3,760.4L282.9,760.4L285.5,760.7L288.1,761.1L290.7,759.9L293.2,761.0L295.8,760.5L298.4,760.8L301.0,760.6L303.6,761.4L306.2,761.6L308.7,761.2L311.3,760.8L313.9,761.4L316.5,761.2L319.1,761.5L321.7,761.5L324.2,761.6L326.8,761.3L329.4,761.6L332.0,761.6L334.7,761.9L337.3,761.8L340.0,761.4L342.7,761.2L345.3,761.0L348.0,760.8L350.7,761.0L353.3,760.5L356.0,760.6L358.7,760.3L361.4,760.0L364.0,759.9L366.6,760.3L369.2,760.0L371.8,758.8L374.4,759.0L377.0,758.7L379.6,758.6L382.2,758.4L384.8,757.7L387.3,758.2L389.9,757.6L392.4,757.8L394.9,757.4L397.4,756.8L399.9,757.3L402.4,757.7L405.1,757.5L407.7,757.9L410.4,758.1L413.0,758.3L415.7,759.1L418.3,759.6L420.9,760.0L423.6,760.1L426.2,760.2L428.9,760.6L431.5,760.8L434.2,761.0L436.9,761.0L439.5,761.2L442.2,760.9L444.9,760.9L447.5,761.3L450.2,761.6L452.9,761.7L455.6,761.1L458.2,761.4L460.8,761.1L463.4,761.4L466.0,761.1L468.6,761.0L471.2,761.3L473.7,760.8L476.3,760.8L478.9,760.1L481.5,760.6L484.1,759.6L486.7,758.9L489.3,759.6L491.9,759.1L494.6,758.2L497.2,757.5L499.8,756.6L502.5,754.7L503.7,753.9L504.9,751.7L506.2,749.7L507.4,746.9L508.6,743.7L509.8,740.3L510.3,738.7L510.9,736.9L511.4,734.8L511.9,732.6L512.4,730.2L513.0,727.7L513.5,725.0L514.0,722.3L514.5,719.4L515.1,716.6L515.6,713.7L516.1,710.8L516.6,707.9L517.2,705.1L517.6,702.8L518.0,700.4L518.5,698.0L518.9,695.5L519.3,693.0L519.7,690.5L520.2,687.9L520.6,685.3L521.0,682.7L521.5,680.1L521.9,677.4L522.3,674.7L522.8,672.0L523.2,669.3L523.6,666.5L524.1,663.8L524.5,661.1L524.9,658.5L525.3,655.9L525.7,653.2L526.0,650.4L526.4,647.5L526.8,644.6L527.2,641.7L527.6,638.8L528.0,635.9L528.4,633.0L528.7,630.2L529.1,627.4L529.5,624.7L529.9,622.1L530.3,619.6L530.7,617.3L531.1,615.1L531.5,613.0L531.8,611.2L532.5,608.0L533.3,604.9L534.0,602.1L534.7,599.5L535.4,597.2L536.1,595.2L536.8,593.5L538.3,590.6L539.8,588.8L541.4,590.6L543.0,592.5L544.6,595.1L546.3,596.9L548.0,598.4L549.7,599.5L551.4,601.3L553.1,602.6L554.9,605.5L555.6,606.8L556.3,608.9L557.1,611.4L557.8,614.2L558.5,617.1L559.3,620.0L559.8,622.1L560.3,624.3L560.8,626.7L561.4,629.2L561.9,631.8L562.4,634.4L562.9,637.1L563.5,639.8L564.0,642.5L564.5,645.2L565.0,647.8L565.5,650.4L566.1,652.8L566.6,655.2L567.2,658.0L567.9,660.7L568.5,663.5L569.1,666.3L569.7,669.0L570.4,671.7L571.0,674.4L571.6,677.0L572.3,679.5L572.9,681.9L573.5,684.2L574.1,686.4L574.8,688.5L575.4,690.4L576.4,693.4L577.5,696.2L578.5,698.8L579.5,701.4L580.5,703.8L581.6,706.0L582.6,708.2L583.6,710.2L584.7,712.1L585.7,713.9L587.1,716.3L588.6,718.8L590.1,720.8L591.5,723.2L593.0,724.8L594.5,725.0L597.1,727.2L599.7,728.0L602.4,728.7L605.0,729.1L607.6,728.7L610.2,727.9L612.9,726.4L615.5,724.4L616.2,723.3L617.0,721.7L617.7,719.7L618.4,717.3L619.2,714.6L619.9,711.6L620.6,708.4L621.4,705.1L621.7,703.4L622.1,701.5L622.4,699.3L622.7,697.0L623.1,694.5L623.4,691.9L623.8,689.2L624.1,686.3L624.5,683.5L624.8,680.5L625.2,677.6L625.5,674.7L625.9,671.8L626.2,668.9L626.5,666.2L626.9,663.6L627.2,661.1L627.6,658.2L628.0,655.2L628.4,652.1L628.8,649.1L629.2,646.0L629.6,643.1L630.0,640.3L630.4,637.8L630.8,635.4L631.2,633.4L631.6,631.7L632.5,628.3L633.4,625.5L634.3,624.7L635.2,625.6L636.1,628.5L637.0,631.7L637.7,633.9L638.4,636.5L639.0,639.3L639.7,642.2L640.3,645.1L641.0,647.9L641.6,650.6L642.3,653.1L642.9,655.2L644.0,658.5L645.1,661.7L646.2,664.1L647.3,665.5L650.3,666.3L653.2,666.7L654.1,668.0L655.0,670.0L655.8,672.7L656.7,675.7L657.6,678.7L658.2,680.7L658.8,683.1L659.4,685.6L660.0,688.2L660.7,691.0L661.3,693.8L661.9,696.5L662.5,699.2L663.1,701.7L663.7,704.1L664.3,706.2L664.9,708.0L666.0,710.9L667.1,713.6L668.2,716.1L669.3,718.4L670.4,720.5L671.5,722.5L672.6,724.4L673.7,725.8L675.7,728.0L677.7,730.1L679.6,731.9L681.6,733.6L683.5,735.1L685.5,735.8L687.9,737.0L690.4,737.9L692.8,738.0L695.3,738.8L697.7,738.9L700.2,739.1L702.8,738.9L705.4,738.3L708.0,738.2L710.7,737.4L713.3,737.0L715.9,736.1L718.5,736.3L721.0,734.8L723.6,733.8L726.2,733.3L728.8,732.7L731.3,732.3L733.9,731.2L736.5,730.6L739.2,730.2L741.9,729.7L744.6,728.7L747.4,728.3L750.1,727.9L752.8,728.1L755.5,727.6L757.9,728.4L760.2,728.9L762.6,730.6L764.9,731.4L767.3,731.6L769.9,731.3L772.6,730.7L775.2,731.1L777.8,730.0L780.5,729.2L782.7,730.6L784.9,731.4L787.1,732.8L789.3,734.2L791.5,735.0L793.7,736.8L795.9,738.6L798.1,740.2L800.5,739.8L802.9,740.6L805.3,741.5L807.7,741.6L810.1,741.0L812.7,741.6L815.3,741.6L818.0,740.8L820.6,740.8L823.3,740.5L825.9,740.2L828.5,738.7L831.2,737.9L833.8,738.0L836.1,736.6L838.4,736.2L840.6,734.9L842.9,734.3L845.2,732.9L847.5,732.1L849.8,730.8L852.1,729.8L854.3,727.9L856.5,726.8L858.7,724.7L860.9,723.5L863.1,720.8L865.3,719.4L867.6,717.4L869.8,715.5L872.0,714.1L874.2,713.6L876.4,713.2L879.0,713.5L881.6,715.2L884.3,715.3L886.9,716.1L889.6,716.0L892.0,715.4L894.4,715.6L896.8,714.7L899.2,713.2L901.6,712.2L904.0,710.8L906.4,709.6L908.8,707.6L911.2,705.0L913.6,704.4L916.0,702.5L918.0,702.4L920.1,700.3L922.2,699.1L924.2,697.1L926.3,695.5L928.3,694.9L930.4,693.6L932.4,691.7L934.5,689.6L936.5,688.1L938.4,687.1L940.2,684.2L942.0,681.9L943.9,680.4L945.7,678.3L947.5,676.9L949.4,674.7L951.2,674.6L953.4,675.8L955.6,676.4L957.8,677.6L960.0,677.8L962.5,678.3L965.0,677.2L967.6,678.4L970.1,678.8L972.6,678.2L975.1,679.1L977.6,679.2L980.1,678.5L982.7,678.4L985.2,679.2L987.7,679.1L990.2,678.6L992.7,680.1L995.2,679.1L997.4,679.8L999.6,680.6L1001.8,681.4L1004.0,682.3L1006.4,682.2L1008.7,680.9L1011.0,679.9L1013.3,679.6L1015.6,676.7L1017.9,674.7L1020.2,673.1L1022.0,672.1L1023.9,669.8L1025.7,668.5L1027.5,668.9L1030.0,667.0L1032.6,666.5L1035.1,666.5L1037.6,666.1L1040.1,666.0L1042.6,665.9L1045.1,664.8L1047.6,665.1L1050.2,665.2L1052.7,663.5L1055.2,664.4L1057.7,664.4L1060.1,664.5L1062.6,664.9L1065.1,665.8L1067.5,665.1L1070.0,668.6L1072.5,667.6L1075.0,670.2L1077.4,670.2L1079.9,669.8L1082.4,670.7L1084.8,671.3L1087.2,673.3L1089.7,674.7L1092.1,674.2L1094.6,676.1L1097.0,676.6L1099.5,675.8L1101.9,676.2L1104.4,678.9L1106.8,677.7L1109.3,679.5L1111.7,679.7L1114.2,678.6L1116.6,678.5L1119.0,678.7L1121.5,680.2L1123.9,679.2L1125.8,679.4L1127.6,680.5L1129.4,683.5L1131.3,685.9L1133.1,688.4L1134.9,690.5L1136.8,692.6L1138.6,693.4L1141.5,693.6L1144.5,693.6L1145.9,697.6L1147.2,694.2L1148.6,695.7L1150.0,695.4L1151.4,694.4L1152.8,695.6L1154.2,696.3L1155.5,697.8L1156.9,697.4L1158.3,699.2L1159.7,697.8L1161.1,697.1L1162.4,699.1L1163.8,699.0L1165.2,698.7L1166.6,698.9L1168.0,699.7L1169.3,700.1L1170.6,701.6L1171.9,702.0L1173.2,702.3L1174.5,704.1L1175.8,702.4L1177.1,704.4L1178.4,705.3L1179.7,703.8L1181.0,705.8L1182.3,705.4L1183.6,705.9L1184.9,707.0L1186.2,709.0L1187.5,707.2L1188.8,707.7L1190.1,710.5L1191.5,709.8L1192.8,711.3L1194.1,712.2L1195.4,712.0L1196.7,712.1L1198.0,713.0L1199.3,713.4L1200.6,714.9L1201.9,714.5L1203.2,714.6L1204.6,713.9L1206.0,714.1L1207.4,715.7L1208.8,716.3L1210.2,715.3L1211.6,715.8L1213.0,715.4L1214.4,715.8L1215.8,714.5L1217.2,717.0L1218.6,718.4L1220.0,719.2L1221.4,720.3L1222.8,717.8L1224.3,717.6L1225.7,719.8L1227.1,720.3L1228.5,719.5L1229.9,719.4L1231.3,721.1L1232.7,721.5L1234.1,721.5L1235.5,720.1L1236.9,719.9L1238.3,721.1L1239.8,718.9L1241.2,720.0L1242.6,719.6L1244.0,718.8L1245.5,719.9L1246.9,721.4L1248.3,721.8L1249.4,719.7L1250.5,720.6L1251.5,718.3L1252.6,717.4L1253.7,718.1L1254.5,717.7L1255.4,717.9L1256.2,721.3L1257.0,720.2L1257.9,721.8L1258.7,723.4L1259.5,724.8L1260.4,726.5L1261.2,724.7L1262.4,724.5L1263.7,729.3L1264.9,730.3L1266.1,728.7L1267.4,730.7L1268.6,730.8L1269.8,733.5L1271.2,731.4L1272.5,732.3L1273.9,733.7L1275.2,734.7L1276.6,732.4L1277.9,733.7L1279.2,737.0L1280.6,737.5L1281.9,737.3L1283.3,737.7L1284.6,738.5L1286.0,739.8L1287.3,740.0L1288.7,738.2L1290.0,740.9L1291.4,739.7L1292.7,739.7L1294.0,738.9L1295.4,741.4L1296.7,742.3L1298.1,743.1L1299.4,743.9L1300.8,744.0L1302.1,743.8L1303.5,743.2L1304.8,743.0L1306.2,744.6L1307.5,741.7L1308.8,743.7L1310.2,744.6L1311.5,743.6L1312.9,744.8L1314.3,742.7L1315.7,742.6L1317.2,745.2L1318.6,745.7L1320.1,744.1L1321.5,742.4L1322.9,744.2L1324.4,744.8L1325.8,744.4L1327.2,744.4L1328.7,743.7L1330.1,743.9L1331.4,745.2L1332.7,744.5L1334.0,740.8L1335.3,742.2L1336.6,743.0L1337.8,744.7L1339.1,744.8L1340.4,746.2L1341.7,749.2L1343.0,747.3L1344.3,745.4L1345.7,746.1L1347.0,746.0L1348.3,748.2L1349.7,747.0L1351.0,749.1L1352.3,749.5L1353.6,749.5L1355.0,751.2L1356.3,751.3L1357.6,751.3L1358.8,749.9L1359.9,750.9L1361.1,744.6L1362.2,745.8L1363.4,747.2L1364.5,746.5L1365.7,745.3L1366.8,742.4L1367.9,749.3L1369.4,746.7L1370.8,742.3L1372.2,744.9L1373.7,743.6L1375.1,747.9L1376.6,744.2L1378.0,744.5L1379.4,743.4L1380.9,747.5L1382.3,746.4L1383.7,745.7L1385.2,745.5L1386.6,747.9L1388.0,745.2L1389.5,744.6L1390.9,744.4L1392.3,745.1L1393.8,744.9L1395.2,745.7L1396.6,742.9L1398.1,747.4L1399.5,744.5L1400.9,742.6L1402.4,743.5L1403.7,745.6L1405.1,743.4L1406.4,744.7L1407.8,745.7L1409.1,743.3L1410.5,743.1L1411.8,740.9L1413.1,742.9L1414.5,741.6L1415.8,739.3L1417.2,741.9L1418.5,740.7L1419.9,741.1L1421.2,741.1L1422.6,740.5L1423.9,742.0L1425.3,741.4L1426.6,741.0L1427.9,740.2L1429.3,739.1L1430.6,737.6L1432.0,739.4L1433.3,736.0L1434.7,737.0L1436.0,737.4L1437.4,737.8L1438.7,737.9L1440.1,736.2L1441.4,736.1L1442.7,735.4L1444.1,735.8L1445.4,732.8L1446.7,733.2L1448.0,734.3L1449.3,732.5L1450.6,730.5L1451.9,731.4L1453.2,732.1L1454.5,732.5L1455.8,730.7L1457.1,730.1L1458.4,729.3L1460.1,727.8L1461.8,727.1L1463.5,724.9L1465.2,723.5L1467.0,721.0L1467.9,719.2L1468.8,717.2L1469.7,714.8L1470.6,712.1L1471.4,709.0L1472.3,705.7L1472.8,703.9L1473.2,702.0L1473.6,699.9L1474.1,697.7L1474.5,695.2L1474.9,692.6L1475.4,689.7L1475.8,686.6L1476.2,683.4L1476.7,679.8L1476.8,678.1L1477.0,676.2L1477.2,674.1L1477.4,671.9L1477.6,669.5L1477.8,667.0L1478.0,664.4L1478.2,661.7L1478.4,658.9L1478.6,656.1L1478.7,653.3L1478.9,650.4L1479.1,647.6L1479.3,644.8L1479.5,642.0L1479.7,639.4L1479.9,636.8L1480.1,634.2L1480.3,631.6L1480.4,629.0L1480.6,626.3L1480.8,623.7L1481.0,621.0L1481.2,618.3L1481.4,615.6L1481.6,613.0L1481.8,610.4L1482.0,607.8L1482.2,605.3L1482.3,602.8L1482.5,600.4L1482.7,598.1L1482.9,595.9L1483.1,593.7L1483.4,590.6L1483.7,587.4L1483.9,584.3L1484.2,581.2L1484.5,578.3L1484.8,575.6L1485.1,573.3L1485.3,571.4L1485.6,570.1L1486.8,566.9L1487.5,568.6L1488.2,572.2L1488.5,573.9L1488.8,576.1L1489.1,578.6L1489.3,581.4L1489.6,584.4L1489.9,587.5L1490.2,590.6L1490.5,593.7L1490.7,596.0L1490.9,598.4L1491.1,600.9L1491.3,603.6L1491.5,606.3L1491.6,609.2L1491.8,612.0L1492.0,614.9L1492.2,617.8L1492.4,620.6L1492.6,623.3L1492.8,626.0L1493.0,628.5L1493.2,630.9L1493.4,633.1L1493.6,635.0L1493.8,636.8L1494.2,640.3L1494.6,643.8L1495.1,647.2L1495.5,650.5L1495.9,653.4L1496.3,655.8L1496.7,657.7L1497.1,659.0L1497.6,659.9L1499.1,658.9L1500.7,656.8L1502.2,654.0L1502.4,653.5L1502.5,652.6L1502.7,651.5L1502.8,650.0L1503.0,648.2L1503.1,646.2L1503.3,644.0L1503.4,641.5L1503.6,638.9L1503.7,636.1L1503.9,633.1L1504.0,630.0L1504.2,626.8L1504.4,623.5L1504.5,620.2L1504.7,616.8L1504.8,613.4L1505.0,610.0L1505.1,606.6L1505.3,603.3L1505.4,600.0L1505.6,596.8L1505.7,593.7L1505.8,591.5L1505.9,589.2L1506.0,586.8L1506.2,584.3L1506.3,581.8L1506.4,579.2L1506.5,576.6L1506.6,574.0L1506.7,571.3L1506.8,568.6L1506.9,565.9L1507.0,563.1L1507.2,560.4L1507.3,557.6L1507.4,554.8L1507.5,552.1L1507.6,549.3L1507.7,546.5L1507.8,543.8L1507.9,541.1L1508.0,538.4L1508.2,535.7L1508.3,533.1L1508.4,530.5L1508.5,528.0L1508.6,525.5L1508.7,523.1L1508.8,520.7L1508.9,518.4L1509.1,515.4L1509.2,512.4L1509.4,509.4L1509.5,506.3L1509.7,503.3L1509.8,500.3L1510.0,497.3L1510.1,494.4L1510.3,491.4L1510.4,488.6L1510.6,485.7L1510.7,483.0L1510.8,480.3L1511.0,477.6L1511.1,475.1L1511.3,472.6L1511.4,470.3L1511.6,468.0L1511.7,465.9L1511.9,463.9L1512.0,462.0L1512.2,460.3L1512.5,456.8L1512.8,453.5L1513.1,450.5L1513.4,447.9L1513.7,445.7L1514.0,444.1L1515.2,440.8L1516.0,442.3L1516.7,445.2L1517.0,446.6L1517.3,448.3L1517.6,450.4L1517.9,452.9L1518.1,455.5L1518.4,458.4L1518.7,461.5L1519.0,464.6L1519.3,467.8L1519.5,471.0L1519.7,472.9L1519.9,474.9L1520.0,477.0L1520.2,479.2L1520.3,481.5L1520.5,483.9L1520.6,486.4L1520.8,488.9L1521.0,491.5L1521.1,494.1L1521.3,496.8L1521.4,499.5L1521.6,502.2L1521.8,505.0L1521.9,507.8L1522.1,510.6L1522.2,513.4L1522.4,516.2L1522.6,519.0L1522.7,521.7L1522.9,524.5L1523.0,527.2L1523.2,529.8L1523.4,532.4L1523.5,535.0L1523.7,537.5L1523.8,539.9L1524.0,542.7L1524.2,545.5L1524.4,548.3L1524.6,551.2L1524.8,554.0L1525.0,556.9L1525.1,559.7L1525.3,562.6L1525.5,565.4L1525.7,568.3L1525.9,571.1L1526.1,573.9L1526.3,576.7L1526.4,579.4L1526.6,582.2L1526.8,584.9L1527.0,587.5L1527.2,590.2L1527.4,592.7L1527.5,595.3L1527.7,597.7L1527.9,600.2L1528.1,602.5L1528.3,604.8L1528.5,607.1L1528.7,609.2L1528.8,611.3L1529.0,613.3L1529.2,615.3L1529.5,618.5L1529.9,621.6L1530.2,624.7L1530.5,627.7L1530.8,630.7L1531.1,633.5L1531.4,636.3L1531.8,639.0L1532.1,641.6L1532.4,644.1L1532.7,646.5L1533.0,648.8L1533.3,651.0L1533.7,653.0L1534.0,654.9L1534.3,656.7L1534.6,658.3L1535.3,661.7L1536.0,664.9L1536.7,667.9L1537.4,670.6L1538.1,672.8L1538.8,674.5L1539.4,675.9L1541.3,677.0L1543.2,677.6L1544.9,676.9L1546.5,674.9L1548.2,671.2L1548.3,670.7L1548.5,669.9L1548.6,668.7L1548.8,667.3L1548.9,665.6L1549.0,663.7L1549.2,661.6L1549.3,659.2L1549.5,656.7L1549.6,654.0L1549.8,651.2L1549.9,648.2L1550.1,645.1L1550.2,641.9L1550.3,638.7L1550.5,635.4L1550.6,632.0L1550.8,628.6L1550.9,625.2L1551.1,621.9L1551.2,618.5L1551.3,615.3L1551.4,613.3L1551.5,611.2L1551.6,609.1L1551.7,606.8L1551.8,604.4L1551.9,602.0L1551.9,599.5L1552.0,597.0L1552.1,594.3L1552.2,591.6L1552.3,588.9L1552.4,586.1L1552.5,583.3L1552.5,580.5L1552.6,577.6L1552.7,574.8L1552.8,571.9L1552.9,569.0L1553.0,566.1L1553.0,563.2L1553.1,560.3L1553.2,557.5L1553.3,554.7L1553.4,551.9L1553.5,549.1L1553.6,546.4L1553.6,543.7L1553.7,541.1L1553.8,538.6L1553.9,536.1L1554.0,533.7L1554.1,531.4L1554.1,529.2L1554.3,526.2L1554.4,523.1L1554.5,519.9L1554.6,516.7L1554.7,513.5L1554.8,510.4L1554.9,507.3L1555.1,504.4L1555.2,501.6L1555.3,499.1L1555.4,496.7L1555.5,494.6L1555.6,492.9L1555.7,491.5L1555.9,490.4L1556.4,486.9L1556.9,484.5L1557.4,483.6L1558.2,484.9L1559.1,488.3L1559.2,489.2L1559.4,490.5L1559.5,492.2L1559.7,494.2L1559.8,496.5L1560.0,499.0L1560.1,501.7L1560.3,504.6L1560.4,507.6L1560.6,510.7L1560.7,513.9L1560.9,517.1L1561.0,520.2L1561.2,523.3L1561.4,526.3L1561.5,529.2L1561.6,531.5L1561.8,534.0L1561.9,536.6L1562.0,539.2L1562.2,542.0L1562.3,544.7L1562.4,547.5L1562.5,550.4L1562.7,553.2L1562.8,556.1L1562.9,559.0L1563.1,561.9L1563.2,564.7L1563.3,567.5L1563.4,570.3L1563.6,573.1L1563.7,575.7L1563.8,578.3L1564.0,580.9L1564.1,583.3L1564.2,585.6L1564.4,587.8L1564.5,589.9L1564.6,591.9L1564.7,593.7L1565.0,597.1L1565.2,600.4L1565.5,603.5L1565.8,606.5L1566.0,609.5L1566.3,612.3L1566.5,615.0L1566.8,617.6L1567.0,620.1L1567.3,622.5L1567.5,624.9L1567.8,627.1L1568.0,629.2L1568.3,631.2L1568.5,633.2L1568.8,635.0L1569.0,636.8L1569.5,640.1L1570.0,643.2L1570.5,646.2L1571.0,649.0L1571.5,651.7L1572.0,654.3L1572.5,656.7L1573.0,659.0L1573.5,661.2L1574.0,663.3L1574.5,665.3L1575.0,667.2L1575.5,669.1L1576.3,672.0L1577.2,674.8L1578.0,677.3L1578.9,679.7L1579.7,682.0L1580.5,684.2L1581.4,686.3L1582.2,688.5L1583.0,690.6L1584.1,693.5L1585.2,696.5L1586.3,699.3L1587.3,701.8L1588.4,703.5L1590.2,705.7L1592.1,707.1L1593.4,705.6L1594.8,702.8L1596.1,700.0L1597.5,698.7L1598.9,699.9L1600.3,702.3L1601.7,705.1L1603.1,706.9L1605.8,708.0L1608.4,708.9L1610.8,708.2L1613.1,706.0L1615.5,703.5L1616.0,702.6L1616.5,701.2L1616.9,699.3L1617.4,697.0L1617.9,694.3L1618.4,691.2L1618.8,687.7L1619.3,683.9L1619.8,679.8L1619.9,678.6L1620.1,677.2L1620.2,675.6L1620.3,673.8L1620.4,671.8L1620.6,669.7L1620.7,667.5L1620.8,665.1L1621.0,662.7L1621.1,660.1L1621.2,657.4L1621.4,654.6L1621.5,651.8L1621.6,648.8L1621.7,645.9L1621.9,642.9L1622.0,639.8L1622.1,636.7L1622.3,633.6L1622.4,630.5L1622.5,627.4L1622.6,624.3L1622.8,621.3L1622.9,618.2L1623.0,615.3L1623.1,613.0L1623.2,610.7L1623.3,608.3L1623.4,605.8L1623.5,603.3L1623.6,600.8L1623.7,598.2L1623.8,595.6L1623.9,592.9L1624.0,590.2L1624.1,587.5L1624.2,584.7L1624.3,582.0L1624.4,579.2L1624.5,576.4L1624.6,573.6L1624.7,570.8L1624.8,568.0L1624.9,565.2L1625.0,562.5L1625.1,559.7L1625.2,556.9L1625.3,554.2L1625.4,551.5L1625.5,548.9L1625.6,546.2L1625.7,543.6L1625.8,541.1L1625.9,538.6L1626.0,536.2L1626.1,533.8L1626.2,531.4L1626.3,529.2L1626.4,526.2L1626.5,523.3L1626.6,520.3L1626.8,517.4L1626.9,514.5L1627.0,511.6L1627.2,508.8L1627.3,505.9L1627.4,503.1L1627.6,500.4L1627.7,497.6L1627.8,494.9L1627.9,492.3L1628.1,489.6L1628.2,487.1L1628.3,484.5L1628.5,482.1L1628.6,479.7L1628.7,477.3L1628.8,475.0L1629.0,472.8L1629.1,470.6L1629.2,468.5L1629.4,466.5L1629.5,464.6L1629.7,461.5L1629.9,458.4L1630.1,455.3L1630.3,452.3L1630.5,449.5L1630.7,446.9L1630.9,444.5L1631.1,442.5L1631.3,440.9L1631.6,439.8L1632.7,436.5L1633.6,438.2L1634.4,442.0L1634.6,443.1L1634.8,444.7L1635.0,446.7L1635.2,448.9L1635.3,451.5L1635.5,454.2L1635.7,457.1L1635.9,460.1L1636.1,463.2L1636.3,466.3L1636.5,469.4L1636.7,472.5L1636.9,475.3L1637.0,477.7L1637.2,480.1L1637.3,482.6L1637.5,485.1L1637.6,487.7L1637.8,490.4L1637.9,493.1L1638.1,495.8L1638.2,498.5L1638.4,501.3L1638.5,504.0L1638.7,506.7L1638.9,509.4L1639.0,512.1L1639.2,514.7L1639.3,517.3L1639.5,519.8L1639.6,522.3L1639.8,524.7L1639.9,527.0L1640.1,529.2L1640.3,532.2L1640.5,535.2L1640.7,538.2L1640.9,541.2L1641.2,544.2L1641.4,547.1L1641.6,549.9L1641.8,552.6L1642.0,555.2L1642.2,557.8L1642.4,560.1L1642.7,562.3L1642.9,564.4L1643.1,566.2L1643.3,567.9L1643.8,571.5L1644.4,574.6L1644.9,577.4L1645.5,579.9L1646.0,582.2L1646.5,584.5L1647.1,586.9L1647.6,589.4L1648.2,592.0L1648.7,594.6L1649.2,597.0L1649.8,599.5L1650.3,602.1L1650.8,604.8L1651.4,607.7L1651.9,611.0L1652.2,613.0L1652.5,615.4L1652.8,617.9L1653.2,620.6L1653.5,623.5L1653.8,626.4L1654.1,629.4L1654.4,632.3L1654.7,635.3L1655.0,638.1L1655.3,640.8L1655.6,643.3L1655.9,645.5L1656.2,647.6L1656.8,650.9L1657.4,654.2L1657.9,657.3L1658.5,660.2L1659.1,662.9L1659.6,665.4L1660.2,667.6L1660.8,669.6L1661.3,671.2L1662.7,674.8L1664.0,677.7L1665.4,679.1L1666.9,677.8L1668.4,676.2L1669.9,673.0L1671.4,669.1L1671.7,668.0L1672.0,666.5L1672.3,664.7L1672.6,662.5L1672.9,660.0L1673.2,657.2L1673.5,654.2L1673.8,651.0L1674.1,647.7L1674.4,644.1L1674.7,640.5L1675.0,636.8L1675.2,635.1L1675.3,633.3L1675.4,631.4L1675.6,629.3L1675.7,627.2L1675.8,625.0L1676.0,622.6L1676.1,620.2L1676.2,617.7L1676.4,615.2L1676.5,612.5L1676.6,609.8L1676.8,607.0L1676.9,604.2L1677.0,601.3L1677.2,598.3L1677.3,595.3L1677.4,592.3L1677.6,589.2L1677.7,586.1L1677.8,583.0L1677.9,580.9L1678.0,578.8L1678.1,576.6L1678.2,574.4L1678.3,572.1L1678.4,569.7L1678.4,567.3L1678.5,564.9L1678.6,562.3L1678.7,559.8L1678.8,557.2L1678.9,554.6L1678.9,551.9L1679.0,549.2L1679.1,546.5L1679.2,543.8L1679.3,541.0L1679.4,538.2L1679.5,535.4L1679.5,532.6L1679.6,529.8L1679.7,527.0L1679.8,524.2L1679.9,521.4L1680.0,518.6L1680.0,515.8L1680.1,513.0L1680.2,510.3L1680.3,507.5L1680.4,504.8L1680.5,502.1L1680.6,499.5L1680.6,496.9L1680.7,494.2L1680.8,491.3L1680.9,488.3L1681.0,485.2L1681.1,482.1L1681.2,478.9L1681.2,475.7L1681.3,472.5L1681.4,469.4L1681.5,466.3L1681.6,463.4L1681.7,460.6L1681.7,457.9L1681.8,455.5L1681.9,453.3L1682.0,451.4L1682.1,449.7L1682.2,448.4L1682.3,447.4L1682.7,443.2L1683.2,440.3L1683.7,439.4L1684.4,441.0L1685.1,445.2L1685.2,446.2L1685.3,447.5L1685.4,449.2L1685.6,451.1L1685.7,453.4L1685.8,455.9L1685.9,458.5L1686.0,461.4L1686.1,464.4L1686.2,467.5L1686.3,470.6L1686.5,473.8L1686.6,477.0L1686.7,480.2L1686.8,483.3L1686.9,486.4L1687.0,489.3L1687.1,492.0L1687.2,494.5L1687.4,496.9L1687.5,499.8L1687.7,502.8L1687.8,505.7L1688.0,508.5L1688.1,511.3L1688.3,514.1L1688.4,516.8L1688.6,519.5L1688.7,522.1L1688.9,524.7L1689.1,527.3L1689.2,529.8L1689.4,532.3L1689.5,534.7L1689.7,537.1L1689.8,539.5L1690.0,541.8L1690.1,544.1L1690.3,546.3L1690.4,548.5L1690.6,550.7L1690.8,553.6L1691.0,556.5L1691.2,559.2L1691.5,561.8L1691.7,564.4L1691.9,566.9L1692.1,569.4L1692.3,571.8L1692.5,574.2L1692.7,576.7L1693.0,579.1L1693.2,581.6L1693.4,584.2L1693.6,586.8L1693.8,589.4L1694.0,591.9L1694.2,594.4L1694.4,597.0L1694.6,599.6L1694.8,602.3L1695.0,605.0L1695.1,607.8L1695.3,610.5L1695.5,613.2L1695.7,615.8L1695.9,618.5L1696.1,621.0L1696.3,623.5L1696.5,625.9L1696.7,628.2L1696.9,630.4L1697.0,632.5L1697.4,635.7L1697.7,638.9L1698.0,642.0L1698.3,645.1L1698.6,648.2L1698.9,651.1L1699.2,653.9L1699.5,656.6L1699.8,659.1L1700.1,661.5L1700.4,663.7L1700.7,665.7L1701.0,667.5L1701.4,669.1L1702.1,672.5L1702.9,675.7L1703.7,678.4L1704.4,680.9L1705.2,683.0L1706.0,684.8L1706.7,686.4L1708.6,688.9L1710.5,691.5L1712.4,693.2L1714.3,694.7L1716.4,697.0L1718.6,699.2L1720.7,700.8L1722.9,702.2L1725.0,704.2L1727.2,705.5L1729.6,707.5L1732.1,708.5L1734.6,709.6L1737.0,710.7L1739.5,711.9L1741.9,712.7L1744.4,713.9L1747.0,715.7L1749.6,717.3L1752.2,717.7L1754.7,719.5L1757.3,719.7L1759.9,720.3L1762.5,720.6L1765.1,719.8L1767.6,719.8L1770.2,720.2L1772.8,719.9L1775.4,719.1L1777.9,718.8L1780.1,717.9L1782.2,716.7L1784.4,715.4L1786.6,714.0L1788.7,712.6L1790.9,710.8L1793.0,709.6L1795.2,708.2L1797.3,707.0L1799.5,704.7L1801.6,702.2L1803.2,701.1L1804.7,699.1L1806.2,696.7L1807.8,694.4L1809.3,692.0L1810.8,689.1L1812.4,686.3L1813.3,684.4L1814.3,682.2L1815.3,679.9L1816.2,677.5L1817.2,674.9L1818.1,672.3L1819.1,669.8L1820.0,667.2L1821.0,664.8L1822.0,662.1L1823.0,659.2L1824.1,656.5L1825.1,654.0L1826.1,652.1L1827.9,649.5L1829.2,651.2L1830.5,655.1L1831.0,657.1L1831.6,659.6L1832.1,662.4L1832.7,665.4L1833.2,668.4L1833.7,671.2L1834.3,674.1L1834.9,677.1L1835.4,680.2L1836.0,683.3L1836.6,686.1L1837.2,688.7L1837.7,691.0L1838.3,692.8L1839.5,695.9L1840.6,698.6L1841.8,700.5L1843.0,701.7L1846.0,701.2L1849.0,701.3L1851.5,700.8L1854.0,699.6L1856.5,698.2L1858.4,697.1L1860.3,695.6L1862.2,694.4L1864.0,692.5L1865.3,691.1L1866.6,688.8L1867.8,686.2L1869.1,683.6L1870.3,681.4L1871.6,680.4L1874.1,677.9L1876.6,676.2L1879.1,675.2L1881.3,674.2L1883.4,673.8L1885.6,672.4L1886.3,671.6L1887.0,670.0L1887.7,668.1L1888.4,665.5L1889.2,662.3L1889.9,658.3L1890.0,657.3L1890.1,656.0L1890.3,654.3L1890.4,652.3L1890.5,650.0L1890.6,647.6L1890.8,644.9L1890.9,642.0L1891.0,639.0L1891.1,636.0L1891.3,632.9L1891.4,629.8L1891.5,626.7L1891.7,623.6L1891.8,620.7L1891.9,617.9L1892.0,615.3L1892.2,612.7L1892.3,610.2L1892.4,607.7L1892.5,605.3L1892.7,602.8L1892.8,600.3L1892.9,597.8L1893.0,595.4L1893.2,592.9L1893.3,590.4L1893.4,587.9L1893.6,585.3L1893.7,582.8L1893.8,580.2L1893.9,577.6L1894.1,574.9L1894.2,572.2L1894.3,569.7L1894.4,566.8L1894.5,563.8L1894.6,560.8L1894.7,557.7L1894.9,554.7L1895.0,551.9L1895.1,549.3L1895.2,547.1L1895.3,545.4L1895.4,544.2L1895.9,540.9L1896.4,539.8L1896.8,540.4L1897.3,542.9L1897.8,546.4L1897.9,547.7L1898.0,549.8L1898.1,552.4L1898.3,555.4L1898.4,558.6L1898.5,561.9L1898.6,565.1L1898.7,567.9L1898.8,570.4L1899.0,572.2L1899.3,576.2L1899.6,580.0L1900.0,583.3L1900.3,586.3L1900.6,588.9L1901.0,591.0L1901.3,592.6L1901.7,593.7L1902.9,596.5L1904.2,598.5L1905.4,599.0L1906.9,598.5L1908.4,596.8L1909.9,594.2L1911.4,591.6L1912.2,589.3L1913.0,586.1L1913.8,582.9L1914.6,581.0L1916.8,578.1L1918.9,576.2L1922.2,574.7L1922.4,573.6L1922.6,571.9L1922.7,569.5L1922.9,566.6L1923.1,563.3L1923.3,559.9L1923.5,556.5L1923.7,553.4L1923.9,550.7L1924.1,547.6L1924.4,544.4L1924.6,541.3L1924.8,538.2L1925.0,535.5L1925.3,533.1L1925.5,531.3L1926.0,528.3L1926.5,525.8L1926.9,524.8L1928.0,526.3L1929.1,529.2L1929.6,530.8L1930.1,533.0L1930.7,535.5L1931.2,538.2L1931.7,541.0L1932.2,543.7L1932.8,546.4L1933.3,549.0L1933.8,551.7L1934.4,554.4L1934.9,557.1L1935.5,559.8L1936.0,562.6L1936.5,565.2L1937.1,567.9L1937.6,570.5L1938.1,573.2L1938.7,575.8L1939.2,578.4L1939.8,580.9L1940.3,583.5L1940.8,586.1L1941.4,588.6L1941.9,591.2L1942.4,593.7L1943.0,596.3L1943.5,599.0L1944.1,601.7L1944.6,604.4L1945.1,607.1L1945.7,609.8L1946.2,612.4L1946.8,615.0L1947.3,617.4L1947.8,619.7L1948.4,621.9L1948.9,623.9L1949.8,626.8L1950.6,629.6L1951.5,632.2L1952.4,634.7L1953.2,637.1L1954.1,639.3L1954.9,641.5L1955.8,643.6L1956.7,645.6L1957.5,647.6L1958.6,650.1L1959.8,652.7L1960.9,655.2L1962.0,657.4L1963.1,659.2L1964.2,660.6L1966.6,662.7L1968.9,663.1L1970.7,662.3L1972.4,659.7L1974.2,656.2L1974.9,653.8L1975.6,650.3L1976.3,647.1L1977.1,645.3L1979.8,644.8L1982.4,643.2L1983.3,642.0L1984.1,639.7L1984.9,636.4L1985.7,632.5L1985.9,631.2L1986.1,629.5L1986.3,627.6L1986.5,625.4L1986.7,623.0L1987.0,620.3L1987.2,617.5L1987.4,614.6L1987.6,611.6L1987.8,608.6L1988.0,605.5L1988.3,602.4L1988.5,599.4L1988.7,596.5L1988.9,593.7L1989.1,591.3L1989.3,588.7L1989.5,586.1L1989.7,583.4L1989.9,580.6L1990.0,577.8L1990.2,575.0L1990.4,572.3L1990.6,569.5L1990.8,566.8L1991.0,564.2L1991.2,561.6L1991.4,559.1L1991.6,556.8L1991.8,554.6L1991.9,552.6L1992.1,550.7L1992.5,547.3L1992.9,543.9L1993.2,540.8L1993.6,537.8L1994.0,535.2L1994.4,532.8L1994.7,530.8L1995.1,529.2L1996.0,526.0L1996.9,524.7L1997.3,525.5L1997.7,528.3L1998.1,532.0L1998.5,535.9L1998.7,537.9L1998.9,540.3L1999.1,543.0L1999.3,545.9L1999.5,549.0L1999.7,552.1L1999.8,555.3L2000.0,558.4L2000.2,561.3L2000.4,564.0L2000.6,566.4L2000.8,568.5L2001.0,570.1L2001.5,573.6L2002.1,576.6L2002.6,579.2L2003.1,581.5L2003.7,583.3L2004.2,584.8L2005.7,587.8L2007.3,589.4L2008.8,591.5L2010.3,594.6L2010.8,596.0L2011.2,597.9L2011.7,600.2L2012.1,602.8L2012.6,605.6L2013.1,608.5L2013.5,611.4L2014.0,614.1L2014.4,616.5L2014.7,619.0L2015.1,621.7L2015.5,624.5L2015.9,627.3L2016.3,630.2L2016.7,633.2L2017.0,636.1L2017.4,639.0L2017.8,641.8L2018.2,644.5L2018.6,647.2L2018.9,649.6L2019.3,651.9L2019.7,653.9L2020.1,655.7L2020.9,659.0L2021.7,662.1L2022.4,665.0L2023.2,667.7L2024.0,670.2L2024.8,672.6L2025.5,674.9L2026.3,677.0L2027.1,678.9L2027.9,680.8L2028.7,682.6L2029.9,685.4L2031.1,688.0L2032.3,690.5L2033.5,692.9L2034.8,695.1L2036.0,697.0L2037.2,698.3L2038.4,700.2L2040.5,701.9L2042.5,703.4L2044.6,704.5L2046.6,705.4L2048.7,705.5L2051.4,705.8L2054.0,704.5L2054.5,704.1L2054.9,702.8L2055.4,700.8L2055.9,698.3L2056.3,695.2L2056.8,691.6L2057.2,687.5L2057.4,686.3L2057.5,684.7L2057.6,682.7L2057.7,680.4L2057.8,677.8L2057.9,675.0L2058.0,672.0L2058.1,668.9L2058.2,665.7L2058.3,662.5L2058.4,659.4L2058.6,656.3L2058.7,653.3L2058.8,650.5L2058.9,647.9L2059.0,645.5L2059.1,643.5L2059.3,640.1L2059.5,636.5L2059.7,633.1L2059.9,630.0L2060.1,627.4L2060.2,625.8L2060.4,624.5L2060.7,626.0L2061.0,628.2L2061.2,631.3L2061.5,635.0L2061.8,638.6L2061.9,640.5L2062.0,642.8L2062.2,645.4L2062.3,648.2L2062.4,651.2L2062.6,654.2L2062.7,657.4L2062.8,660.5L2063.0,663.5L2063.1,666.4L2063.2,669.1L2063.4,671.5L2063.5,673.6L2063.6,675.3L2064.0,678.9L2064.3,682.3L2064.6,685.6L2064.9,688.5L2065.3,691.1L2065.6,693.4L2065.9,695.2L2066.2,696.5L2066.6,697.2L2068.8,700.0L2071.0,701.6L2073.2,701.7L2074.2,702.3L2075.2,700.8L2076.2,698.8L2077.2,696.0L2078.2,692.3L2079.3,687.5L2079.3,687.1L2079.4,686.3L2079.5,685.4L2079.5,684.3L2079.6,682.9L2079.7,681.4L2079.7,679.7L2079.8,677.8L2079.9,675.8L2079.9,673.6L2080.0,671.2L2080.1,668.7L2080.1,666.1L2080.2,663.4L2080.3,660.6L2080.3,657.7L2080.4,654.7L2080.5,651.6L2080.6,648.5L2080.6,645.3L2080.7,642.0L2080.8,638.7L2080.8,635.4L2080.9,632.1L2081.0,628.8L2081.0,625.5L2081.1,622.2L2081.2,618.9L2081.2,615.6L2081.3,612.4L2081.4,609.2L2081.4,606.2L2081.5,603.1L2081.6,600.2L2081.6,597.3L2081.7,594.6L2081.8,592.1L2081.8,589.5L2081.9,586.9L2082.0,584.2L2082.0,581.5L2082.1,578.8L2082.1,576.1L2082.2,573.3L2082.3,570.5L2082.3,567.7L2082.4,564.8L2082.5,562.0L2082.5,559.2L2082.6,556.3L2082.6,553.5L2082.7,550.7L2082.8,547.9L2082.8,545.1L2082.9,542.3L2083.0,539.6L2083.0,536.9L2083.1,534.3L2083.1,531.7L2083.2,529.1L2083.3,526.6L2083.3,524.2L2083.4,521.8L2083.5,519.4L2083.5,517.2L2083.6,515.0L2083.6,512.9L2083.7,510.9L2083.8,509.0L2083.9,505.7L2084.0,502.2L2084.1,498.8L2084.2,495.3L2084.3,491.8L2084.4,488.4L2084.5,485.2L2084.6,482.1L2084.7,479.3L2084.8,476.8L2085.0,474.6L2085.1,472.8L2085.2,471.5L2085.3,470.6L2085.4,470.7L2085.5,470.8L2085.7,471.9L2085.9,473.8L2086.0,476.2L2086.2,479.1L2086.4,482.3L2086.5,485.8L2086.7,489.4L2086.8,493.1L2087.0,496.7L2087.1,498.5L2087.1,500.3L2087.2,502.3L2087.3,504.5L2087.4,506.8L2087.4,509.1L2087.5,511.6L2087.6,514.2L2087.7,516.9L2087.7,519.6L2087.8,522.4L2087.9,525.3L2088.0,528.2L2088.0,531.1L2088.1,534.1L2088.2,537.1L2088.3,540.1L2088.3,543.0L2088.4,546.0L2088.5,548.9L2088.6,551.8L2088.6,554.6L2088.7,557.4L2088.8,560.1L2088.8,562.8L2088.9,565.3L2089.0,567.8L2089.1,570.1L2089.2,573.1L2089.3,576.1L2089.4,579.2L2089.5,582.2L2089.5,585.3L2089.6,588.4L2089.7,591.5L2089.8,594.6L2089.9,597.6L2090.0,600.7L2090.1,603.7L2090.2,606.7L2090.3,609.7L2090.4,612.7L2090.5,615.6L2090.6,618.5L2090.7,621.3L2090.8,624.1L2090.9,626.8L2091.0,629.4L2091.1,632.0L2091.2,634.5L2091.3,636.9L2091.4,639.3L2091.5,641.5L2091.6,643.7L2091.7,645.7L2091.8,647.7L2091.9,649.5L2092.0,651.3L2092.1,652.9L2092.2,654.4L2092.2,655.7L2092.6,659.7L2092.9,663.5L2093.2,667.2L2093.5,670.6L2093.8,673.8L2094.1,676.8L2094.4,679.7L2094.7,682.4L2095.0,684.9L2095.3,687.2L2095.6,689.3L2095.9,691.3L2096.2,693.0L2096.5,694.6L2096.8,696.1L2097.1,697.3L2098.2,701.0L2099.2,704.2L2100.2,706.9L2101.2,709.1L2102.2,710.6L2103.3,712.0L2105.7,714.0L2108.1,715.6L2110.6,716.2L2113.0,716.8L2115.5,717.3L2117.9,717.6L2120.4,718.0L2122.8,718.0L2125.9,717.8L2128.9,716.6L2130.3,715.0L2131.7,712.3L2133.1,710.9L2134.6,712.0L2136.0,714.8L2137.5,716.7L2139.8,718.4L2142.0,719.6L2144.3,720.7L2146.5,720.0L2148.7,720.0L2150.9,720.1L2153.1,719.2L2154.6,718.3L2156.1,715.7L2157.5,712.7L2159.0,709.7L2160.5,706.9L2161.9,704.8L2163.4,703.1L2164.9,701.4L2166.3,699.3L2167.8,697.1L2169.3,696.1L2170.7,693.9L2172.2,692.8L2173.7,690.5L2175.1,687.5L2175.6,686.3L2176.1,684.8L2176.5,682.9L2177.0,680.7L2177.4,678.1L2177.9,675.1L2178.3,671.8L2178.8,668.0L2178.9,666.7L2179.1,665.2L2179.2,663.5L2179.3,661.6L2179.4,659.4L2179.6,657.1L2179.7,654.7L2179.8,652.1L2180.0,649.4L2180.1,646.6L2180.2,643.6L2180.3,640.7L2180.5,637.6L2180.6,634.5L2180.7,631.4L2180.9,628.3L2181.0,625.2L2181.1,622.1L2181.2,619.0L2181.3,616.8L2181.4,614.5L2181.5,612.1L2181.6,609.6L2181.7,606.9L2181.8,604.3L2181.9,601.5L2182.0,598.7L2182.1,595.9L2182.2,593.0L2182.2,590.1L2182.3,587.3L2182.4,584.4L2182.5,581.6L2182.6,578.8L2182.7,576.1L2182.8,573.5L2182.9,570.9L2183.0,568.4L2183.1,566.0L2183.2,563.8L2183.2,561.7L2183.3,559.7L2183.4,557.9L2183.6,554.5L2183.8,551.0L2184.0,547.4L2184.1,544.1L2184.3,540.9L2184.5,538.1L2184.7,535.7L2184.8,533.8L2185.0,532.6L2185.2,532.2L2185.5,533.1L2185.8,535.4L2186.1,538.6L2186.5,542.2L2186.8,545.7L2187.0,547.8L2187.2,550.4L2187.4,553.3L2187.6,556.4L2187.7,559.7L2187.9,563.0L2188.1,566.3L2188.3,569.6L2188.5,572.6L2188.7,575.4L2188.9,577.9L2189.1,579.9L2189.3,581.4L2189.5,582.4L2190.6,585.6L2191.8,587.7L2193.0,589.1L2193.8,587.8L2194.5,585.9L2195.3,583.1L2196.0,579.8L2196.8,576.4L2197.6,573.0L2198.3,570.1L2199.1,567.4L2199.8,564.3L2200.6,561.5L2201.3,559.2L2202.0,557.8L2204.5,556.3L2206.9,555.5L2208.6,556.2L2210.2,558.1L2211.8,560.4L2212.7,562.3L2213.7,565.0L2214.6,567.9L2215.5,570.1L2216.7,572.7L2217.9,573.6L2218.9,573.1L2219.8,571.6L2220.7,568.9L2221.6,565.2L2221.7,564.6L2221.8,563.8L2221.9,562.6L2222.0,561.2L2222.1,559.6L2222.2,557.7L2222.3,555.6L2222.4,553.3L2222.5,550.8L2222.5,548.2L2222.6,545.4L2222.7,542.5L2222.8,539.4L2222.9,536.3L2223.0,533.1L2223.1,529.8L2223.2,526.5L2223.3,523.1L2223.4,519.7L2223.5,516.3L2223.6,512.9L2223.7,509.6L2223.8,506.3L2223.9,503.0L2224.0,499.8L2224.1,496.7L2224.1,494.5L2224.2,492.2L2224.3,489.8L2224.3,487.4L2224.4,484.9L2224.5,482.5L2224.5,480.0L2224.6,477.4L2224.7,474.8L2224.8,472.2L2224.8,469.6L2224.9,467.0L2225.0,464.3L2225.0,461.6L2225.1,458.9L2225.2,456.2L2225.2,453.5L2225.3,450.7L2225.4,448.0L2225.4,445.3L2225.5,442.5L2225.6,439.8L2225.7,437.0L2225.7,434.3L2225.8,431.5L2225.9,428.8L2225.9,426.1L2226.0,423.4L2226.1,420.7L2226.1,418.0L2226.2,415.0L2226.3,412.0L2226.3,408.9L2226.4,405.8L2226.5,402.6L2226.5,399.5L2226.6,396.5L2226.7,393.6L2226.7,390.9L2226.8,388.3L2226.9,385.9L2226.9,383.8L2227.0,382.0L2227.1,380.5L2227.1,379.3L2227.4,375.6L2227.7,372.4L2227.9,369.9L2228.2,368.2L2228.5,367.5L2228.9,368.4L2229.3,370.4L2229.7,373.2L2230.1,376.4L2230.5,379.3L2230.8,381.5L2231.1,383.8L2231.4,386.2L2231.7,388.8L2232.0,391.4L2232.3,394.1L2232.6,396.9L2232.9,399.7L2233.2,402.6L2233.5,405.5L2233.8,408.3L2234.1,411.1L2234.4,413.6L2234.6,416.0L2234.9,418.5L2235.1,421.0L2235.4,423.6L2235.6,426.1L2235.9,428.7L2236.2,431.3L2236.4,433.9L2236.7,436.5L2236.9,439.2L2237.2,441.8L2237.5,444.4L2237.7,447.1L2238.0,449.7L2238.2,452.3L2238.5,454.9L2238.7,457.5L2239.0,460.1L2239.3,462.7L2239.5,465.5L2239.8,468.4L2240.0,471.3L2240.3,474.3L2240.6,477.3L2240.8,480.4L2241.1,483.4L2241.3,486.3L2241.6,489.3L2241.9,492.1L2242.1,494.8L2242.4,497.4L2242.6,499.8L2242.9,502.1L2243.2,504.2L2243.4,506.0L2243.7,507.6L2243.9,509.0L2244.8,513.0L2245.7,516.7L2246.6,520.0L2247.5,522.6L2248.4,524.4L2249.3,524.5L2250.6,524.3L2251.9,522.2L2253.2,519.7L2254.6,516.3L2254.9,514.9L2255.3,512.9L2255.7,510.4L2256.1,507.5L2256.4,504.4L2256.8,501.4L2257.2,498.4L2257.5,495.7L2257.9,493.5L2258.3,491.9L2259.2,488.7L2260.1,486.0L2261.0,484.3L2262.0,483.3L2262.7,484.5L2263.4,487.4L2264.2,491.0L2264.9,494.5L2265.6,496.7L2267.3,499.7L2268.9,501.9L2270.5,503.0L2270.9,502.3L2271.2,500.9L2271.6,498.6L2271.9,495.7L2272.3,492.3L2272.6,488.5L2273.0,484.5L2273.1,483.2L2273.2,481.6L2273.3,479.8L2273.4,477.7L2273.5,475.4L2273.6,473.0L2273.7,470.3L2273.8,467.6L2273.9,464.7L2274.0,461.8L2274.1,458.7L2274.2,455.6L2274.3,452.5L2274.4,449.4L2274.5,446.4L2274.6,443.3L2274.7,440.4L2274.8,437.5L2274.9,434.7L2275.0,432.1L2275.1,429.6L2275.2,427.3L2275.3,425.2L2275.4,423.4L2275.6,419.8L2275.8,416.3L2276.0,412.7L2276.2,409.3L2276.4,406.0L2276.6,402.8L2276.8,400.0L2277.0,397.4L2277.2,395.3L2277.5,393.5L2277.7,392.3L2277.9,391.5L2279.7,388.7L2281.5,388.3L2282.4,389.0L2283.4,391.5L2284.3,394.3L2285.2,396.5L2286.8,398.8L2288.5,400.9L2290.1,402.4L2291.0,400.9L2291.9,398.5L2292.8,395.2L2293.8,391.6L2294.2,389.5L2294.6,387.0L2295.1,384.2L2295.5,381.5L2295.9,379.3L2296.8,375.4L2297.7,373.7L2298.5,374.6L2299.3,377.8L2300.1,381.8L2300.5,383.7L2300.8,386.1L2301.2,388.7L2301.5,391.4L2301.8,394.0" stroke="#DE9D06" stroke-width="12.5"/>
<path d="M179.0,107L179.0,535.1L182.1,535.7L185.2,536.0L187.8,535.9L190.4,536.1L192.9,535.9L195.5,535.9L198.1,536.0L200.6,535.9L203.2,535.8L205.8,536.0L208.3,536.2L210.9,536.1L213.5,535.7L216.0,535.6L218.6,535.7L221.2,536.2L223.8,536.6L226.3,536.6L228.9,536.8L231.5,537.0L234.0,536.6L236.6,536.3L239.2,537.0L241.7,537.0L244.3,537.4L246.9,536.7L249.4,537.2L252.0,537.3L254.6,536.8L257.1,536.9L259.7,537.3L262.3,537.5L264.8,536.9L267.4,536.9L270.0,536.9L272.6,537.4L275.2,537.2L277.7,536.9L280.3,537.7L282.9,537.1L285.5,537.1L288.1,537.3L290.7,537.2L293.2,537.2L295.8,537.4L298.4,537.8L301.0,537.5L303.6,537.6L306.2,537.9L308.7,537.9L311.3,538.0L313.9,537.6L316.5,537.7L319.1,537.7L321.7,538.4L324.2,537.7L326.8,538.2L329.4,537.6L332.0,537.9L334.5,538.1L337.1,537.6L339.6,537.5L342.2,537.6L344.7,536.9L347.3,537.2L349.8,536.8L352.3,536.2L354.9,535.5L357.4,535.2L360.0,535.4L362.5,535.2L365.1,534.6L367.6,535.0L370.2,534.7L372.8,534.9L375.4,534.8L378.1,535.3L380.7,534.1L383.4,534.7L386.0,535.2L388.6,535.0L391.3,534.6L393.9,534.7L396.6,535.1L399.2,535.0L401.8,534.9L404.4,535.3L407.0,535.3L409.6,535.4L412.2,536.4L414.8,536.2L417.4,536.7L420.1,536.5L422.7,536.4L425.3,537.1L427.9,537.7L430.5,537.8L433.1,537.8L435.7,538.1L438.3,538.5L440.9,538.1L443.5,538.4L446.1,538.8L448.7,538.5L451.3,537.9L453.9,538.6L456.5,537.8L459.1,537.4L461.7,537.7L464.2,537.9L466.8,537.5L469.4,537.5L472.0,537.5L474.6,537.1L477.2,536.5L479.7,536.1L482.3,536.4L484.9,536.3L487.4,536.3L490.0,535.5L492.6,535.7L495.1,534.2L497.2,534.5L499.3,533.0L501.3,532.6L503.4,530.6L505.4,528.7L506.6,527.8L507.9,525.6L509.1,523.3L510.3,520.5L511.5,517.5L512.8,514.3L513.3,512.6L513.9,510.8L514.5,508.7L515.1,506.6L515.7,504.3L516.3,501.9L516.9,499.3L517.5,496.7L518.0,493.9L518.6,491.1L519.2,488.2L519.8,485.3L520.4,482.2L521.0,479.2L521.6,476.1L521.9,474.1L522.3,472.0L522.7,469.8L523.1,467.5L523.5,465.2L523.9,462.9L524.2,460.5L524.6,458.0L525.0,455.5L525.4,452.9L525.8,450.4L526.2,447.7L526.5,445.1L526.9,442.4L527.3,439.7L527.7,436.9L528.1,434.2L528.5,431.4L528.8,428.6L529.2,425.8L529.6,423.0L530.0,420.2L530.4,417.4L530.7,414.9L531.0,412.3L531.3,409.5L531.7,406.5L532.0,403.5L532.3,400.5L532.7,397.4L533.0,394.3L533.3,391.2L533.6,388.3L534.0,385.4L534.3,382.6L534.6,380.0L534.9,377.6L535.3,375.4L535.6,373.5L535.9,371.8L536.2,370.5L537.3,366.7L538.3,363.4L539.4,361.0L540.4,360.9L542.2,360.3L544.0,362.3L545.7,364.1L547.5,365.9L549.4,367.9L551.2,368.1L553.0,370.3L554.9,371.9L555.7,373.5L556.6,375.9L557.5,378.8L558.4,381.9L559.3,385.1L559.8,387.2L560.4,389.4L560.9,391.8L561.5,394.3L562.0,396.9L562.6,399.6L563.1,402.3L563.7,405.1L564.2,407.9L564.8,410.7L565.3,413.5L565.9,416.2L566.4,418.9L567.0,421.4L567.5,423.9L568.1,426.2L568.7,429.0L569.4,431.7L570.1,434.4L570.8,437.1L571.5,439.7L572.1,442.2L572.8,444.7L573.5,447.2L574.2,449.6L574.8,451.9L575.5,454.2L576.2,456.4L576.9,458.5L577.8,461.2L578.6,463.9L579.5,466.4L580.4,469.0L581.3,471.4L582.2,473.7L583.0,476.0L583.9,478.1L584.8,480.1L585.7,482.0L586.9,484.6L588.2,487.1L589.5,489.5L590.7,491.9L592.0,494.0L593.2,495.3L594.5,496.8L596.6,498.6L598.7,500.0L600.8,501.6L602.9,502.0L605.0,502.2L607.2,502.9L609.5,500.8L611.8,499.8L614.0,498.3L614.8,497.4L615.7,495.7L616.5,493.9L617.3,491.6L618.1,489.0L618.9,486.1L619.7,483.0L620.6,479.6L621.4,476.1L621.7,474.6L622.0,472.9L622.3,470.9L622.6,468.8L623.0,466.5L623.3,464.0L623.6,461.4L623.9,458.7L624.2,455.9L624.6,453.0L624.9,450.0L625.2,447.1L625.5,444.1L625.8,441.1L626.2,438.1L626.5,435.2L626.8,432.3L627.1,429.5L627.4,426.8L627.7,424.2L628.1,421.8L628.4,419.5L628.7,417.4L629.2,414.2L629.7,410.8L630.2,407.3L630.7,404.0L631.2,400.9L631.6,398.2L632.1,396.1L632.6,394.6L633.1,393.9L635.8,393.3L636.5,394.3L637.2,396.8L637.8,399.9L638.5,402.7L639.2,405.4L639.8,408.4L640.5,411.6L641.1,414.8L641.8,417.9L642.4,420.8L643.1,423.2L643.7,425.1L644.4,426.1L646.8,428.1L649.3,429.3L651.7,430.4L653.2,432.5L654.7,434.9L656.1,438.0L656.8,439.6L657.4,441.5L658.0,443.8L658.6,446.3L659.3,449.0L659.9,451.9L660.5,454.8L661.2,457.8L661.8,460.7L662.4,463.6L663.0,466.3L663.7,468.9L664.3,471.2L664.9,473.2L665.9,476.0L666.9,478.8L667.9,481.4L668.8,483.9L669.8,486.3L670.8,488.5L671.8,490.5L672.8,492.4L673.7,493.5L675.7,496.0L677.7,498.8L679.6,501.5L681.6,502.8L683.5,504.4L685.5,505.7L687.9,506.7L690.4,507.4L692.8,508.1L695.3,508.6L697.7,509.2L700.2,509.8L702.8,510.7L705.4,511.3L708.0,511.7L710.7,512.3L713.3,513.1L715.9,513.9L718.5,514.1L721.0,512.5L723.6,512.4L726.2,510.7L728.8,510.3L731.3,508.1L733.9,507.2L736.5,506.7L738.8,505.9L741.2,504.8L743.6,504.0L746.0,502.7L748.4,502.3L750.8,501.1L753.2,501.3L755.5,500.6L757.9,501.4L760.2,502.0L762.6,503.2L764.9,504.1L767.3,504.9L769.7,504.5L772.2,503.6L774.6,502.6L777.1,501.8L779.5,501.7L782.0,501.0L784.3,501.3L786.6,502.1L788.9,504.5L791.2,506.1L793.5,508.0L795.8,509.9L798.1,510.5L800.5,511.5L802.9,512.2L805.3,512.4L807.7,513.4L810.1,514.1L812.7,513.9L815.3,512.5L818.0,512.8L820.6,512.1L823.3,511.3L825.9,511.9L828.5,510.3L831.2,510.0L833.8,509.1L836.1,508.9L838.4,508.0L840.6,507.0L842.9,506.2L845.2,504.2L847.5,503.9L849.8,503.4L852.1,501.9L854.3,499.8L856.5,499.9L858.7,497.0L860.9,495.6L863.1,493.5L865.3,492.0L867.6,489.3L869.8,488.4L872.0,487.3L874.2,486.1L876.4,486.0L879.0,485.6L881.6,486.5L884.3,487.2L886.9,488.6L889.6,489.1L892.0,488.7L894.4,488.0L896.8,487.1L899.2,485.6L901.6,484.2L904.0,483.3L906.4,481.6L908.8,479.8L911.2,478.5L913.6,476.7L916.0,475.4L917.9,473.9L919.9,472.7L921.9,471.0L923.8,468.7L925.8,467.2L927.7,464.8L929.7,462.1L931.6,460.2L933.6,458.0L935.6,455.4L937.5,454.3L939.5,451.4L941.4,449.9L943.4,449.1L945.3,447.0L947.3,446.8L949.3,446.1L951.2,445.6L953.4,446.8L955.6,448.2L957.8,450.6L960.0,449.7L962.5,450.6L965.0,450.1L967.6,450.1L970.1,449.8L972.6,450.3L975.1,449.7L977.6,450.7L980.1,450.0L982.7,450.1L985.2,449.8L987.7,449.0L990.2,450.5L992.7,450.3L995.2,449.8L997.4,450.3L999.6,451.1L1001.8,452.5L1004.0,453.3L1006.4,452.3L1008.7,451.7L1011.0,450.6L1013.3,450.1L1015.6,447.5L1017.9,446.0L1020.2,444.9L1022.0,442.9L1023.9,440.1L1025.7,437.5L1027.5,437.4L1030.0,436.3L1032.6,436.0L1035.1,434.1L1037.6,433.8L1040.1,434.4L1042.6,433.2L1045.1,433.1L1047.6,433.4L1050.2,433.4L1052.7,432.8L1055.2,433.5L1057.7,432.5L1060.1,433.2L1062.6,432.8L1065.1,433.3L1067.5,435.0L1070.0,437.0L1072.5,435.8L1075.0,436.0L1077.4,439.1L1079.9,438.1L1082.4,440.5L1084.8,441.2L1087.2,441.4L1089.7,442.5L1092.1,443.4L1094.6,444.5L1097.0,446.2L1099.5,448.8L1101.9,447.6L1104.4,447.0L1106.8,448.8L1109.3,448.8L1111.7,449.3L1114.2,449.9L1116.6,449.1L1119.0,446.5L1121.5,448.0L1123.9,448.5L1126.5,448.6L1129.1,449.7L1131.6,448.4L1134.2,448.8L1136.8,449.6L1139.3,449.4L1141.9,451.1L1144.5,451.4L1145.7,455.9L1147.0,454.7L1148.2,452.5L1149.4,452.5L1150.7,454.2L1151.9,451.8L1153.1,452.2L1154.4,455.6L1155.6,457.4L1156.8,458.4L1158.1,457.6L1159.3,458.1L1160.6,458.5L1161.8,460.9L1163.0,460.3L1164.3,460.7L1165.5,462.7L1166.7,463.6L1168.0,463.8L1169.2,464.4L1170.4,465.9L1171.6,466.6L1172.8,465.7L1174.0,466.3L1175.3,467.9L1176.5,468.3L1177.7,468.9L1178.9,469.7L1180.1,470.0L1181.3,473.3L1182.5,472.9L1183.8,475.0L1185.0,474.3L1186.2,476.6L1187.4,475.5L1188.6,475.5L1189.8,477.2L1191.0,477.0L1192.3,478.0L1193.5,479.9L1194.7,479.8L1195.9,479.5L1197.1,480.5L1198.3,481.5L1199.5,480.8L1200.8,483.1L1202.0,482.2L1203.2,482.3L1204.7,484.2L1206.1,481.4L1207.6,479.8L1209.1,482.1L1210.5,482.8L1212.0,486.7L1213.5,482.0L1214.9,484.5L1216.2,484.4L1217.5,484.3L1218.8,485.5L1220.1,484.2L1221.4,487.5L1222.6,486.5L1223.9,489.3L1225.2,490.6L1226.5,488.7L1227.8,490.5L1229.1,491.0L1230.3,493.6L1231.6,492.2L1232.9,491.5L1234.2,492.8L1235.5,493.9L1236.9,493.6L1238.3,489.3L1239.8,492.5L1241.2,492.5L1242.6,492.8L1244.0,492.5L1245.5,492.1L1246.9,492.1L1248.3,488.6L1249.7,490.0L1251.2,487.8L1252.6,485.6L1254.0,488.6L1255.5,487.4L1256.9,491.6L1258.1,491.0L1259.3,486.3L1260.4,487.6L1261.6,484.3L1262.8,489.2L1264.0,492.5L1265.1,494.5L1266.3,493.2L1267.5,494.2L1268.7,494.8L1269.8,496.2L1271.1,496.1L1272.4,497.7L1273.6,499.9L1274.9,498.5L1276.2,500.5L1277.4,503.6L1278.7,500.9L1280.0,502.4L1281.2,502.6L1282.5,502.8L1283.8,505.4L1285.0,505.9L1286.3,505.8L1287.6,506.5L1288.8,507.3L1290.1,508.7L1291.4,508.3L1292.7,507.9L1294.0,507.8L1295.4,509.3L1296.7,508.8L1298.1,512.8L1299.4,511.4L1300.8,512.4L1302.1,511.6L1303.5,510.0L1304.8,514.7L1306.2,512.7L1307.5,511.9L1308.8,512.1L1310.2,513.0L1311.5,512.3L1312.9,514.5L1314.3,515.7L1315.7,515.6L1317.2,514.8L1318.6,517.0L1320.1,515.7L1321.5,515.3L1322.9,516.0L1324.4,517.1L1325.8,514.5L1327.2,518.1L1328.7,515.5L1330.1,515.3L1331.5,516.4L1333.0,516.3L1334.4,510.9L1335.7,512.9L1337.1,514.6L1338.4,518.7L1339.7,518.4L1341.0,519.1L1342.4,516.7L1343.7,517.5L1345.0,518.5L1346.4,520.4L1347.7,519.6L1349.0,517.4L1350.4,520.2L1351.7,519.2L1353.0,518.6L1354.3,518.7L1355.7,515.1L1357.0,518.9L1358.3,518.7L1359.7,519.9L1361.0,513.1L1362.3,511.5L1363.6,515.0L1364.4,515.2L1365.2,513.9L1365.9,512.2L1366.7,510.5L1367.5,508.9L1368.3,509.6L1369.0,511.6L1369.8,508.4L1370.6,507.6L1371.4,510.1L1372.2,511.6L1373.1,513.2L1373.9,515.4L1374.7,516.9L1375.5,514.9L1376.8,518.0L1378.1,516.8L1379.4,515.7L1380.7,513.9L1382.1,514.8L1383.4,514.3L1384.7,514.1L1386.0,514.3L1387.3,512.5L1388.7,513.0L1390.1,512.3L1391.4,511.1L1392.8,513.9L1394.2,513.1L1395.5,514.2L1396.9,512.3L1398.3,513.5L1399.6,510.6L1401.0,509.6L1402.4,513.4L1403.7,511.3L1405.1,510.8L1406.4,512.0L1407.8,511.2L1409.1,510.0L1410.5,511.0L1411.8,509.1L1413.1,510.7L1414.5,509.9L1415.8,509.8L1417.2,507.8L1418.5,510.1L1419.9,510.0L1421.2,511.0L1422.6,509.9L1423.9,510.9L1425.3,506.7L1426.6,509.6L1427.9,506.8L1429.3,506.2L1430.6,506.7L1432.0,505.9L1433.3,503.8L1434.7,504.7L1436.0,502.5L1437.4,502.7L1438.7,506.1L1440.1,503.5L1441.4,504.4L1442.7,503.8L1444.1,504.2L1445.4,502.2L1446.7,504.1L1448.0,503.8L1449.3,499.9L1450.6,502.1L1451.9,500.7L1453.2,500.7L1454.5,500.9L1455.8,499.3L1457.1,500.9L1458.4,499.5L1460.5,499.2L1462.7,496.5L1464.8,494.9L1467.0,492.2L1468.0,490.6L1469.1,488.5L1470.2,486.0L1471.3,482.9L1472.3,479.4L1472.7,477.8L1473.1,476.1L1473.5,474.1L1473.9,471.9L1474.3,469.5L1474.7,466.9L1475.1,464.1L1475.5,461.2L1475.9,458.0L1476.3,454.8L1476.7,451.4L1476.8,449.6L1477.0,447.7L1477.2,445.6L1477.4,443.4L1477.6,441.1L1477.8,438.7L1478.0,436.2L1478.2,433.6L1478.4,430.9L1478.6,428.2L1478.7,425.4L1478.9,422.6L1479.1,419.7L1479.3,416.9L1479.5,414.0L1479.7,411.1L1479.9,408.3L1480.0,406.0L1480.2,403.5L1480.3,400.9L1480.5,398.2L1480.6,395.4L1480.8,392.6L1481.0,389.7L1481.1,386.8L1481.3,383.8L1481.4,380.9L1481.6,378.0L1481.7,375.2L1481.9,372.4L1482.0,369.7L1482.2,367.1L1482.3,364.6L1482.5,362.2L1482.6,360.0L1482.8,358.0L1483.0,356.1L1483.1,354.5L1483.5,350.8L1483.9,347.1L1484.2,343.6L1484.6,340.4L1485.0,337.6L1485.3,335.4L1485.7,333.8L1486.1,333.3L1487.9,332.3L1488.2,332.6L1488.6,334.6L1488.9,337.4L1489.3,340.6L1489.6,343.7L1489.8,345.5L1490.0,347.5L1490.2,349.7L1490.4,352.1L1490.6,354.5L1490.9,357.1L1491.1,359.8L1491.3,362.5L1491.5,365.3L1491.7,368.2L1491.9,371.0L1492.1,373.8L1492.3,376.6L1492.5,379.3L1492.7,381.9L1492.9,384.4L1493.1,386.8L1493.3,389.7L1493.5,392.7L1493.8,395.9L1494.0,399.3L1494.3,402.6L1494.5,406.0L1494.7,409.3L1495.0,412.6L1495.2,415.7L1495.5,418.6L1495.7,421.3L1495.9,423.7L1496.2,425.8L1496.4,427.5L1496.6,428.8L1496.9,429.6L1497.1,430.1L1499.8,430.0L1502.4,427.6L1502.6,427.4L1502.8,426.7L1503.0,425.8L1503.2,424.6L1503.3,423.1L1503.5,421.3L1503.7,419.3L1503.9,417.1L1504.1,414.7L1504.2,412.1L1504.4,409.3L1504.6,406.3L1504.8,403.3L1505.0,400.1L1505.2,396.8L1505.3,393.4L1505.5,390.0L1505.7,386.4L1505.9,382.9L1506.1,379.4L1506.2,375.8L1506.4,372.2L1506.6,368.7L1506.8,365.3L1506.9,363.4L1507.0,361.3L1507.1,359.2L1507.2,357.0L1507.3,354.7L1507.4,352.3L1507.5,349.8L1507.6,347.3L1507.7,344.7L1507.8,342.0L1507.9,339.3L1508.0,336.5L1508.1,333.7L1508.2,330.9L1508.3,328.0L1508.4,325.1L1508.5,322.2L1508.5,319.3L1508.6,316.4L1508.7,313.5L1508.8,310.6L1508.9,307.7L1509.0,304.9L1509.1,302.0L1509.2,299.3L1509.3,296.5L1509.4,293.8L1509.5,291.2L1509.6,288.7L1509.7,286.2L1509.8,283.7L1509.9,281.4L1510.0,279.2L1510.2,276.1L1510.3,273.0L1510.4,269.9L1510.6,266.7L1510.7,263.6L1510.8,260.4L1511.0,257.3L1511.1,254.2L1511.2,251.2L1511.4,248.2L1511.5,245.3L1511.6,242.4L1511.8,239.7L1511.9,237.1L1512.1,234.5L1512.2,232.1L1512.3,229.9L1512.5,227.8L1512.6,225.8L1512.7,224.0L1512.9,222.4L1513.0,221.0L1513.4,217.6L1513.7,214.4L1514.1,211.7L1514.4,209.9L1514.8,209.0L1516.1,210.9L1517.4,214.6L1517.8,216.1L1518.2,218.0L1518.6,220.3L1519.0,222.9L1519.4,225.9L1519.8,229.1L1520.2,232.5L1520.6,236.1L1520.8,237.7L1520.9,239.4L1521.1,241.2L1521.3,243.2L1521.4,245.2L1521.6,247.4L1521.8,249.8L1521.9,252.2L1522.1,254.6L1522.2,257.2L1522.4,259.9L1522.6,262.6L1522.7,265.4L1522.9,268.2L1523.1,271.1L1523.2,274.0L1523.4,276.9L1523.5,279.9L1523.7,282.9L1523.9,285.9L1524.0,288.9L1524.2,291.9L1524.4,294.9L1524.5,297.8L1524.7,300.7L1524.8,303.6L1525.0,306.5L1525.2,309.3L1525.3,312.0L1525.5,314.7L1525.7,317.3L1525.8,319.8L1526.0,322.2L1526.2,325.1L1526.4,328.0L1526.6,330.9L1526.8,333.8L1527.0,336.7L1527.2,339.6L1527.4,342.5L1527.6,345.5L1527.8,348.4L1527.9,351.3L1528.1,354.2L1528.3,357.1L1528.5,359.9L1528.7,362.8L1528.9,365.6L1529.1,368.4L1529.3,371.1L1529.5,373.9L1529.7,376.5L1529.9,379.2L1530.1,381.8L1530.3,384.3L1530.5,386.8L1530.7,389.3L1530.9,391.7L1531.1,394.0L1531.3,396.3L1531.5,398.5L1531.7,400.6L1531.9,402.6L1532.1,404.6L1532.3,406.5L1532.4,408.3L1532.8,411.7L1533.2,415.2L1533.6,418.7L1533.9,422.1L1534.3,425.5L1534.7,428.8L1535.1,431.9L1535.5,434.9L1535.8,437.6L1536.2,440.1L1536.6,442.2L1537.0,444.1L1537.3,445.5L1537.7,446.5L1538.1,447.3L1540.4,449.1L1542.8,449.4L1544.6,448.7L1546.5,447.1L1548.3,444.6L1548.5,444.5L1548.7,443.7L1548.8,442.6L1549.0,441.2L1549.2,439.5L1549.3,437.6L1549.5,435.4L1549.7,433.0L1549.8,430.4L1550.0,427.6L1550.2,424.7L1550.3,421.6L1550.5,418.4L1550.7,415.0L1550.8,411.6L1551.0,408.1L1551.2,404.6L1551.3,401.0L1551.5,397.4L1551.7,393.8L1551.8,390.3L1552.0,386.8L1552.1,384.9L1552.2,382.9L1552.3,380.9L1552.3,378.7L1552.4,376.5L1552.5,374.1L1552.6,371.7L1552.7,369.3L1552.8,366.7L1552.9,364.1L1553.0,361.5L1553.0,358.8L1553.1,356.0L1553.2,353.3L1553.3,350.4L1553.4,347.6L1553.5,344.7L1553.6,341.8L1553.7,338.9L1553.7,336.0L1553.8,333.1L1553.9,330.2L1554.0,327.3L1554.1,324.4L1554.2,321.5L1554.3,318.6L1554.3,315.8L1554.4,313.0L1554.5,310.2L1554.6,307.5L1554.7,304.8L1554.8,302.1L1554.9,299.6L1555.0,297.0L1555.0,294.6L1555.1,292.2L1555.2,289.9L1555.3,287.0L1555.4,284.0L1555.5,280.9L1555.7,277.8L1555.8,274.6L1555.9,271.4L1556.0,268.3L1556.1,265.3L1556.2,262.3L1556.3,259.5L1556.4,256.9L1556.5,254.5L1556.6,252.4L1556.7,250.5L1556.9,248.9L1557.0,247.7L1557.1,246.9L1557.7,243.8L1558.3,242.6L1559.8,245.8L1559.9,246.6L1560.1,247.9L1560.2,249.8L1560.3,252.1L1560.5,254.7L1560.6,257.5L1560.7,260.6L1560.9,263.8L1561.0,267.1L1561.1,270.3L1561.2,273.4L1561.4,276.4L1561.5,279.2L1561.6,281.7L1561.8,284.3L1561.9,287.0L1562.0,289.7L1562.2,292.4L1562.3,295.2L1562.4,297.9L1562.5,300.7L1562.7,303.5L1562.8,306.2L1562.9,309.0L1563.1,311.8L1563.2,314.5L1563.3,317.2L1563.4,319.9L1563.6,322.5L1563.7,325.1L1563.8,327.7L1564.0,330.2L1564.1,332.6L1564.2,335.0L1564.4,337.3L1564.5,339.5L1564.6,341.7L1564.7,343.7L1564.9,346.9L1565.1,350.0L1565.4,353.1L1565.6,356.2L1565.8,359.2L1566.0,362.2L1566.2,365.1L1566.4,367.9L1566.6,370.7L1566.8,373.4L1567.0,376.0L1567.2,378.6L1567.4,381.1L1567.6,383.5L1567.8,385.8L1568.0,388.0L1568.2,390.1L1568.4,392.1L1568.6,394.0L1568.8,395.9L1569.0,397.6L1569.5,401.2L1570.0,404.6L1570.4,407.8L1570.9,410.9L1571.4,413.8L1571.8,416.6L1572.3,419.2L1572.7,421.7L1573.2,424.1L1573.7,426.3L1574.1,428.4L1574.6,430.4L1575.0,432.3L1575.5,434.1L1576.3,437.2L1577.2,439.8L1578.0,442.2L1578.9,444.4L1579.7,446.6L1580.5,448.7L1581.4,450.8L1582.2,453.1L1583.0,455.7L1583.7,458.0L1584.4,460.5L1585.1,463.2L1585.7,466.0L1586.4,468.6L1587.1,471.1L1587.7,473.3L1588.4,475.0L1589.9,478.5L1591.3,481.4L1592.7,482.5L1594.2,481.3L1595.6,478.7L1597.0,477.6L1598.8,478.8L1600.6,481.0L1602.4,482.4L1604.8,482.9L1607.1,482.8L1609.5,483.0L1611.5,482.5L1613.5,480.6L1615.5,477.3L1615.9,476.2L1616.4,474.8L1616.8,473.1L1617.2,470.9L1617.6,468.4L1618.1,465.6L1618.5,462.5L1618.9,459.0L1619.4,455.3L1619.8,451.4L1619.9,450.0L1620.1,448.5L1620.2,446.8L1620.3,445.0L1620.4,443.0L1620.6,440.8L1620.7,438.5L1620.8,436.1L1621.0,433.5L1621.1,430.9L1621.2,428.2L1621.4,425.4L1621.5,422.5L1621.6,419.5L1621.7,416.6L1621.9,413.6L1622.0,410.5L1622.1,407.5L1622.3,404.4L1622.4,401.4L1622.5,398.4L1622.6,395.4L1622.8,392.5L1622.9,389.6L1623.0,386.8L1623.1,384.4L1623.3,381.9L1623.4,379.5L1623.5,377.0L1623.6,374.5L1623.7,372.0L1623.8,369.5L1623.9,367.0L1624.0,364.4L1624.2,361.9L1624.3,359.3L1624.4,356.7L1624.5,354.1L1624.6,351.5L1624.7,348.9L1624.8,346.2L1624.9,343.6L1625.0,340.9L1625.2,338.3L1625.3,335.6L1625.4,332.9L1625.5,330.3L1625.6,327.6L1625.7,324.9L1625.8,322.2L1625.9,319.7L1626.0,317.1L1626.1,314.5L1626.2,311.8L1626.3,309.1L1626.4,306.4L1626.6,303.6L1626.7,300.8L1626.8,298.0L1626.9,295.2L1627.0,292.4L1627.1,289.6L1627.2,286.8L1627.3,284.1L1627.4,281.4L1627.5,278.7L1627.6,276.1L1627.7,273.5L1627.8,271.0L1627.9,268.6L1628.0,266.2L1628.1,263.9L1628.2,261.7L1628.3,259.6L1628.4,257.6L1628.6,254.4L1628.8,251.3L1628.9,248.2L1629.1,245.2L1629.3,242.3L1629.4,239.4L1629.6,236.7L1629.8,234.0L1630.0,231.5L1630.1,229.0L1630.3,226.7L1630.5,224.6L1630.7,222.5L1630.8,220.6L1631.0,218.9L1631.3,215.5L1631.7,212.2L1632.0,209.2L1632.4,206.7L1632.7,204.8L1633.1,204.0L1634.2,202.8L1634.8,203.9L1635.3,206.7L1635.8,210.3L1636.0,211.8L1636.1,213.8L1636.3,216.1L1636.5,218.8L1636.6,221.6L1636.8,224.6L1637.0,227.6L1637.2,230.6L1637.3,233.5L1637.5,236.1L1637.7,238.7L1637.9,241.4L1638.0,244.0L1638.2,246.7L1638.4,249.4L1638.6,252.1L1638.7,254.8L1638.9,257.4L1639.1,260.0L1639.3,262.6L1639.4,265.2L1639.6,267.7L1639.8,270.1L1640.0,272.5L1640.2,274.8L1640.3,277.0L1640.5,279.2L1640.8,282.2L1641.0,285.3L1641.3,288.2L1641.6,291.1L1641.8,293.9L1642.1,296.6L1642.4,299.2L1642.6,301.8L1642.9,304.3L1643.2,306.7L1643.4,309.1L1643.7,311.4L1644.0,313.6L1644.3,316.6L1644.7,319.5L1645.1,322.3L1645.4,325.0L1645.8,327.6L1646.2,330.2L1646.5,332.6L1646.9,335.0L1647.2,337.2L1647.6,339.4L1648.2,342.4L1648.7,344.9L1649.2,347.3L1649.8,349.6L1650.3,351.9L1650.8,354.5L1651.4,357.5L1651.9,361.0L1652.2,362.8L1652.4,364.9L1652.6,367.3L1652.8,369.9L1653.1,372.7L1653.3,375.6L1653.5,378.6L1653.8,381.6L1654.0,384.6L1654.2,387.5L1654.5,390.3L1654.7,393.0L1654.9,395.4L1655.1,397.6L1655.5,400.5L1655.8,403.3L1656.2,405.9L1656.5,408.4L1656.9,410.8L1657.2,413.1L1657.6,415.4L1657.9,417.6L1658.3,419.8L1658.8,422.9L1659.2,426.2L1659.7,429.5L1660.1,432.7L1660.6,435.7L1661.1,438.2L1661.5,440.1L1662.0,441.4L1664.0,444.5L1666.0,445.7L1667.4,444.8L1668.7,443.4L1670.0,440.7L1671.3,437.1L1671.6,436.2L1671.8,434.9L1672.0,433.3L1672.2,431.4L1672.4,429.2L1672.6,426.7L1672.9,424.0L1673.1,421.1L1673.3,418.0L1673.5,414.8L1673.7,411.6L1674.0,408.3L1674.2,404.9L1674.4,401.6L1674.6,398.3L1674.7,396.4L1674.9,394.4L1675.0,392.3L1675.1,390.2L1675.3,388.0L1675.4,385.7L1675.5,383.4L1675.6,381.1L1675.8,378.7L1675.9,376.2L1676.0,373.7L1676.2,371.2L1676.3,368.6L1676.4,365.9L1676.6,363.2L1676.7,360.4L1676.8,357.6L1676.9,354.8L1677.1,351.9L1677.2,349.0L1677.3,346.0L1677.5,343.0L1677.6,340.0L1677.7,336.9L1677.8,333.7L1677.9,331.6L1678.0,329.4L1678.1,327.1L1678.2,324.7L1678.3,322.3L1678.4,319.7L1678.4,317.2L1678.5,314.5L1678.6,311.8L1678.7,309.1L1678.8,306.3L1678.9,303.5L1678.9,300.6L1679.0,297.8L1679.1,294.9L1679.2,292.0L1679.3,289.1L1679.4,286.2L1679.5,283.3L1679.5,280.5L1679.6,277.7L1679.7,274.8L1679.8,272.1L1679.9,269.3L1680.0,266.7L1680.0,264.0L1680.1,261.5L1680.2,259.0L1680.3,256.5L1680.4,254.2L1680.5,251.9L1680.6,249.7L1680.6,247.6L1680.8,244.5L1680.9,241.3L1681.0,238.1L1681.2,234.9L1681.3,231.7L1681.4,228.5L1681.5,225.4L1681.7,222.5L1681.8,219.6L1681.9,217.0L1682.0,214.6L1682.2,212.4L1682.3,210.5L1682.4,208.9L1682.6,207.6L1682.7,206.7L1683.4,203.4L1684.1,202.2L1684.9,203.4L1685.6,206.7L1685.8,207.8L1685.9,209.3L1686.1,211.3L1686.2,213.7L1686.4,216.3L1686.5,219.2L1686.6,222.3L1686.8,225.4L1686.9,228.4L1687.1,231.4L1687.2,234.3L1687.4,236.9L1687.5,239.5L1687.7,242.1L1687.8,244.7L1688.0,247.3L1688.1,249.9L1688.3,252.5L1688.4,255.0L1688.6,257.6L1688.7,260.2L1688.9,262.7L1689.1,265.3L1689.2,267.8L1689.4,270.3L1689.5,272.9L1689.7,275.4L1689.8,277.9L1690.0,280.5L1690.1,283.0L1690.3,285.6L1690.4,288.1L1690.6,290.7L1690.7,293.3L1690.9,295.9L1691.1,298.6L1691.2,301.3L1691.4,304.1L1691.5,306.8L1691.7,309.6L1691.8,312.4L1692.0,315.1L1692.1,317.9L1692.3,320.6L1692.4,323.3L1692.6,325.9L1692.7,328.5L1692.9,331.0L1693.0,333.5L1693.2,335.9L1693.4,338.2L1693.5,340.4L1693.7,342.5L1693.8,344.5L1694.1,347.7L1694.3,350.7L1694.6,353.7L1694.8,356.6L1695.1,359.4L1695.3,362.1L1695.6,364.8L1695.8,367.3L1696.1,369.8L1696.4,372.3L1696.6,374.6L1696.9,376.9L1697.1,379.2L1697.4,381.3L1697.6,383.5L1697.9,385.5L1698.1,387.6L1698.5,390.8L1699.0,393.9L1699.4,397.0L1699.8,400.1L1700.2,403.0L1700.6,405.8L1701.0,408.5L1701.4,411.1L1701.8,413.6L1702.3,415.9L1702.7,418.1L1703.1,420.1L1703.5,422.0L1704.3,425.1L1705.0,428.1L1705.8,430.9L1706.5,433.5L1707.3,436.0L1708.0,438.2L1708.8,440.3L1709.5,442.3L1710.3,444.1L1711.0,445.7L1712.5,448.6L1714.0,451.1L1715.5,453.7L1717.0,455.8L1718.4,457.8L1719.9,459.5L1721.4,461.0L1722.9,463.1L1725.0,465.1L1727.2,467.0L1729.3,468.5L1731.5,469.7L1733.6,471.8L1735.8,472.8L1737.9,474.6L1740.1,475.6L1742.3,477.0L1744.4,478.6L1746.6,479.9L1748.7,481.7L1750.9,482.1L1753.3,483.5L1755.7,484.9L1758.2,485.8L1760.6,486.8L1763.0,487.8L1765.5,487.7L1768.0,487.7L1770.5,486.8L1773.0,486.2L1775.5,485.1L1777.9,484.5L1780.1,483.1L1782.2,482.0L1784.4,479.6L1786.6,477.8L1788.7,476.1L1790.9,473.5L1792.5,472.2L1794.1,470.5L1795.7,468.7L1797.3,466.8L1798.9,464.8L1800.5,463.2L1802.2,460.8L1803.8,458.5L1805.0,456.6L1806.2,454.5L1807.5,452.2L1808.7,449.7L1809.9,447.0L1811.2,444.3L1812.4,441.4L1813.2,439.2L1814.1,436.8L1815.0,434.2L1815.8,431.5L1816.7,428.8L1817.6,426.0L1818.4,423.3L1819.3,420.6L1820.1,418.0L1821.0,415.5L1822.0,412.6L1823.0,409.4L1824.1,406.5L1825.1,404.1L1826.1,402.9L1827.9,401.1L1829.2,403.3L1830.5,406.9L1831.0,408.5L1831.4,410.6L1831.9,413.1L1832.4,415.7L1832.8,418.5L1833.3,421.4L1833.7,424.1L1834.1,426.5L1834.5,429.0L1834.9,431.6L1835.3,434.2L1835.7,436.9L1836.1,439.6L1836.5,442.3L1836.9,444.9L1837.3,447.4L1837.7,449.9L1838.0,452.1L1838.5,455.1L1839.0,458.3L1839.5,461.5L1840.0,464.4L1840.5,466.8L1841.0,468.6L1841.5,469.4L1843.9,470.6L1846.2,470.7L1848.5,469.9L1850.8,468.8L1853.1,466.8L1855.4,465.8L1858.1,465.7L1860.8,464.5L1863.5,464.4L1866.2,463.3L1868.4,461.5L1870.5,459.4L1872.7,458.0L1874.8,456.2L1877.0,455.9L1879.1,455.3L1881.3,454.4L1883.1,453.5L1884.9,452.0L1886.7,450.0L1887.1,449.1L1887.5,447.8L1887.9,446.0L1888.3,443.8L1888.7,441.1L1889.1,438.0L1889.5,434.5L1889.9,430.6L1890.0,429.4L1890.1,428.0L1890.2,426.3L1890.3,424.4L1890.4,422.2L1890.5,419.9L1890.6,417.4L1890.7,414.8L1890.8,412.0L1890.9,409.2L1891.0,406.2L1891.1,403.2L1891.2,400.2L1891.3,397.1L1891.4,394.0L1891.5,391.0L1891.6,388.0L1891.7,385.0L1891.8,382.2L1891.9,379.4L1892.0,376.8L1892.1,374.2L1892.2,371.6L1892.3,368.9L1892.4,366.3L1892.5,363.6L1892.6,360.9L1892.8,358.2L1892.9,355.5L1893.0,352.8L1893.1,350.1L1893.2,347.4L1893.3,344.8L1893.4,342.2L1893.5,339.6L1893.6,337.0L1893.7,334.5L1893.8,332.1L1893.9,329.7L1894.0,327.4L1894.1,325.1L1894.2,323.0L1894.3,319.9L1894.5,316.7L1894.6,313.5L1894.8,310.4L1894.9,307.3L1895.0,304.5L1895.2,302.0L1895.3,299.9L1895.5,298.2L1895.6,297.1L1896.2,294.4L1896.8,293.4L1897.5,295.0L1898.2,299.3L1898.3,300.6L1898.5,302.6L1898.6,305.2L1898.7,308.1L1898.9,311.2L1899.0,314.4L1899.1,317.5L1899.3,320.4L1899.4,323.0L1899.6,326.1L1899.8,329.1L1899.9,332.1L1900.1,335.0L1900.3,337.8L1900.5,340.6L1900.7,343.3L1900.8,345.9L1901.0,348.4L1901.2,350.8L1901.4,353.1L1901.5,355.3L1901.8,358.5L1902.1,361.9L1902.3,365.3L1902.6,368.6L1902.9,371.6L1903.1,374.3L1903.4,376.5L1903.7,378.1L1903.9,378.9L1906.3,382.2L1908.6,383.1L1911.0,382.1L1913.4,380.3L1915.7,379.1L1918.4,380.6L1921.1,380.9L1921.5,380.5L1921.8,378.9L1922.2,376.5L1922.5,373.4L1922.9,369.9L1923.2,366.0L1923.4,364.4L1923.5,362.4L1923.6,360.0L1923.7,357.4L1923.9,354.5L1924.0,351.4L1924.1,348.3L1924.3,345.1L1924.4,342.1L1924.5,339.1L1924.6,336.3L1924.8,333.7L1924.9,330.9L1925.0,327.8L1925.2,324.8L1925.3,322.0L1925.5,319.5L1925.6,317.6L1925.7,316.5L1926.9,313.2L1928.0,315.2L1929.1,318.7L1929.7,320.7L1930.3,322.9L1930.9,325.4L1931.5,328.0L1932.2,330.8L1932.8,333.7L1933.2,335.8L1933.6,338.1L1934.0,340.4L1934.4,342.9L1934.8,345.5L1935.2,348.1L1935.7,350.8L1936.1,353.4L1936.5,356.1L1936.9,358.7L1937.3,361.2L1937.7,363.7L1938.1,366.0L1938.6,368.7L1939.1,371.4L1939.6,374.1L1940.1,376.7L1940.6,379.3L1941.1,381.9L1941.6,384.4L1942.1,386.9L1942.6,389.3L1943.1,391.7L1943.6,394.0L1944.1,396.2L1944.6,398.3L1945.3,401.3L1946.0,404.3L1946.8,407.2L1947.5,410.1L1948.2,412.8L1948.9,415.4L1949.6,417.8L1950.3,420.0L1951.1,422.0L1952.3,425.1L1953.5,427.9L1954.7,430.5L1956.0,432.9L1957.2,435.1L1958.4,437.1L1959.7,439.2L1961.3,442.0L1962.9,444.8L1964.6,447.3L1966.2,449.2L1967.8,450.1L1969.3,449.3L1970.8,447.4L1972.3,444.6L1973.8,441.4L1974.5,439.2L1975.1,436.0L1975.8,432.7L1976.4,429.9L1977.1,428.7L1979.8,427.5L1982.4,426.3L1982.9,425.5L1983.4,424.0L1983.8,421.9L1984.3,419.2L1984.8,416.1L1985.2,412.7L1985.7,409.1L1985.8,407.7L1986.0,406.1L1986.1,404.2L1986.3,402.1L1986.4,399.8L1986.6,397.4L1986.7,394.8L1986.9,392.1L1987.1,389.3L1987.2,386.4L1987.4,383.4L1987.5,380.4L1987.7,377.4L1987.8,374.4L1988.0,371.4L1988.1,368.4L1988.3,365.6L1988.4,362.8L1988.6,360.2L1988.7,357.6L1988.9,355.3L1989.1,352.4L1989.3,349.6L1989.5,346.7L1989.7,343.7L1989.9,340.9L1990.0,338.0L1990.2,335.1L1990.4,332.4L1990.6,329.6L1990.8,327.0L1991.0,324.5L1991.2,322.1L1991.4,319.8L1991.6,317.6L1991.8,315.6L1991.9,313.8L1992.1,312.2L1992.6,308.9L1993.0,305.7L1993.4,302.8L1993.8,300.2L1994.3,298.0L1994.7,296.2L1995.1,295.0L1996.9,292.5L1997.3,293.1L1997.7,295.0L1998.1,297.7L1998.5,301.0L1998.9,304.5L1999.3,307.9L1999.5,309.9L1999.8,312.3L2000.0,314.9L2000.2,317.8L2000.4,320.8L2000.7,323.9L2000.9,327.1L2001.1,330.1L2001.4,333.1L2001.6,336.0L2001.8,338.6L2002.0,341.0L2002.3,343.0L2002.5,344.6L2003.1,348.0L2003.7,350.9L2004.2,353.4L2004.8,355.4L2005.4,356.8L2006.9,358.8L2008.5,360.2L2010.0,361.4L2011.5,364.1L2011.9,365.2L2012.2,367.0L2012.5,369.2L2012.9,371.9L2013.2,374.9L2013.5,378.1L2013.9,381.4L2014.2,384.7L2014.5,387.9L2014.9,390.8L2015.2,393.5L2015.6,396.4L2016.0,399.3L2016.4,402.2L2016.7,405.2L2017.1,408.1L2017.5,411.1L2017.9,414.0L2018.3,416.9L2018.7,419.7L2019.1,422.5L2019.5,425.2L2019.8,427.8L2020.2,430.3L2020.6,432.7L2021.0,434.9L2021.4,437.0L2021.8,439.0L2022.2,440.8L2022.5,442.4L2023.5,445.9L2024.4,449.2L2025.3,452.3L2026.2,455.1L2027.1,457.8L2028.0,460.3L2029.0,462.6L2029.9,464.8L2030.8,466.8L2031.7,468.6L2032.6,470.0L2033.5,472.0L2035.4,474.8L2037.2,476.6L2039.1,479.5L2040.9,481.5L2042.7,482.7L2044.6,484.0L2047.2,484.7L2049.8,486.0L2052.4,486.8L2053.0,486.3L2053.7,485.2L2054.4,483.7L2055.0,481.5L2055.7,478.8L2056.4,475.4L2057.0,471.4L2057.7,466.9L2057.8,465.9L2057.9,464.6L2058.0,462.8L2058.1,460.8L2058.2,458.4L2058.3,455.8L2058.4,453.0L2058.5,450.1L2058.6,447.0L2058.7,443.8L2058.8,440.5L2058.9,437.3L2059.0,434.1L2059.1,431.0L2059.2,428.0L2059.3,425.1L2059.4,422.5L2059.5,420.1L2059.6,418.0L2059.8,414.5L2059.9,410.8L2060.1,407.1L2060.3,403.6L2060.4,400.6L2060.6,398.1L2060.8,396.5L2060.9,395.9L2061.2,396.7L2061.5,398.7L2061.7,401.5L2062.0,404.8L2062.3,408.2L2062.4,409.9L2062.5,411.9L2062.7,414.2L2062.8,416.7L2062.9,419.4L2063.1,422.2L2063.2,425.1L2063.3,428.1L2063.4,431.2L2063.6,434.2L2063.7,437.3L2063.8,440.2L2064.0,443.1L2064.1,445.8L2064.2,448.4L2064.3,450.7L2064.5,452.8L2064.6,454.6L2064.9,458.4L2065.2,462.1L2065.5,465.8L2065.8,469.4L2066.1,472.7L2066.3,475.7L2066.6,478.4L2066.9,480.7L2067.2,482.4L2067.5,483.5L2067.8,484.1L2070.0,484.7L2072.2,484.9L2074.4,485.6L2074.7,484.9L2075.0,484.5L2075.3,483.7L2075.6,482.5L2075.9,481.0L2076.3,479.2L2076.6,477.1L2076.9,474.7L2077.2,472.1L2077.5,469.2L2077.8,466.0L2078.1,462.6L2078.4,459.0L2078.8,455.2L2079.1,451.1L2079.4,446.9L2079.7,442.4L2079.8,441.4L2079.8,440.2L2079.9,438.8L2080.0,437.3L2080.0,435.7L2080.1,433.9L2080.2,432.0L2080.2,430.0L2080.3,427.9L2080.4,425.6L2080.4,423.3L2080.5,420.8L2080.6,418.3L2080.6,415.7L2080.7,413.0L2080.8,410.2L2080.8,407.4L2080.9,404.5L2080.9,401.5L2081.0,398.6L2081.1,395.5L2081.1,392.5L2081.2,389.4L2081.3,386.3L2081.3,383.2L2081.4,380.1L2081.5,377.0L2081.5,373.9L2081.6,370.8L2081.7,367.7L2081.7,364.6L2081.8,361.6L2081.9,358.7L2081.9,355.7L2082.0,352.8L2082.1,350.0L2082.1,347.3L2082.2,344.6L2082.3,342.0L2082.3,339.4L2082.4,336.7L2082.4,333.9L2082.5,331.1L2082.6,328.2L2082.6,325.3L2082.7,322.4L2082.8,319.5L2082.8,316.5L2082.9,313.5L2082.9,310.5L2083.0,307.5L2083.1,304.5L2083.1,301.6L2083.2,298.7L2083.3,295.7L2083.3,292.9L2083.4,290.1L2083.4,287.3L2083.5,284.6L2083.6,281.9L2083.6,279.3L2083.7,276.8L2083.8,274.4L2083.8,272.1L2083.9,269.9L2083.9,267.7L2084.0,265.7L2084.1,263.9L2084.1,262.1L2084.2,260.5L2084.3,259.0L2084.4,255.3L2084.6,251.6L2084.7,248.1L2084.9,244.7L2085.1,241.6L2085.2,238.8L2085.4,236.5L2085.6,234.8L2085.7,233.7L2085.9,233.6L2086.1,233.7L2086.2,234.8L2086.4,236.5L2086.6,238.8L2086.7,241.5L2086.9,244.6L2087.1,248.0L2087.3,251.6L2087.4,255.3L2087.6,259.0L2087.7,260.5L2087.8,262.1L2087.8,263.9L2087.9,265.9L2088.0,268.0L2088.0,270.2L2088.1,272.6L2088.2,275.1L2088.2,277.7L2088.3,280.4L2088.3,283.1L2088.4,286.0L2088.5,288.9L2088.5,291.8L2088.6,294.8L2088.7,297.8L2088.7,300.9L2088.8,303.9L2088.9,307.0L2088.9,310.1L2089.0,313.1L2089.1,316.1L2089.1,319.1L2089.2,322.0L2089.3,324.9L2089.3,327.7L2089.4,330.4L2089.5,333.1L2089.5,335.6L2089.6,338.0L2089.7,340.3L2089.7,342.5L2089.8,344.6L2089.9,347.9L2090.0,351.2L2090.1,354.5L2090.2,357.7L2090.4,360.9L2090.5,364.1L2090.6,367.2L2090.7,370.3L2090.8,373.4L2090.9,376.5L2091.0,379.4L2091.1,382.4L2091.2,385.3L2091.4,388.1L2091.5,390.9L2091.6,393.7L2091.7,396.4L2091.8,399.0L2091.9,401.6L2092.0,404.1L2092.1,406.5L2092.2,408.9L2092.4,411.2L2092.5,413.5L2092.6,415.6L2092.7,417.7L2092.8,419.8L2092.9,421.7L2093.0,423.6L2093.1,425.4L2093.2,427.1L2093.4,428.7L2093.5,430.2L2093.8,433.9L2094.0,437.6L2094.3,441.0L2094.6,444.4L2094.9,447.6L2095.2,450.7L2095.5,453.6L2095.8,456.4L2096.1,459.0L2096.3,461.5L2096.6,463.8L2096.9,465.9L2097.2,467.9L2097.5,469.7L2097.8,471.4L2098.1,472.9L2098.4,474.2L2099.3,477.9L2100.2,481.3L2101.1,484.3L2102.0,486.9L2102.9,489.2L2103.9,491.1L2104.8,492.5L2105.7,493.6L2108.1,496.0L2110.6,497.9L2113.0,499.4L2115.5,500.0L2117.9,500.1L2120.4,500.5L2122.8,501.0L2125.3,501.2L2126.9,500.2L2128.5,497.5L2130.2,495.0L2131.6,492.0L2133.1,490.2L2133.9,491.8L2134.7,495.4L2135.5,499.2L2136.3,501.0L2139.0,502.4L2141.6,502.5L2143.9,501.9L2146.2,501.4L2148.5,500.0L2150.8,498.2L2153.1,497.5L2155.1,496.1L2157.0,494.7L2159.0,492.8L2160.9,491.2L2162.9,489.0L2164.3,487.8L2165.7,485.8L2167.1,484.1L2168.5,482.2L2169.9,479.8L2171.3,477.2L2172.7,474.2L2173.3,472.7L2173.9,471.1L2174.5,469.3L2175.1,467.1L2175.7,464.7L2176.4,461.8L2177.0,458.5L2177.6,454.6L2177.8,453.3L2177.9,451.8L2178.1,450.0L2178.3,448.1L2178.5,445.9L2178.6,443.5L2178.8,440.9L2179.0,438.1L2179.2,435.2L2179.3,432.0L2179.5,428.7L2179.7,425.3L2179.9,421.7L2180.0,418.0L2180.1,416.3L2180.2,414.5L2180.2,412.5L2180.3,410.3L2180.4,408.0L2180.4,405.5L2180.5,402.9L2180.6,400.2L2180.7,397.3L2180.7,394.4L2180.8,391.5L2180.9,388.4L2180.9,385.4L2181.0,382.3L2181.1,379.2L2181.1,376.1L2181.2,373.0L2181.3,370.0L2181.4,367.0L2181.4,364.0L2181.5,361.2L2181.6,358.4L2181.6,355.8L2181.7,353.2L2181.8,350.8L2181.8,348.6L2181.9,346.5L2182.0,344.6L2182.1,341.2L2182.2,337.9L2182.4,334.7L2182.5,331.7L2182.6,328.7L2182.8,325.8L2182.9,323.1L2183.0,320.5L2183.2,318.0L2183.3,315.7L2183.4,313.5L2183.6,311.5L2183.7,309.6L2183.8,307.9L2184.1,304.5L2184.4,301.2L2184.6,298.4L2184.9,296.4L2185.2,295.8L2185.5,296.4L2185.8,298.5L2186.1,301.4L2186.5,304.6L2186.8,307.9L2187.0,309.9L2187.2,312.2L2187.4,314.8L2187.6,317.6L2187.7,320.5L2187.9,323.5L2188.1,326.6L2188.3,329.7L2188.5,332.7L2188.7,335.5L2188.9,338.2L2189.1,340.6L2189.3,342.8L2189.5,344.6L2189.9,348.3L2190.3,352.0L2190.8,355.5L2191.2,358.7L2191.7,361.4L2192.1,363.5L2192.6,364.9L2193.0,365.2L2193.7,364.7L2194.3,363.1L2195.0,360.5L2195.7,357.5L2196.3,354.1L2197.0,350.6L2197.7,347.4L2198.3,344.6L2199.1,341.6L2199.8,338.3L2200.6,335.3L2201.3,332.7L2202.0,331.2L2204.2,328.5L2206.5,327.5L2207.1,328.8L2207.8,331.7L2208.5,334.8L2209.0,337.1L2209.5,339.8L2210.1,342.7L2210.6,345.6L2211.1,348.4L2211.6,350.9L2212.2,352.9L2212.7,354.4L2214.5,357.9L2216.2,358.8L2217.1,359.0L2218.0,357.6L2218.9,355.8L2219.8,353.0L2220.7,349.3L2221.6,344.6L2221.6,344.0L2221.7,343.2L2221.8,342.0L2221.8,340.7L2221.9,339.1L2222.0,337.2L2222.1,335.2L2222.1,332.9L2222.2,330.5L2222.3,327.9L2222.3,325.2L2222.4,322.4L2222.5,319.4L2222.6,316.3L2222.6,313.2L2222.7,309.9L2222.8,306.7L2222.8,303.3L2222.9,300.0L2223.0,296.6L2223.1,293.3L2223.1,289.9L2223.2,286.6L2223.3,283.4L2223.3,280.2L2223.4,277.1L2223.5,274.1L2223.6,271.2L2223.6,268.8L2223.7,266.3L2223.7,263.8L2223.8,261.3L2223.9,258.7L2223.9,256.1L2224.0,253.5L2224.1,250.9L2224.1,248.2L2224.2,245.6L2224.2,242.9L2224.3,240.2L2224.4,237.5L2224.4,234.8L2224.5,232.1L2224.5,229.4L2224.6,226.7L2224.7,224.0L2224.7,221.3L2224.8,218.6L2224.8,216.0L2224.9,213.3L2225.0,210.7L2225.0,208.1L2225.1,205.5L2225.2,202.9L2225.2,200.3L2225.3,197.8L2225.3,195.1L2225.4,192.2L2225.5,189.3L2225.5,186.3L2225.6,183.3L2225.7,180.2L2225.7,177.2L2225.8,174.1L2225.9,171.2L2225.9,168.3L2226.0,165.4L2226.1,162.7L2226.1,160.2L2226.2,157.8L2226.3,155.6L2226.3,153.5L2226.4,151.7L2226.5,150.2L2226.5,148.9L2226.8,144.8L2227.0,141.2L2227.2,138.2L2227.5,136.2L2227.7,135.5L2228.3,136.3L2228.8,138.5L2229.4,141.6L2229.9,145.3L2230.4,148.9L2230.7,150.7L2231.0,152.8L2231.2,155.0L2231.5,157.3L2231.7,159.8L2232.0,162.5L2232.3,165.2L2232.5,168.0L2232.8,170.9L2233.1,173.8L2233.3,176.8L2233.6,179.7L2233.8,182.7L2234.1,185.6L2234.3,187.9L2234.5,190.2L2234.7,192.7L2234.9,195.1L2235.1,197.7L2235.3,200.2L2235.5,202.8L2235.7,205.4L2235.9,208.1L2236.1,210.8L2236.3,213.4L2236.5,216.1L2236.8,218.8L2237.0,221.5L2237.2,224.2L2237.4,226.8L2237.6,229.5L2237.8,232.1L2238.0,234.7L2238.2,237.2L2238.4,239.7L2238.6,242.1L2238.8,244.4L2239.0,246.7L2239.3,249.6L2239.5,252.6L2239.8,255.5L2240.0,258.5L2240.3,261.5L2240.5,264.4L2240.8,267.4L2241.1,270.3L2241.3,273.1L2241.6,275.9L2241.8,278.6L2242.1,281.2L2242.3,283.7L2242.6,286.1L2242.9,288.3L2243.1,290.4L2243.4,292.3L2243.6,294.1L2243.9,295.7L2244.5,299.2L2245.1,302.7L2245.7,305.9L2246.3,308.9L2246.9,311.5L2247.6,313.5L2248.2,314.9L2248.8,315.0L2250.0,314.0L2251.2,311.6L2252.4,308.4L2253.7,305.4L2254.9,302.3L2256.1,299.1L2257.3,297.4L2257.9,298.7L2258.6,301.3L2259.2,304.8L2259.8,308.4L2260.4,311.3L2261.0,312.8L2263.2,314.7L2265.4,315.6L2267.6,315.6L2268.3,315.4L2268.9,314.4L2269.6,312.8L2270.3,310.6L2270.9,307.8L2271.6,304.3L2272.3,300.3L2272.9,295.7L2273.0,294.9L2273.1,293.7L2273.2,292.4L2273.3,290.7L2273.4,288.8L2273.5,286.7L2273.5,284.4L2273.6,281.9L2273.7,279.2L2273.8,276.4L2273.9,273.5L2274.0,270.4L2274.1,267.3L2274.2,264.1L2274.3,260.8L2274.3,257.5L2274.4,254.2L2274.5,250.9L2274.6,247.7L2274.7,244.4L2274.8,241.2L2274.9,238.1L2275.0,235.1L2275.1,232.3L2275.1,229.5L2275.2,226.9L2275.3,224.5L2275.4,222.3L2275.5,219.2L2275.7,216.1L2275.8,212.9L2275.9,209.7L2276.1,206.6L2276.2,203.5L2276.3,200.4L2276.4,197.4L2276.6,194.4L2276.7,191.6L2276.8,188.9L2277.0,186.3L2277.1,183.8L2277.2,181.6L2277.3,179.5L2277.5,177.6L2277.6,176.0L2277.7,174.5L2277.9,173.4L2278.3,169.6L2278.8,166.3L2279.3,163.6L2279.8,161.8L2280.3,161.2L2282.1,163.2L2284.0,166.0L2285.2,168.5L2286.4,171.4L2287.6,173.2L2289.5,175.2L2291.3,176.4L2291.9,175.1L2292.5,173.2L2293.1,170.5L2293.7,167.3L2294.3,164.1L2294.9,161.1L2295.4,158.4L2295.9,155.1L2296.4,152.5L2296.9,151.0L2298.5,152.8L2300.1,155.0" stroke="#00CDCD" stroke-width="12.5"/>
</g>
<g stroke="#000" stroke-width="6.2" fill="none" stroke-linecap="butt">
<rect x="179.4" y="17.5" width="2143.6" height="1730.5"/>
<line x1="179.0" y1="1748" x2="179.0" y2="1783"/>
<line x1="326.2" y1="1748" x2="326.2" y2="1766"/>
<line x1="473.4" y1="1748" x2="473.4" y2="1783"/>
<line x1="620.6" y1="1748" x2="620.6" y2="1766"/>
<line x1="767.8" y1="1748" x2="767.8" y2="1783"/>
<line x1="915.0" y1="1748" x2="915.0" y2="1766"/>
<line x1="1062.2" y1="1748" x2="1062.2" y2="1783"/>
<line x1="1209.4" y1="1748" x2="1209.4" y2="1766"/>
<line x1="1356.6" y1="1748" x2="1356.6" y2="1783"/>
<line x1="1503.8" y1="1748" x2="1503.8" y2="1766"/>
<line x1="1651.0" y1="1748" x2="1651.0" y2="1783"/>
<line x1="1798.2" y1="1748" x2="1798.2" y2="1766"/>
<line x1="1945.4" y1="1748" x2="1945.4" y2="1783"/>
<line x1="2092.6" y1="1748" x2="2092.6" y2="1766"/>
<line x1="2239.8" y1="1748" x2="2239.8" y2="1783"/>
</g>
<g font-size="82" text-anchor="middle">
<text x="179.0" y="1867.5">4000</text>
<text x="473.4" y="1867.5">3500</text>
<text x="767.8" y="1867.5">3000</text>
<text x="1062.2" y="1867.5">2500</text>
<text x="1356.6" y="1867.5">2000</text>
<text x="1651.0" y="1867.5">1500</text>
<text x="1945.4" y="1867.5">1000</text>
<text x="2239.8" y="1867.5">500</text>
</g>
<text x="851.6" y="2030.3" font-size="98.5">Wavenumber (cm<tspan font-size="65" dy="-41">−1</tspan><tspan dy="41">)</tspan></text>
<text transform="translate(85,881.8) rotate(-90)" font-size="99.4" text-anchor="middle">Transmittance (%)</text>
<g>
<text x="456.4" y="176.8" font-size="90">3388</text>
<text x="567" y="283.2" font-size="90">3230</text>
<text x="305.3" y="432" font-size="90">3625</text>
<text x="684.9" y="373.8" font-size="90">3020</text>
<text x="1264.7" y="118.8" font-size="88">1660</text>
<text x="1513.1" y="100" font-size="88">1531</text>
<text x="1161.7" y="245.5" font-size="88">1731</text>
<text x="1161.7" y="372" font-size="88">1780</text>
<text x="1718.4" y="116.9" font-size="88">1444</text>
<text x="1934.5" y="100.2" font-size="88">1031</text>
<text x="1739.4" y="232" font-size="88">1083</text>
<text x="1998.6" y="195.4" font-size="88">912</text>
<text x="794.2" y="477" font-size="94">2#</text>
<text x="793" y="705.2" font-size="94">1#</text>
<text x="789.7" y="874.6" font-size="94">0#</text>
<text x="796.5" y="1095.2" font-size="94">MMT</text>
<text x="795.6" y="1379" font-size="94">MCA</text>
<text x="790.6" y="1551.8" font-size="94">MA</text>
<text x="795.3" y="1672.2" font-size="94">CA</text>
<text x="1880" y="1158.3" font-size="88">1014</text>
</g>
<polygon points="541.2,199.0 553.5,249.0 529.0,249.0" fill="#000"/>
<line x1="541.2" y1="1329" x2="541.2" y2="245" stroke="#000" stroke-width="4" stroke-dasharray="21 20.6"/>
<polygon points="634.0,318.0 646.2,368.0 621.8,368.0" fill="#000"/>
<line x1="634.0" y1="1435.4" x2="634.0" y2="364" stroke="#000" stroke-width="4" stroke-dasharray="21 20.6"/>
<polygon points="397.1,446.5 409.4,496.5 384.9,496.5" fill="#000"/>
<line x1="397.1" y1="1475" x2="397.1" y2="492.5" stroke="#000" stroke-width="4" stroke-dasharray="21 20.6"/>
<polygon points="760.6,389.7 772.9,439.7 748.4,439.7" fill="#000"/>
<line x1="760.6" y1="1445" x2="760.6" y2="435.7" stroke="#000" stroke-width="4" stroke-dasharray="21 20.6"/>
<path d="M1942.7,843.5L1953.2,1022" stroke="#000" stroke-width="2" fill="none"/>
<polygon points="1955.7,1067.8 1941.7,1022.8 1964.6,1021.5" fill="#000"/>
<path d="M1685.7,199L1718,159.1" stroke="#000" stroke-width="2" fill="none"/>
<polygon points="1746.3,123.6 1726.6,166.4 1708.7,152.0" fill="#000"/>
<path d="M1925.5,299.8L1948.4,170.7" stroke="#000" stroke-width="2" fill="none"/>
<polygon points="1955.6,127.6 1959.1,174.6 1936.4,170.6" fill="#000"/>
<path d="M1999.2,286.9L2018.3,238" stroke="#000" stroke-width="2" fill="none"/>
<polygon points="2035.0,194.9 2029.1,241.7 2007.7,233.3" fill="#000"/>
<path d="M1888.8,282.7Q1886,278 1880.3,275.5" stroke="#000" stroke-width="2" fill="none"/>
<polygon points="1845.3,244.0 1887.4,267.1 1872.7,283.5" fill="#000"/>
<path d="M1512.7,208.4L1415.8,207.7" stroke="#000" stroke-width="2" fill="none"/>
<polygon points="1370.1,207.5 1415.8,196.0 1415.8,219.0" fill="#000"/>
<path d="M1488.5,324.9Q1433,303.6 1381.4,315" stroke="#000" stroke-width="2" fill="none"/>
<polygon points="1335.7,316.8 1381.4,305.3 1381.4,328.3" fill="#000"/>
<path d="M1554.2,228.5Q1543.9,163.2 1488.5,131.1" stroke="#000" stroke-width="2" fill="none"/>
<polygon points="1449.2,108.3 1494.5,121.3 1483.0,141.2" fill="#000"/>
<path d="M1633,204.3L1624.9,143.8" stroke="#000" stroke-width="2" fill="none"/>
<polygon points="1618.7,100.7 1636.4,144.4 1613.6,147.5" fill="#000"/>
</svg></body></html>
